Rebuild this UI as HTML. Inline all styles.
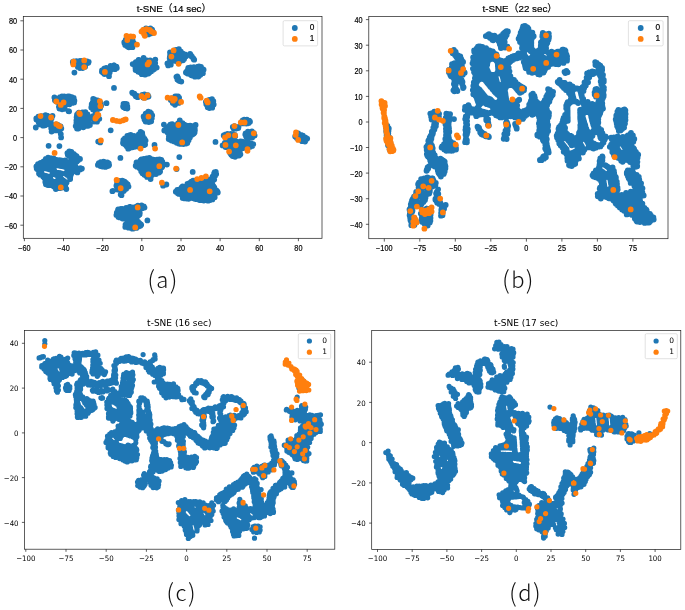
<!DOCTYPE html>
<html lang="en"><head><meta charset="utf-8"><title>t-SNE</title>
<style>
html,body{margin:0;padding:0;background:#fff}
body{width:685px;height:610px;overflow:hidden}
svg{display:block}
text{fill:#000}
.cap{font-family:"Noto Sans CJK SC","Liberation Sans",sans-serif;font-weight:300;fill:#111}
</style></head><body>
<svg width="685" height="610" viewBox="0 0 685 610">
<rect width="685" height="610" fill="#fff"/>

<g id="panel-a" font-family='"Liberation Sans", "Noto Sans CJK SC", sans-serif' stroke="#000" stroke-width="0.18">
<clipPath id="clip-a"><rect x="23.3" y="16.6" width="298.7" height="221.7"/></clipPath>
<g clip-path="url(#clip-a)" fill="none" stroke-linecap="round" stroke-width="5.8">
<path stroke="#1f77b4" d="M73 62.7h0M73.7 61.9h0M77 62.5h0M78.2 63.2h0M80.2 62.1h0M82.6 63.2h0M83.3 63.7h0M84.8 63.2h0M84.7 63.8h0M86.6 61.8h0M88.7 61.8h0M88.3 62.7h0M87 63.2h0M86.4 63.6h0M83.1 63.8h0M79.7 63.9h0M77.8 64h0M75.5 63.6h0M74.3 63.2h0M73.1 62.5h0M72.8 61.9h0M73.8 61.4h0M76.4 61.1h0M80 61h0M81.7 60.8h0M85.2 61.3h0M87.2 61.4h0M88.4 62.2h0M79 65.7h0M79.6 67.4h0M81.9 64h0M81 65.2h0M83.6 64.2h0M83.4 66.7h0M85.1 66.8h0M82.6 68h0M79.9 68h0M77.9 66.9h0M78.4 65h0M81.7 63.8h0M84.6 64.9h0M74.4 72.6h0M101.9 71.7h0M104 68.8h0M104.6 71.9h0M103.9 72.6h0M105.5 69h0M105.4 71.7h0M105.7 72.7h0M107.7 69h0M107.7 70.4h0M108.2 73.6h0M109.7 71.9h0M109.7 72.6h0M107.7 74h0M104.5 74.1h0M103.2 72.8h0M102 70.5h0M104.5 68.3h0M106.2 67.9h0M109.6 68.6h0M111.8 67.5h0M111.2 69h0M113.9 65.3h0M113 67.9h0M114.9 67.4h0M116.8 68h0M114.9 69.2h0M111.4 69.2h0M109.7 68.1h0M110.6 66h0M114.1 65.4h0M116.4 66.6h0M109 76.2h0M114 87.9h0M55.8 101h0M56.6 99.8h0M59.2 98.2h0M59.2 100.5h0M60.6 98.8h0M61.9 100.6h0M62 102.6h0M64.2 96.5h0M63.9 98.7h0M63.3 100.9h0M64.1 102.7h0M65.4 98.4h0M65.8 99.9h0M66.3 102.7h0M67.9 96.4h0M68.1 99h0M66.9 100.5h0M68.1 102h0M67.5 103.8h0M69.8 98.9h0M69.9 101.1h0M70 102.9h0M71.9 98.4h0M71.2 101h0M71.8 102.4h0M73.2 97.8h0M73.3 99.7h0M74.4 100.7h0M74.1 102.4h0M72.4 102.9h0M69.5 104.3h0M66.7 104.1h0M64.3 104.6h0M61.3 103.6h0M59 102.7h0M57.5 102.1h0M54.9 100.2h0M57.2 99h0M58.3 98.5h0M60.1 97.1h0M62 96.5h0M65 96.7h0M69.2 96.3h0M71.8 97.1h0M73.7 98h0M73.9 99.3h0M60.4 106.3h0M61.8 107.3h0M61.8 108.4h0M64.6 106.6h0M63.8 108.9h0M64.7 108.4h0M62.1 109.3h0M59.4 108.6h0M58.9 106.8h0M61.8 104.4h0M63.9 104.8h0M54.4 97.4h0M68.6 111.2h0M91.7 105.3h0M92.4 106.5h0M94.3 100.6h0M93.9 103.5h0M93.8 104.7h0M94.5 107.9h0M93.6 109.4h0M96 100.6h0M96.8 103.3h0M95.6 104.3h0M95.9 107h0M96.4 109.7h0M98.1 102.5h0M98.5 104.3h0M98.6 107.8h0M98.6 108.7h0M100 103.7h0M99.5 105.6h0M99.7 107.3h0M101.1 105.8h0M100.1 108.3h0M97.2 109.5h0M93 109.6h0M91.3 107.5h0M91.7 104.2h0M92.7 102.3h0M94.4 99.4h0M97.6 100.5h0M100.6 102.8h0M106.5 103.2h0M93.2 99h0M125 104.1h0M124.2 104.8h0M126.4 105.9h0M126.6 108.3h0M127.4 108.3h0M127.1 108.6h0M144.6 31.5h0M145.8 29.2h0M145.5 31.3h0M145.7 33.4h0M148 29.3h0M148.4 31.6h0M148.5 33.3h0M150.3 29h0M150.9 30.9h0M149.5 33.7h0M152.2 30.5h0M153 32h0M151.5 33.3h0M148.3 34.4h0M145.5 34.3h0M143.8 31.2h0M144.4 29.7h0M146 28.4h0M150.4 28.5h0M152.1 29.7h0M124.3 42.2h0M125.1 44.1h0M127.6 38.5h0M126.5 40.6h0M126.2 43.2h0M126.8 44.6h0M126.9 45.9h0M128.6 38.3h0M128.5 41h0M129.8 41.7h0M128.9 45h0M128.8 47.3h0M131.1 38.8h0M131.4 40.4h0M131.8 41.9h0M131.5 44h0M131.3 46.2h0M133.3 43.1h0M132.7 44h0M132.4 46.7h0M133.7 42.8h0M132.5 47.2h0M130.7 47.1h0M128 46.8h0M125.2 45h0M124.4 43.1h0M125.8 39.7h0M126.7 38.2h0M128.4 36.8h0M131.7 39h0M132.6 40.5h0M136.3 62.5h0M136.1 64.2h0M136.7 66.7h0M136.2 69h0M138.7 59.8h0M138.2 61.6h0M139.1 64.6h0M139.4 67.4h0M138.6 69h0M139.6 70.3h0M141 62h0M140.5 64.3h0M141 66.1h0M141.3 68.3h0M140.4 70.5h0M140.9 72.3h0M143.1 62.5h0M143.1 64.2h0M142.7 65.8h0M142.9 69.3h0M143.2 70.4h0M143.4 72.4h0M145.1 62h0M145.7 65.1h0M145 67.2h0M144.5 68.1h0M145.2 70.5h0M145 73.7h0M144.7 74.5h0M146.9 60.3h0M147.6 62.5h0M147.5 64.6h0M147.8 67.3h0M147.1 68.4h0M147.9 70.5h0M147.7 73.2h0M149.1 60.7h0M149.5 62h0M149 64.2h0M148.9 66.6h0M148.8 68h0M148.7 70.2h0M149.7 72.3h0M151.3 62.7h0M151.1 64.8h0M151.2 66.3h0M151.9 69.2h0M154.3 63.1h0M153 64.8h0M153.5 66.8h0M153.5 69.4h0M155.5 66.8h0M156.7 67.6h0M154.2 68.9h0M152.7 70h0M151.3 71.2h0M148.4 73.6h0M145.4 74.5h0M141.8 74.2h0M139.9 72.2h0M138.3 71.7h0M135.6 70.1h0M135.5 68.2h0M135.3 66.6h0M135.4 64.4h0M135.8 62.1h0M138.6 59.9h0M142.3 60.8h0M144.4 60.7h0M147.1 60.6h0M150.2 60.5h0M153 61.1h0M155.2 63.2h0M154.6 65h0M143.6 57.9h0M155.3 59.6h0M132.7 64.1h0M170.9 52.8h0M170.4 54.7h0M169.9 57h0M170.5 57.9h0M171.1 60.6h0M172.2 52.5h0M172.6 54.1h0M173.2 55.7h0M172.3 58.5h0M172 60.5h0M174.8 50.5h0M175.2 51.4h0M174.5 53.5h0M174 55.9h0M175.3 58.8h0M174.1 59.9h0M176.4 50.1h0M177.4 52.4h0M176.4 54.4h0M176.7 55.4h0M176.6 58h0M177 60h0M179.6 52.2h0M178.7 53.6h0M179.7 56.5h0M179.3 58.1h0M178.6 60.2h0M180.8 52.3h0M180.6 54.2h0M180.7 56.8h0M180.7 58.9h0M181.3 60.3h0M182.8 54.4h0M183.4 55.8h0M183 57.7h0M185 54.4h0M185.5 55.9h0M186 56.2h0M184.1 58.9h0M183 60.3h0M179.8 61.2h0M177.3 61.6h0M174.8 60.8h0M170.3 61h0M169.7 58.2h0M169.9 56.6h0M170.1 55.1h0M170 52.4h0M173.6 51.6h0M176.1 50h0M179.3 50.8h0M180.9 51.6h0M183 53.6h0M184.7 54.6h0M167.4 63.5h0M169.6 64h0M170.8 64.7h0M168.2 65.4h0M167.6 63.3h0M169.9 63h0M178.9 49.1h0M190.6 54.6h0M190.1 54h0M191.8 56.3h0M192 56.6h0M191.4 56.2h0M193.3 58.5h0M194.2 59.7h0M193.8 59.6h0M186.6 71.6h0M187.4 73.4h0M188.6 68.7h0M188.6 71.5h0M188.9 73.3h0M190.7 67.5h0M190.5 68.9h0M191.3 71.5h0M190.6 72.7h0M191.5 75.3h0M193.8 67.8h0M193 69.2h0M192.6 71.7h0M192.4 73.1h0M193.6 74.8h0M194.6 67.9h0M195.6 69.7h0M194.5 71.8h0M194.7 73h0M195.2 75.7h0M197.9 67.4h0M197 70h0M197.6 71h0M197.8 73.8h0M196.9 75.1h0M199 66.5h0M199.3 68.9h0M199 71h0M199.4 74h0M198.8 76.1h0M202.1 69.7h0M201.1 70.6h0M202.1 73.2h0M202.6 71.8h0M202.9 73.2h0M200.4 74.7h0M198.3 76.6h0M195 76.7h0M192.2 75.5h0M190.8 74.7h0M188.2 73.7h0M185.9 72.5h0M186.8 71.3h0M188 68.9h0M188.3 68h0M192.7 67.3h0M193.9 67.1h0M197.9 66.7h0M201 67h0M202.3 69h0M203.6 69.7h0M177.3 76.5h0M176.4 76.8h0M178.1 78h0M177.4 79.4h0M178.7 80.5h0M181.3 81.6h0M179.6 81h0M132.2 92.6h0M132.5 93.1h0M134.3 93.6h0M134.9 94.8h0M135.5 95.2h0M135.8 95.5h0M135.8 96.2h0M137.4 95.9h0M137.7 97.2h0M137.2 96.9h0M142 95.7h0M144.7 96.2h0M146.9 96.9h0M148.4 96.4h0M148.5 96.6h0M145.3 97.6h0M143.2 97.5h0M141.3 96.2h0M142.3 94.8h0M144.5 94.4h0M147.8 95.2h0M172.1 99.5h0M174.3 98.8h0M173.2 99.8h0M173.8 102.8h0M176.2 98.3h0M176.3 100.5h0M175.6 102.2h0M175.4 103.7h0M178.1 96.4h0M177.7 97.9h0M177.3 99.8h0M177.9 102.7h0M179.4 100.3h0M179.8 101.6h0M179.9 101.1h0M178.7 102.9h0M175 104.8h0M172.8 103h0M170.8 100.1h0M171.4 98.4h0M175.2 96.5h0M176.6 96.6h0M179.1 97.7h0M205.9 102h0M207.8 101h0M208.6 104.3h0M207.8 105.9h0M209.8 102.2h0M209.6 104.2h0M210.3 105.7h0M209.7 107.8h0M211.7 99.9h0M212 101.6h0M212.7 103.6h0M211.9 106.4h0M213.7 104.4h0M212.2 107.7h0M209.4 108.1h0M207.7 107.3h0M206.3 104.2h0M207.2 100.7h0M209.3 99.9h0M212 99.2h0M213.3 101.2h0M36.4 119.6h0M38.8 117.6h0M38.6 120.5h0M41.1 117.8h0M40.3 120h0M40.9 122.9h0M40.6 123.8h0M42.8 117.3h0M43 120.2h0M42.6 121.6h0M41.7 124.1h0M44.2 116.2h0M44.9 117.8h0M44.5 119.8h0M44.6 122h0M44.3 123.9h0M46.6 116h0M46.3 118.7h0M47.1 120.3h0M46.9 122.5h0M46.6 124.2h0M48 118.5h0M48.9 119.8h0M48.3 122.8h0M49.3 124.6h0M50.4 118.8h0M50.9 120.2h0M50.7 121h0M49.4 121.9h0M49.6 124.4h0M45.1 125.3h0M43.2 125.7h0M40.5 124.5h0M38.7 122.2h0M38.2 121h0M36.3 118.3h0M38.4 116.6h0M41.5 116.1h0M45.5 115.2h0M47.2 115.6h0M50.5 116.8h0M51.6 118.2h0M51.5 127.8h0M54.3 125.8h0M54.5 127.8h0M56.8 125.2h0M55.5 126.7h0M56.8 129.7h0M57.8 127.7h0M57.8 129h0M60.4 126.7h0M60.6 129.1h0M61.3 128.4h0M60.2 129.3h0M56.4 130.4h0M53.9 130.3h0M51.2 128.3h0M51.4 126.8h0M53.3 124.8h0M55.9 124.5h0M57.8 125h0M60.6 126.3h0M35.8 127.5h0M51.6 131.6h0M60.8 134.1h0M61.1 137.4h0M52.5 115.8h0M69.1 111.3h0M76.9 115.6h0M77.9 113.7h0M78.2 115.7h0M80.4 113.6h0M81.1 114.7h0M79.7 116.8h0M81.7 112.9h0M81.7 114.9h0M81.7 117.5h0M83.3 117h0M80.2 118.6h0M78.2 117.5h0M77 114.6h0M78.9 112.7h0M82.4 112.3h0M76.8 125h0M76.8 125.9h0M77.7 128.7h0M79.2 127.3h0M78.7 128.2h0M77 128.6h0M75.7 126.1h0M78.8 125h0M88.2 125.8h0M89.9 125h0M94.4 115.7h0M94.1 117.6h0M93.6 119.4h0M96.2 114.4h0M95.3 115.5h0M96.4 117.5h0M96.6 119.8h0M97.6 117.4h0M97.4 120.5h0M99.3 118.8h0M97 121.7h0M94 121.6h0M93.1 118h0M93 116.1h0M95.5 114.1h0M98.3 115.8h0M110.7 130.3h0M98.2 141.6h0M100.2 142.4h0M48.6 145.8h0M59.4 146.1h0M37.4 165.8h0M36.7 168.4h0M38.7 164.1h0M39.1 165.9h0M38.5 168.5h0M38.8 170.6h0M39 173.5h0M41.7 164.8h0M40.9 166.9h0M41.3 168.6h0M40.5 170.8h0M41.2 172.5h0M41.1 174.4h0M42.9 162.6h0M43.3 164.7h0M42.8 166.8h0M42.2 169.2h0M41.4 170.4h0M41.3 172.8h0M42.9 175.2h0M43.1 176.4h0M44.4 162.6h0M45.8 164.7h0M45.3 167h0M46.1 168.3h0M46.5 168.5h0M43.4 175.2h0M45.3 175.8h0M45.3 176.8h0M45.3 182h0M48 158h0M46.9 160.5h0M46.6 162h0M47 163.8h0M47.4 166.4h0M47.7 168.4h0M48.3 169h0M48.2 168.9h0M46.1 176h0M47.8 176.7h0M47.2 179.2h0M46.8 181.3h0M46.5 183.1h0M48.7 158.5h0M49.9 161h0M49.8 161.8h0M49.4 164.6h0M49.5 165.9h0M50.1 168.6h0M49.5 169.3h0M49.9 169.4h0M50.1 176.6h0M48.9 176.7h0M49.5 178.8h0M49.6 181.9h0M50.1 184h0M50 185h0M50.8 158.5h0M51.5 159.4h0M51.9 161.6h0M52 164.9h0M51.4 166.4h0M50.7 168.9h0M51.2 169.9h0M52.9 173.1h0M50.4 176.1h0M50.3 176.4h0M51 180.1h0M51.3 181.3h0M51.1 183h0M52.8 159.7h0M52.8 162.5h0M53.7 165.2h0M53.2 166.1h0M53.1 168.1h0M52.8 170.7h0M53.4 172.6h0M54.3 174.2h0M55.1 174.5h0M51.1 180.2h0M53.7 181.8h0M52.8 183.7h0M54.9 160h0M56.3 161.6h0M55.3 163.7h0M55.9 165.5h0M53.8 168.2h0M54.5 171.2h0M55.8 173.1h0M55.2 174.5h0M55.8 174.7h0M58.2 179.7h0M56.4 181.5h0M58 162.2h0M57 163.8h0M58.8 165.5h0M59 165.5h0M57.9 172.8h0M58.1 173.5h0M57.2 174.1h0M57.7 175.9h0M58.4 179.4h0M57.7 180.6h0M57.9 182.7h0M60.4 160.5h0M60.3 162.3h0M60.5 165h0M60.6 165.9h0M60 165.7h0M58.7 173h0M59.8 173.6h0M59.5 174.8h0M60.4 177.8h0M60.2 179.7h0M60.5 180.9h0M60 182.6h0M62.3 160.8h0M61.8 162.2h0M61.2 164.9h0M62.1 166.2h0M61.9 166.2h0M60.5 173.4h0M61.1 173.5h0M60.5 175.1h0M60.8 178.4h0M61.5 179.2h0M61.6 181.8h0M63.9 160.9h0M63.5 161.9h0M63.2 163.7h0M64.6 166.8h0M63.8 166.6h0M67.4 169.9h0M65.4 173.4h0M65.6 173.5h0M66.3 174h0M63.1 180.4h0M64.5 181.6h0M66.5 162h0M65.9 165.1h0M66.6 167.1h0M67.1 168.7h0M67.4 171h0M66.5 172.8h0M66.6 174.2h0M67.5 175h0M66.6 182.4h0M64.8 181.8h0M68.9 162h0M68.3 164.5h0M68.1 166h0M68.7 168h0M67.8 170.4h0M67.7 172.3h0M67.5 175h0M68.7 175.9h0M71 165.2h0M70.3 167.3h0M70.5 168.4h0M69.7 170h0M70.5 173.2h0M70.5 175.4h0M70.2 177.4h0M71.9 162.4h0M73.2 163.8h0M73 165.7h0M73.2 169.3h0M74.1 164.6h0M74.5 167h0M71.4 171.2h0M71.6 173.2h0M70.6 175.2h0M69.8 177.1h0M70.2 179h0M65.4 182.1h0M64.4 181.5h0M61.8 182.1h0M58.8 182.2h0M54.7 184.4h0M52.7 183.4h0M47.8 185.1h0M45.9 184.3h0M45.4 180.4h0M44.1 177.4h0M43.5 176.3h0M40.2 174.7h0M40 173h0M39.5 171.6h0M37.1 168.9h0M36.4 166.5h0M38 164.1h0M40.6 162.8h0M43.6 161.5h0M45.8 158.9h0M48.1 157.6h0M51.3 158.3h0M53.6 158.5h0M56.6 160h0M59.7 160.1h0M62.1 160.6h0M65.1 160.4h0M68.4 162.1h0M71 162.4h0M75 163.8h0M75.7 166.9h0M73 169.6h0M69.3 151.5h0M69.1 151.6h0M67.4 153.1h0M67.8 154.7h0M71.4 152h0M70.2 153.5h0M69.2 156.1h0M73.6 153.8h0M71.7 155.6h0M70.8 156.9h0M75 155.2h0M73.1 156.3h0M72.3 158.1h0M72.1 157.7h0M76.5 156.2h0M75.9 157.7h0M77.5 157.6h0M77.1 158.3h0M76.5 160.3h0M80 158.9h0M78.1 160.3h0M76.8 161.4h0M76.7 161.2h0M76.5 171.5h0M77.4 172.1h0M77.4 172.4h0M78.6 170.1h0M79.8 169.4h0M80.9 168.9h0M80.1 169.6h0M80.5 168.2h0M81.7 168.7h0M81.9 168.6h0M54.8 182.9h0M54.7 185h0M54.4 186.8h0M57 181.3h0M57.2 183h0M57.4 185.5h0M56.8 186.6h0M57.4 188.2h0M59.4 181.9h0M59.4 185.4h0M59.3 186.8h0M61.7 182.9h0M60.7 185.4h0M60.7 186.8h0M62.9 183.3h0M63.2 184.6h0M64.9 185.2h0M65.3 185.7h0M64.6 186.5h0M61.2 187.7h0M59.7 188.2h0M55.3 187.6h0M53.8 186.6h0M53.4 184.8h0M53.9 183.1h0M54.6 181.8h0M57.8 181.4h0M61.1 181.1h0M63.4 182.2h0M64.7 183.3h0M66.3 189h0M55.8 189h0M120.4 157.9h0M100.4 163.8h0M102 164.3h0M101.6 165.9h0M104.3 161.8h0M104.2 163.9h0M104.4 165.9h0M106.8 162.9h0M106.6 164h0M105.8 166.5h0M108.1 162.8h0M108.7 164.3h0M108 166.1h0M109.1 165.1h0M108.5 165.8h0M105.4 166.9h0M102.3 166.6h0M100.4 166.1h0M99.1 164.9h0M98.8 163.2h0M100.7 162.2h0M103.5 161.7h0M107.3 162.4h0M108.8 163.3h0M97.9 164.9h0M117.9 181.1h0M117 183.9h0M118.3 186.2h0M118.3 187.3h0M119.2 182.1h0M120.6 183h0M120.6 185.9h0M119 187.6h0M119.6 189.6h0M121.9 182h0M121.7 184h0M122.4 185.5h0M122.3 187.6h0M121.4 189.8h0M124.3 181.9h0M124.3 184.3h0M124.2 186h0M124.1 187.9h0M124.7 189.6h0M126.1 183h0M126.4 186.5h0M125.5 188h0M127.6 186.7h0M125.6 187.9h0M123.7 191h0M121.7 191.4h0M117.4 189.5h0M117.3 187.3h0M116.4 185.7h0M117.1 181.4h0M119.8 181.3h0M123.4 181.1h0M124.6 181.6h0M127.7 184.5h0M112.4 191.2h0M121.5 195.2h0M123.7 105.9h0M123.7 107.2h0M125.3 104.2h0M125.8 105.1h0M125 107.1h0M126.4 104.2h0M126.6 105.3h0M127.3 106.3h0M125.4 108.2h0M123.1 106.5h0M123.5 103.9h0M126.8 104.2h0M143.7 116.9h0M146.8 113.2h0M146.4 114.7h0M146.8 117.8h0M146.2 118.7h0M147.7 113.6h0M148.6 115.3h0M148.4 116.3h0M148.8 118.8h0M148.6 121.3h0M149.9 112.1h0M150.1 114.2h0M151 117.6h0M150.2 118.5h0M149.9 121.7h0M151.9 115.4h0M151.7 117.7h0M151.8 118.3h0M151.2 121.3h0M148.8 122.1h0M145.6 121.5h0M144.5 119.5h0M143.6 116.5h0M145.7 113.7h0M148.3 111.6h0M151 113.2h0M152.2 115.4h0M165.7 130.6h0M167.7 128.6h0M167.5 130.5h0M167.4 132.1h0M169.6 125.7h0M169 127.6h0M170.4 131.1h0M170.3 131.9h0M169.9 139.5h0M172.5 126.3h0M171 128.2h0M172.4 130.7h0M171.7 133.1h0M172.2 134.1h0M172.1 137.2h0M171 139.5h0M173.7 126.6h0M174.2 129h0M174.5 130.4h0M174.3 133h0M173.9 134.8h0M174.4 137.2h0M173.3 138h0M174.2 141.4h0M176.5 126.9h0M175.4 128.6h0M176 131h0M175.9 132.3h0M175.5 135.1h0M175.7 137.3h0M175.2 139.4h0M175.2 141.2h0M176.7 142.7h0M177.6 126.7h0M177.3 127.5h0M177.9 130.2h0M178.6 133h0M177.7 134.9h0M177.8 137.1h0M178.3 138.1h0M178 140.7h0M179.6 123.7h0M180.9 126h0M180.8 129h0M180.5 130.1h0M180.6 132.5h0M180.9 134.6h0M180.4 136.9h0M180.4 138.2h0M180.3 140.7h0M183 124.5h0M182.8 126.2h0M181.7 128h0M181.6 130.2h0M182.2 132.4h0M183 134.6h0M181.7 136.1h0M182.6 138.8h0M182.1 140.8h0M184.8 126.3h0M184.4 127.6h0M184.7 129.9h0M184.2 132.6h0M184 135.1h0M184.4 137.4h0M183.6 138.7h0M184.1 141h0M185.8 126.2h0M187.1 128.8h0M187 130.5h0M186.5 132.1h0M185.9 134.5h0M187 136.7h0M187.2 139.2h0M186.5 141h0M188.6 126.4h0M189.2 128.9h0M188.5 130.2h0M188.9 132.7h0M187.9 134.6h0M188.2 136.9h0M188 138.4h0M188.2 140.5h0M191.3 126.8h0M190 128.9h0M190.2 129.8h0M190.9 132.2h0M190.2 134.7h0M192.4 126.1h0M192.7 129h0M192.2 130h0M193 132.2h0M192.5 134h0M194.5 128h0M194.9 130.2h0M194.6 132.4h0M193.8 133.6h0M192.6 134.6h0M190.5 135.7h0M189.9 137.5h0M188.6 140.3h0M184.7 140.6h0M183.4 140.4h0M180.5 142.3h0M176.4 142.1h0M173.6 140.7h0M171.5 140.6h0M168.7 138.9h0M168.9 136.6h0M169.6 134.2h0M167.8 132.7h0M164.3 130.5h0M166.1 129.2h0M168.4 127.2h0M170.3 124.7h0M172.2 124.2h0M177 124.6h0M178 123.4h0M182.5 123.1h0M184.2 124.7h0M186.6 125.6h0M190.1 125.7h0M193.8 126.3h0M194.8 129h0M194.8 130.7h0M163.9 124.6h0M179.8 120.3h0M195.6 125h0M178.1 142.4h0M179.5 142.4h0M182 142.2h0M185 141.9h0M186.7 142.4h0M187.3 143.1h0M186.2 143.6h0M183.4 144h0M180.4 143.9h0M178.6 143.5h0M176.7 142.7h0M177.4 141.8h0M180.1 141.4h0M182.1 141.1h0M184.7 141.3h0M187 142.2h0M123 143.1h0M124.9 138.8h0M125.1 140.8h0M125.5 143.5h0M126.2 145.1h0M127.1 137.7h0M128 140.3h0M127.3 142h0M127.4 143.7h0M127.3 145.7h0M128.3 147.5h0M129.8 135.1h0M130.1 137.7h0M129.6 140.3h0M129.1 142.2h0M130.1 144h0M129.7 146.2h0M129.1 148.2h0M131.9 135.7h0M131.9 136.8h0M131.9 139.9h0M131.3 141.5h0M132.4 142.9h0M132.5 145.6h0M134.6 136.1h0M134.3 137.7h0M134.3 140.2h0M133.4 141h0M134.5 142.9h0M134 145.7h0M135.4 137.2h0M136.6 139.2h0M135.6 141.1h0M136.8 144.3h0M135.9 145.5h0M137.7 137.8h0M138 138.8h0M138.4 141.2h0M138.8 143.2h0M138.5 145.7h0M140.1 137.1h0M139.8 139.9h0M139.5 141.7h0M139.7 143.4h0M140 145.7h0M142.7 139.2h0M143.1 142h0M142.9 143.8h0M144.8 139.5h0M144.3 141h0M145.1 144.5h0M143.8 141.7h0M144.6 143.3h0M144 145.2h0M141 146h0M137.9 146.5h0M134.7 146.8h0M132.4 147.3h0M128.2 148.7h0M126.7 146.3h0M125.5 144.7h0M123.3 143.6h0M123.2 141.7h0M123.4 139.8h0M124.8 138.5h0M127.2 137.6h0M127.3 135.9h0M130.7 135h0M134.5 136.2h0M136.5 136.2h0M139 136.6h0M141.4 137.5h0M144.4 138.6h0M145.6 140.6h0M140 133.8h0M140.7 134.6h0M140.4 137.7h0M142.2 133.7h0M142 135.7h0M142.8 136.1h0M141 138.4h0M138.9 137.1h0M138.8 134.5h0M140.6 131.9h0M142.2 133h0M154.5 144.9h0M179.3 157.1h0M137.5 164.5h0M136.9 166.7h0M140.5 160.4h0M140.1 163.7h0M139.4 167.1h0M139.7 168.2h0M141.5 160.1h0M142.3 162.4h0M142 163.8h0M142 166h0M142.3 169.1h0M142 171h0M143.7 160h0M143.5 163h0M144.7 165.2h0M143.4 166.9h0M143.4 168.6h0M143.9 170.5h0M144.4 172.4h0M145.5 159.6h0M146.3 162.1h0M146.3 163.9h0M146.2 166.2h0M145.9 168.8h0M146.7 170.3h0M146.5 172.1h0M145.5 175.3h0M147.9 158.8h0M147.7 160.9h0M147.9 162.2h0M148.6 164.9h0M147.6 166.8h0M148.9 168.5h0M148.2 171h0M148.5 172.7h0M147.9 174.5h0M148.3 176.8h0M149.7 159.8h0M151 162.9h0M149.4 163.7h0M150.3 166.5h0M150.3 169.2h0M150.8 170.2h0M151 172.8h0M150.2 174.4h0M149.8 176.6h0M152.2 159.7h0M153.1 161.6h0M152.8 163.7h0M152 166.5h0M152.2 169h0M152.4 171.1h0M151.6 172.5h0M152 174.9h0M154.9 162h0M154.1 163.7h0M154 167.2h0M154.4 169h0M154.4 170.4h0M154.2 172.9h0M157.1 159.7h0M156.3 161.7h0M157 164.9h0M157.2 166.1h0M157.1 169h0M156.6 170.7h0M157 172.8h0M158.8 160.3h0M158.9 161.6h0M158.6 164.8h0M159 167.1h0M158.2 169.4h0M159.4 171h0M159.1 172.4h0M161.3 160h0M159.9 163h0M161.4 164.3h0M161 165.8h0M162.4 162h0M162.2 166.7h0M161.9 167.3h0M160.3 169.2h0M160.1 171.5h0M158.3 172.7h0M156 174h0M152.8 173.7h0M151.2 175h0M147 176.9h0M144.4 174.7h0M142.5 173.2h0M141.2 171.3h0M141.4 169.6h0M139.2 167.7h0M135.7 165.7h0M137.1 164.2h0M139.7 161.6h0M141.4 159.4h0M143.9 158.8h0M146.7 158.5h0M149.3 158h0M152.3 159.4h0M154.6 160h0M159.5 159.3h0M161.7 160.8h0M161.8 162.3h0M162.1 164.6h0M166.9 164.6h0M150.6 179.1h0M136.5 162.4h0M176.6 169.1h0M192.7 171.9h0M166.4 184.5h0M163.1 185.7h0M215.5 141.9h0M242.2 121.8h0M242.7 120.3h0M243.8 121.2h0M243.5 123.4h0M245.9 121h0M248.2 122.1h0M247.2 123.4h0M249.9 121.5h0M250 121.7h0M248.7 123.1h0M246.3 123.5h0M242.7 123.4h0M241.6 122.2h0M242.7 120.4h0M244.2 119.6h0M246.9 119.7h0M249.2 120.7h0M233.7 127.5h0M236.1 127.9h0M237.4 127.8h0M238.3 128h0M235.6 128.7h0M233.6 128.6h0M232.8 126.9h0M234.4 126.2h0M238.5 126.9h0M246.1 136.2h0M248.5 133.2h0M248.1 134h0M248.4 136.5h0M249.7 132.6h0M249.3 134.1h0M250.3 136.2h0M252.2 132.5h0M252.6 133.8h0M252.2 135.9h0M254.1 134.7h0M254.6 135.5h0M252.2 137.6h0M249.8 137.6h0M246.1 136.6h0M245.3 134.4h0M245.6 133.3h0M247.9 131.7h0M251.9 131.5h0M253.9 133.1h0M225.8 134.3h0M225.9 135.3h0M226.1 137.2h0M228.3 134.4h0M227.2 136.6h0M227.8 137.1h0M228.8 135.5h0M229.2 137.3h0M231 136.3h0M231.2 137.2h0M234.4 136.2h0M235.2 136.2h0M234.2 137h0M231.2 137.7h0M228.3 137.7h0M225.6 137.3h0M224.9 136.4h0M223.7 135.5h0M224.7 134.8h0M227.5 133.8h0M230.8 133.8h0M233.4 134.3h0M234.8 134.8h0M224.8 142.8h0M225 144.3h0M227.7 143.6h0M226.5 145.1h0M226.6 146.8h0M228.7 142.4h0M228.3 144.7h0M229.8 146.8h0M231.6 143.3h0M231.3 144.3h0M231.4 147.2h0M234.1 141.4h0M232.9 142.7h0M233.3 144.9h0M232.6 146.8h0M235.5 143.6h0M235.1 144.7h0M234.8 147.6h0M238.2 143.1h0M237.5 144.3h0M237.7 146.3h0M237.4 148.7h0M239.9 142.2h0M240.1 144.8h0M239.1 147.5h0M241 142.3h0M242.2 145.1h0M241.4 147.6h0M243.8 142.9h0M243.8 144.9h0M244.2 146.6h0M246.6 142.4h0M246.4 145.6h0M245.8 146.8h0M248.4 142.9h0M247.6 145.1h0M249.4 144.2h0M250.1 146.8h0M252 145.2h0M251.7 145.1h0M252.2 145.9h0M250.3 146.7h0M248.3 147h0M244.3 147.3h0M242.8 148.2h0M241.2 148.2h0M237.5 148.5h0M234.7 148.6h0M232.1 148.5h0M229.7 148.4h0M227.8 147.2h0M225.5 147h0M224.9 146.3h0M222.6 145.4h0M225.6 144.6h0M226.2 144.3h0M225.4 143.5h0M225.8 142.1h0M227.6 142h0M231.1 141.6h0M233.1 141.4h0M236.6 141.6h0M240.5 141.5h0M242.3 141.7h0M246 141.7h0M248 142.2h0M248.9 143.3h0M251.7 143.6h0M253.3 144.2h0M230.7 153.8h0M233 153.9h0M233 155.7h0M236.2 152h0M235.2 153.7h0M235 155.4h0M236.7 152.5h0M237.3 154.3h0M238.1 155.7h0M238.8 152h0M239.5 153.5h0M240.4 154.3h0M239.1 155.6h0M235.1 156.8h0M232.6 156h0M231.3 154.8h0M230.2 153.1h0M232.2 151.7h0M234.3 151.3h0M238.2 151.7h0M239.9 152.3h0M298.2 133.3h0M297.4 134.1h0M296.5 135.3h0M295.2 136.4h0M298.4 134.5h0M298.5 136.7h0M296.8 138.1h0M300.7 135h0M301.1 135.1h0M300.1 136.5h0M298.8 138.6h0M298.7 138.9h0M302.9 135.6h0M302.3 136.4h0M302.4 138.7h0M301 139.9h0M301 140.1h0M305.1 137.4h0M304.5 138.7h0M303 140.3h0M302.1 141.2h0M306.3 138.2h0M307.2 138.6h0M305.6 140.5h0M305 141.5h0M176.7 191.7h0M179.3 189.7h0M179 192.2h0M179.9 193.4h0M181.9 187.1h0M181.1 190.6h0M181.4 191.8h0M180.8 193.9h0M183.2 187.3h0M183.9 190.2h0M183.5 192.1h0M183.7 194h0M182.8 196.9h0M183.8 198.3h0M186 188.2h0M184.8 189.3h0M184.7 192.3h0M185.7 193.6h0M185.1 196.8h0M187.4 188.1h0M187.5 189.5h0M187.1 192.4h0M187.7 194.5h0M187.1 196.1h0M186.9 197.8h0M189.9 187.9h0M189.3 190.2h0M190 191.3h0M190.3 194.7h0M190.1 196.9h0M189.4 197.7h0M192.2 186.3h0M191.2 187.3h0M191.9 189.7h0M191.4 191.2h0M191.7 194.9h0M191.6 195.8h0M193.3 185.6h0M194.2 187.8h0M193.9 189.2h0M194.6 191.6h0M193.7 194.6h0M194.6 196h0M195.7 184.3h0M195.2 185.6h0M195.7 188.2h0M196.3 190.7h0M196.7 192.2h0M196.6 194.3h0M195.5 196.2h0M195.6 199h0M197.8 183.5h0M198.1 185.1h0M198.1 187.1h0M198.4 189.2h0M198 191.2h0M198.5 194.8h0M198.5 196.1h0M198 198.7h0M200.2 183.2h0M200.3 185.4h0M200.5 188h0M199.4 189.7h0M200.6 191.8h0M200.6 194.7h0M200.8 196.6h0M200 198.3h0M199.5 200.1h0M201.5 183.7h0M202.9 185.7h0M202.9 187.6h0M201.9 189.4h0M202.1 191.7h0M201.6 193.8h0M203 196.7h0M202.1 197.9h0M202.3 200.1h0M205 184.1h0M204.3 185.7h0M204.8 187.9h0M203.8 189.7h0M203.7 192.3h0M204.8 194.3h0M203.6 196.1h0M203.6 198.6h0M204.8 199.9h0M206.3 185.2h0M206.9 187.8h0M206.9 189.9h0M206 191.6h0M205.8 194.5h0M206.5 196h0M207.2 198.1h0M206.2 200h0M208.6 184.3h0M208.7 186.4h0M208.3 187.3h0M208.1 190.4h0M207.9 191.7h0M209.1 193.4h0M208.9 196h0M208.1 199h0M209.1 200h0M211 185.7h0M211.2 188.5h0M211.3 189.8h0M210.4 192.2h0M210.5 194h0M210.3 195.7h0M210 198.5h0M213.4 187.7h0M212.7 189.9h0M212.3 192.7h0M212.8 194.2h0M213.4 196.5h0M213.3 197.7h0M215.6 190.6h0M214.4 192.1h0M216.4 190.3h0M216.8 192.5h0M217.8 192.5h0M215.6 193.3h0M213.2 194.5h0M212.7 195.2h0M214.7 197.2h0M212.4 199.4h0M210.2 200h0M208.1 200.7h0M203.8 200.5h0M201.1 200.1h0M196.6 199.1h0M194.7 198.8h0M192.3 198.1h0M188.6 198.8h0M186.6 198.5h0M182.7 197.9h0M183.3 196.1h0M182 195.3h0M179 193.9h0M177.8 193.2h0M175.8 191.7h0M177.3 190h0M180.3 189.2h0M181.5 187.7h0M182.6 186.4h0M186.8 186.4h0M190.5 187h0M192.2 186.7h0M193.2 185.5h0M195.2 184h0M198.4 183.4h0M203.2 182.8h0M205.6 183.8h0M207.5 184.4h0M210.5 185.9h0M211.8 186.6h0M212.2 187.8h0M214 189.1h0M216.3 190.3h0M217.3 191.3h0M186.4 187.5h0M187.4 184h0M188.3 185.6h0M188.5 188.1h0M188.5 189.2h0M190.1 183.3h0M189.9 186.5h0M190.7 187.3h0M192.3 182.3h0M192.9 184.3h0M192.7 186.5h0M192 188.2h0M194.2 180.8h0M193.9 184.3h0M195 185.8h0M194.3 187.3h0M195.9 180.9h0M195.9 184.2h0M196.8 185.6h0M195.7 187.9h0M196 190.2h0M197.8 182.4h0M198.8 183h0M197.9 186.2h0M199.2 187.2h0M198.6 190.5h0M201.3 181.4h0M201 183.2h0M200.6 185.2h0M200.8 187.3h0M200.4 189.2h0M201.3 192.3h0M202.4 181.5h0M203.2 183.2h0M201.9 185.8h0M202.2 187.1h0M202 189.9h0M202.5 191.7h0M204.3 180.2h0M204.5 181.5h0M205.5 183.7h0M204.3 185.7h0M205.5 188.4h0M204.5 189.3h0M205.4 191.8h0M207.3 180.2h0M207.1 182.2h0M207 183h0M207.1 185.4h0M207.3 188.5h0M206.8 190.3h0M208.9 182.3h0M208.3 184.3h0M208.3 185.4h0M209.2 187.2h0M209.4 189.7h0M210.4 181.5h0M210.7 183.7h0M211.6 186.2h0M211.5 187.2h0M212.9 188.1h0M213.4 186.1h0M214.3 187.4h0M212.8 188.6h0M210.8 189.8h0M208.8 190.8h0M206.8 192h0M202.2 192.4h0M199.6 192.3h0M197.1 191.4h0M195.5 190.4h0M193.1 189.6h0M189.6 189.6h0M185.7 188.8h0M186.8 187.1h0M187 185.7h0M188.3 184.1h0M189.8 182.9h0M191.4 181.7h0M193.1 180.7h0M196.1 180.3h0M198.3 180.7h0M202 179.8h0M204 179.1h0M208.1 179.7h0M210.5 181.2h0M212.3 182.4h0M211 183.7h0M211.8 184.9h0M215.8 172h0M214.7 172.2h0M216.2 174.1h0M214.9 174.3h0M214.1 173.4h0M215.1 175.7h0M214.2 175.7h0M213.2 176.1h0M213.3 178.6h0M212.5 176.7h0M214.2 179.6h0M213.5 177.8h0M211.8 178.5h0M116.5 215h0M118 209.8h0M118.9 211.8h0M117.6 213.7h0M118.2 216.4h0M120.9 209h0M120.8 211.3h0M119.5 214.1h0M120.3 216.4h0M120.1 217.1h0M121.7 210.2h0M122.8 211.7h0M122.4 213.6h0M122.6 216.3h0M121.8 217.6h0M123.9 209.8h0M124.2 211.8h0M123.9 213.9h0M124.5 215.1h0M123.9 217.4h0M125.9 209.4h0M125.9 210.9h0M127.1 214.3h0M127.3 216.1h0M126.7 217.9h0M128.9 208.9h0M129.2 211.5h0M129 213.3h0M129.3 215.3h0M129.4 217.2h0M129 219.6h0M130 207h0M130.3 208.9h0M130.4 210.8h0M130.8 213.5h0M131.1 216.5h0M130.9 218.1h0M131.4 220.7h0M133.4 208.7h0M132.3 212.2h0M133.3 212.9h0M132.4 215.6h0M132.1 217.4h0M132.6 220.7h0M135.7 207.9h0M134.6 209.4h0M134.2 211h0M134.2 213.4h0M134.6 215.1h0M134.3 217.3h0M134.2 219.4h0M137.1 210h0M137.7 212h0M137.1 214h0M136.6 216.3h0M137.1 217.1h0M138.7 212.2h0M139.8 213.1h0M139.6 214.5h0M138.7 215.3h0M136.9 217.4h0M136.2 219.3h0M133.8 220.8h0M131.6 221.3h0M127.3 220h0M125.3 218.8h0M122.5 218.5h0M119.7 217.4h0M118.4 216.9h0M116.4 215.1h0M116.8 212.7h0M118 211.3h0M118.2 209.5h0M122.4 209h0M124.6 208.9h0M126.2 208h0M129.7 206.9h0M133 207.3h0M136.8 207.7h0M136.9 209.4h0M137 211.1h0M139.2 212.3h0M125.8 224.3h0M127 226.2h0M128.3 222.6h0M129.3 224.2h0M128.9 226.4h0M130 219.8h0M130.2 221.6h0M130 224.6h0M130.6 226.2h0M132.9 220.6h0M132.6 221.4h0M132.4 223.5h0M133.2 226.2h0M132.4 228.7h0M135.4 220.2h0M135.6 222.7h0M134.1 223.5h0M134.9 226.2h0M134.7 227.8h0M137.5 222.4h0M136.7 223.6h0M137 226.5h0M138.3 222.1h0M139.2 223.5h0M139.5 226h0M140.9 224.5h0M140.4 225.7h0M141.2 224.8h0M138.7 226.4h0M136.4 227.9h0M133.5 228.5h0M131 228.1h0M128.6 227.7h0M125.3 226.9h0M125.5 224.7h0M127.1 222.4h0M127.8 221.1h0M129.9 220.1h0M133.1 219h0M135.8 219.5h0M138.2 221.8h0M139.4 223.2h0M136.7 207.1h0M137.5 206.7h0M140.1 207.8h0M141.9 207.5h0M143.9 207.5h0M144.5 207.6h0M142.3 208.3h0M139.5 208.5h0M136.8 207.8h0M136.3 206.7h0M137.9 205.7h0M141.6 205.4h0M143.8 206.4h0M147.4 220.4h0M118.1 181h0M118.5 184.2h0M118.1 185.9h0M118 188h0M119 189.6h0M119.8 181.6h0M120.8 184.4h0M120.2 185.4h0M120 187.3h0M120.9 190.5h0M122.5 181.8h0M122.8 183.2h0M121.9 186.1h0M122.3 188.6h0M123.1 190.7h0M123.8 183.4h0M124.3 185.5h0M124 187.8h0M125.1 189.2h0M125.8 182.9h0M126.4 185.6h0M126 188.5h0M128.5 186.6h0M126.2 188.7h0M123.9 190.7h0M121.4 191h0M118 189.2h0M117.5 185.7h0M118.2 183.8h0M119.2 180.9h0M122.3 180.6h0M124.5 181.7h0M126.4 183.3h0M112.9 190.8h0M120.7 194.6h0M66.3 189.1h0M76.6 117.3h0M76.4 120.6h0M79.1 113.8h0M78.3 117.7h0M78.4 119.2h0M78.4 121.4h0M79.2 124h0M79.8 113.4h0M81.3 115.5h0M81.1 117.7h0M80.2 119.5h0M80.2 121.5h0M80.8 124.8h0M80.1 126.7h0M83.3 115.2h0M82.7 117.2h0M83.2 119.2h0M82.7 121.7h0M82.1 123.3h0M83.3 125.6h0M85.3 113.8h0M85.2 115h0M85.2 117h0M85.2 120.5h0M85.3 122.1h0M85.5 123.9h0M85.1 125.9h0M86.1 115.7h0M87.3 118.2h0M86.7 120h0M87.3 121.9h0M86.7 123.3h0M88.2 121.1h0M87.5 124.2h0M86.2 125.8h0M83.3 127.3h0M80.5 126.9h0M79.7 123.8h0M76.4 123.1h0M76.4 120.5h0M77 116.6h0M79 114.9h0M80 112.9h0M83 113.7h0M85.4 112.1h0M87.5 114.4h0M88.1 117.4h0"/>
<path stroke="#ff7f0e" d="M73.6 61.6h0M73.3 64.4h0M84.2 60.4h0M84.2 67.1h0M104.9 71.9h0M56.3 101.5h0M63.6 102.4h0M60.8 104.9h0M99.9 101.2h0M100.4 106.2h0M143.1 30h0M144 34.1h0M146.5 29.1h0M149.8 30h0M151.5 31.6h0M154 33h0M141.5 31.6h0M144.8 35.8h0M126.5 35.8h0M130.7 36.3h0M133.2 36.6h0M127.3 40h0M137 44.6h0M149 62.4h0M147.6 64.4h0M173.6 50.4h0M171.4 56.6h0M178.6 63.8h0M141.5 96.2h0M144.3 97.9h0M147.6 95.4h0M167.6 97.7h0M171.4 98.2h0M174.8 99h0M181.1 101.9h0M173.1 100.7h0M199.7 96.5h0M200.6 97.7h0M206.7 100.7h0M207.7 102.4h0M40.5 116.1h0M51.1 117.5h0M56.3 124.1h0M58.6 125.8h0M59.9 126.3h0M79.9 114.1h0M95.5 118.1h0M95.4 118.6h0M96 117.4h0M96.5 116.8h0M97.5 114.4h0M97.6 115.8h0M98.3 115h0M112.9 120h0M116.5 120.8h0M119.9 121.3h0M123.2 120.3h0M125.7 119.3h0M100.9 140.4h0M54.6 152.9h0M60.8 187.4h0M116.9 180.2h0M120.7 188.2h0M148.5 116.6h0M124.8 119.6h0M178.4 125h0M182.2 142.4h0M140.6 148.6h0M155.1 148.6h0M159.3 166.2h0M148.5 174.4h0M176.1 168.6h0M161.9 182.7h0M240.8 122.5h0M244.6 122.5h0M234.5 126.1h0M253.8 133.3h0M225 137.4h0M228.3 135.3h0M235 135.4h0M225.5 144.9h0M235.8 145.3h0M247.5 149.1h0M247.5 150.8h0M229.1 151.6h0M296 132.5h0M295.7 134.9h0M298.2 139.9h0M197.2 179.1h0M201.4 178h0M205.9 176.3h0M190.1 189.9h0M209.7 191.3h0M137.7 207.4h0M135.2 227.4h0M116.6 179.9h0M120.7 188.3h0M79.3 113.1h0"/>
</g>
<rect x="23.3" y="16.6" width="298.7" height="221.7" fill="none" stroke="#1a1a1a" stroke-width="0.7"/>
<path d="M24.4 238.3v2.9M63.5 238.3v2.9M102.7 238.3v2.9M141.8 238.3v2.9M181 238.3v2.9M220.1 238.3v2.9M259.3 238.3v2.9M298.4 238.3v2.9M23.3 20.8h-2.9M23.3 50h-2.9M23.3 79.2h-2.9M23.3 108.4h-2.9M23.3 137.6h-2.9M23.3 166.8h-2.9M23.3 196h-2.9M23.3 225.2h-2.9" stroke="#1a1a1a" stroke-width="0.7" fill="none"/>
<g font-size="8.3">
<text transform="translate(24.4 250.7) scale(0.88 1)" text-anchor="middle">−60</text>
<text transform="translate(63.5 250.7) scale(0.88 1)" text-anchor="middle">−40</text>
<text transform="translate(102.7 250.7) scale(0.88 1)" text-anchor="middle">−20</text>
<text transform="translate(141.8 250.7) scale(0.88 1)" text-anchor="middle">0</text>
<text transform="translate(181 250.7) scale(0.88 1)" text-anchor="middle">20</text>
<text transform="translate(220.1 250.7) scale(0.88 1)" text-anchor="middle">40</text>
<text transform="translate(259.3 250.7) scale(0.88 1)" text-anchor="middle">60</text>
<text transform="translate(298.4 250.7) scale(0.88 1)" text-anchor="middle">80</text>
<text transform="translate(17.1 24.2) scale(0.88 1)" text-anchor="end">80</text>
<text transform="translate(17.1 53.4) scale(0.88 1)" text-anchor="end">60</text>
<text transform="translate(17.1 82.6) scale(0.88 1)" text-anchor="end">40</text>
<text transform="translate(17.1 111.8) scale(0.88 1)" text-anchor="end">20</text>
<text transform="translate(17.1 141) scale(0.88 1)" text-anchor="end">0</text>
<text transform="translate(17.1 170.2) scale(0.88 1)" text-anchor="end">−20</text>
<text transform="translate(17.1 199.4) scale(0.88 1)" text-anchor="end">−40</text>
<text transform="translate(17.1 228.6) scale(0.88 1)" text-anchor="end">−60</text>
</g>
<g font-size="9.9"><text transform="translate(174 11.7) scale(0.99 1)" text-anchor="middle">t-SNE（14 sec）</text></g>
<rect x="283.1" y="20.7" width="34.5" height="25.2" rx="1.3" fill="#fff" fill-opacity="0.8" stroke="#cccccc" stroke-width="0.6"/>
<circle cx="294.8" cy="28" r="2.9" fill="#1f77b4" stroke="none"/><circle cx="294.8" cy="38.9" r="2.9" fill="#ff7f0e" stroke="none"/>
<g font-size="8.3" text-anchor="middle"><text x="312" y="30.1">0</text><text x="312" y="41">1</text></g>
</g>
<g id="panel-b" font-family='"Liberation Sans", "Noto Sans CJK SC", sans-serif' stroke="#000" stroke-width="0.18">
<clipPath id="clip-b"><rect x="368.8" y="16.6" width="299.2" height="222.1"/></clipPath>
<g clip-path="url(#clip-b)" fill="none" stroke-linecap="round" stroke-width="5.8">
<path stroke="#1f77b4" d="M453.9 49.9h0M453.6 50.9h0M451.6 50.9h0M455.7 52h0M454.9 52.9h0M452.7 53.3h0M456.2 54.2h0M455.1 55.2h0M457.5 55.2h0M456.3 56.8h0M459.8 56.7h0M458.5 55.9h0M457 57.7h0M459.3 56.5h0M458.8 57.1h0M459.1 58.4h0M460.3 56.5h0M459.4 57.1h0M461.2 58.8h0M459.3 59.2h0M462.2 60.9h0M460.2 61.4h0M463.1 62h0M461.5 62.2h0M449.9 70.9h0M450.5 73.3h0M450.2 74.7h0M452.4 64.6h0M452.3 66.8h0M452.2 68.5h0M452.9 70.6h0M452.4 73.6h0M451.8 74.4h0M451.4 76.4h0M454.1 65.2h0M454.9 67h0M453.9 69.3h0M453.5 70.1h0M454.3 72.1h0M453.7 75.7h0M454 76.5h0M454.8 78.6h0M455.9 63.1h0M455.7 63.7h0M455.8 67.3h0M456 68.2h0M456.2 70h0M456.5 72.7h0M456.9 75.5h0M456.4 77.2h0M457.7 63.9h0M458.9 67.1h0M457.9 68.5h0M458.6 70.9h0M458.3 73h0M459.2 75.6h0M460.5 64.9h0M461 66.7h0M459.8 68.6h0M460.3 70.7h0M461.2 72.3h0M461.3 74.8h0M462 66.4h0M462 70.2h0M461.9 73h0M462.3 75h0M464.3 72.1h0M464.7 72.7h0M462.8 74.7h0M460.8 76.4h0M458 77.2h0M456.3 79.1h0M453.6 77.9h0M450.8 76h0M448.9 72.2h0M449 69.9h0M451.8 67.2h0M452 64.2h0M454.5 63.1h0M457.7 62.6h0M460.1 64.1h0M461.8 66h0M461.6 68.5h0M455.5 81.6h0M454.4 81.1h0M456 83.2h0M453.9 84h0M455.6 85h0M455.2 85.4h0M454.6 88.1h0M456.7 89.6h0M455.4 89.1h0M453.7 90.3h0M453.4 90.3h0M457.4 91h0M456.3 90.4h0M454.4 91.3h0M461.8 80.6h0M461.7 80.2h0M460.9 81.5h0M462.5 82h0M462.4 82.6h0M461.6 82.8h0M462.3 84.4h0M463.4 86.9h0M463 87.2h0M463.6 87.3h0M463.1 88h0M487.8 35h0M487.3 36h0M485.8 36.1h0M488.3 36.5h0M489.8 37.8h0M492.7 38.7h0M492 39.2h0M494.1 38.9h0M494.2 38.8h0M492.5 40h0M492.4 38.7h0M493.7 39.8h0M493.2 40.3h0M495.2 37.5h0M495.1 38.3h0M496.8 38.2h0M497.2 39.3h0M500.2 37.8h0M501.5 37.4h0M500.7 38.4h0M499.5 37.3h0M500.5 37.1h0M500.6 38.1h0M501.4 36.3h0M503 36.8h0M503.1 34h0M504.6 34.6h0M504.6 32.7h0M505.2 33.9h0M506.5 31.2h0M505.9 31.7h0M506.6 32.8h0M498.5 39.5h0M498.2 40h0M498.8 41.2h0M498.9 41.5h0M500 43.4h0M499.8 44.3h0M500.6 46h0M500.9 48.1h0M501.4 47.6h0M501 48h0M475.9 53.5h0M475.4 57.6h0M474.9 60.2h0M474.6 61.5h0M477.9 46.7h0M477 49.7h0M476.9 51.5h0M477.5 52.8h0M477 54.8h0M477.6 57.5h0M476.8 59.6h0M476.8 62.4h0M478 63.3h0M477.7 65.7h0M480 47.6h0M479 49h0M480.1 51.4h0M479.4 53.9h0M480 54.6h0M479.7 57.5h0M479.7 59.6h0M480 62.1h0M478.9 64.4h0M479.5 66.3h0M479.1 67.7h0M481.5 48.3h0M481.4 50.8h0M481.5 52.9h0M481.4 55.9h0M480.9 57.2h0M481.7 59.2h0M481.9 62h0M481.4 64.1h0M481.3 65.7h0M482.1 67.3h0M483.4 49.6h0M483.6 50.8h0M483.5 53.9h0M483.2 55.9h0M484 57.9h0M484 60.1h0M483 61.7h0M484.1 63.4h0M484.4 65.2h0M485.7 49.7h0M485.4 51.5h0M486.1 53.9h0M486.4 55.5h0M485.1 58.2h0M486.4 59.8h0M485.6 60.9h0M487.2 53.8h0M487.2 55.5h0M487.4 57.3h0M488.2 60.1h0M488 61.3h0M488.9 57.5h0M487.7 61.8h0M487.1 64h0M484.8 64.2h0M483.9 66.1h0M482.1 67.8h0M478.8 67.8h0M477.4 64.8h0M475.6 63.2h0M474 61.8h0M475.4 57.4h0M476.4 55.9h0M476.1 51.9h0M477 49.6h0M478.5 46.6h0M481.1 47.4h0M483 48.7h0M484.8 48.7h0M485.7 50.1h0M487 52.9h0M488.3 55.3h0M472.5 63.3h0M489.5 50.3h0M490 51.3h0M492.7 51.4h0M491.8 51.9h0M491.8 52.7h0M493.8 52.9h0M495.4 54.5h0M495.4 55h0M496.4 54.4h0M496.7 55.2h0M507.4 46.6h0M528.4 28.6h0M527.4 27.3h0M526.4 26.8h0M523.1 26.3h0M526.9 30.4h0M527.1 29.7h0M524.8 28.5h0M522.6 28.2h0M525.8 31.8h0M524.2 30.2h0M521.7 30.7h0M526.5 33.2h0M524.9 33.5h0M523.1 32.7h0M520.7 32.6h0M525.2 33.7h0M525.4 34h0M523 33.3h0M521.1 33.3h0M521.3 32.7h0M525.9 34.3h0M524.8 33.4h0M523.7 33.9h0M521.1 32.3h0M521.1 33.4h0M525.4 35.7h0M524.3 35.2h0M522.8 35.8h0M520.6 34.3h0M525.5 37.7h0M523.9 37.6h0M521.9 37.3h0M520.1 36.5h0M519.7 36.3h0M524.8 39.6h0M523.7 40.5h0M521.8 38.7h0M519.6 39.2h0M524.2 41h0M521.7 40.7h0M520.1 39.6h0M518.6 38.7h0M524 38.5h0M523 38.2h0M522.3 40h0M520 42h0M520 42.1h0M525.1 39.9h0M523.1 40.6h0M521.9 42.9h0M525.9 40.7h0M525.4 41.8h0M525.1 43h0M522.7 43.9h0M522.2 45h0M527.8 42.2h0M527.8 42.4h0M526.2 45.2h0M524.8 45.6h0M524.1 46.2h0M528.5 44.3h0M527.2 46.5h0M525.6 47.2h0M525.3 49h0M530.4 45.2h0M529 46.9h0M526.7 48.7h0M526.2 49.5h0M530.3 45.5h0M527.6 46.5h0M527.4 48.1h0M525.5 48.8h0M530.7 46.4h0M530.1 48.5h0M527.6 49.1h0M527.5 49.4h0M531.8 48.8h0M530.9 50.2h0M530.2 50.6h0M530.5 50.9h0M532.6 49.9h0M531.1 51.2h0M530.9 51.3h0M530.5 50.8h0M542.8 32.8h0M545.4 34.8h0M543.8 33.7h0M542.4 35.2h0M544.3 36.5h0M542.3 36.4h0M542.4 36.5h0M546.1 37.7h0M544.8 38.4h0M543.2 39.3h0M546.7 39.6h0M546.8 39.5h0M544.6 40.5h0M543 40.5h0M542.3 41.1h0M546.6 40.6h0M544.9 40.4h0M546.6 42.7h0M546.5 41.9h0M544.1 41.8h0M542 41.7h0M545.6 45.3h0M545 45.1h0M543.5 43.9h0M541.3 44h0M540.9 42.4h0M545.8 46.1h0M544.6 46.4h0M543.3 45.9h0M541.3 46.1h0M544.1 49.2h0M542.5 47.7h0M540.7 47.8h0M540.7 47.5h0M544 49.6h0M542.9 48.3h0M540.9 47h0M543.9 49.6h0M542.4 49h0M540.9 47.3h0M541.4 51.1h0M540.3 49.2h0M541.6 53h0M539.6 51.9h0M538.8 50.8h0M538.8 50.5h0M540.6 53.9h0M539 53.3h0M540.1 56.5h0M539.5 56.5h0M538 54.8h0M537.1 53.9h0M563.5 49.6h0M562.5 49.7h0M564.2 52h0M563 52.6h0M562.6 52.5h0M565.9 54.4h0M564.6 54.9h0M566.4 56.2h0M564.8 56.2h0M566.8 57.5h0M564.9 57.1h0M564.6 57.2h0M563.5 56.1h0M563.3 58h0M563 60.9h0M561.1 60.2h0M560.6 61.9h0M560 60.3h0M558.6 63.1h0M557.4 61.5h0M558.4 64.3h0M558.6 63h0M557.6 62.4h0M557.8 62.7h0M558.5 62.3h0M556.5 63.9h0M553.6 62.6h0M554.8 62.4h0M551.1 63.1h0M552.7 61.6h0M550 64.3h0M549.5 63.8h0M547.8 65.2h0M548.4 65.3h0M548.9 62.6h0M547.5 62.1h0M548.2 62.3h0M547.2 64.6h0M548 63.2h0M545.9 63.4h0M546.5 62.2h0M547.8 61.1h0M545.4 60.7h0M545.3 59.1h0M542.8 60.9h0M543.8 59.7h0M543.7 57.6h0M540.9 58.9h0M541.9 58h0M542.7 57.6h0M540.2 57.4h0M540.5 55.6h0M539.6 58.1h0M539.9 56.5h0M508.3 58.5h0M508.2 58.8h0M509.1 60h0M508.5 62.5h0M509.4 62.4h0M509.9 57.7h0M510.5 59.4h0M510.5 60.9h0M510.7 61.3h0M512 56.7h0M511.7 59h0M512.6 60h0M514.4 56.3h0M514.1 58.4h0M514 59.1h0M516 55.8h0M515.7 57h0M517.1 58.3h0M517.7 54.5h0M518 56.9h0M518.9 57.7h0M519 57.7h0M517.7 54.9h0M517.6 56.5h0M519.3 57.7h0M516.8 55.3h0M517.9 55.2h0M518.5 56.1h0M519.3 57.5h0M519.5 56.2h0M520.8 56.8h0M521.2 56.4h0M521.1 53.3h0M521.5 55.1h0M522.7 56h0M522.7 52.9h0M524 52.3h0M524.2 54.2h0M524.8 55.8h0M524 52.2h0M523.8 52.2h0M524.2 52.8h0M524.6 55.4h0M525.3 60.9h0M525.1 61.5h0M523.8 61.9h0M526.7 62.8h0M524.7 64.1h0M525.1 65.9h0M525 65h0M527.8 63.3h0M525.6 65.2h0M529.2 65.8h0M528.5 65.3h0M528.5 66.7h0M525.9 68.2h0M526.3 68.2h0M531.2 66.9h0M529.6 68.4h0M527.8 69.1h0M532.2 67.1h0M533 68.3h0M530.7 69.8h0M529.3 71.6h0M529.1 71.9h0M533.6 68.6h0M533.1 69h0M530.8 69.7h0M530.8 71.3h0M531.6 67.9h0M531.4 70.1h0M531.9 71.5h0M532.1 72.8h0M533 67.7h0M533.2 68h0M533.4 70h0M533.4 71.9h0M532.9 72.6h0M535.8 66.8h0M535.9 67.6h0M536.3 70.6h0M536.3 71.9h0M536.4 72.2h0M537.8 67.8h0M537.2 68h0M537.4 70h0M538.6 71.6h0M539.3 67.9h0M540.3 67.7h0M539.5 70.3h0M539.2 71.5h0M540.4 72.3h0M541.8 68.1h0M541.9 69.3h0M540.8 71.3h0M541.9 71.7h0M539.8 68.6h0M539.6 69h0M541.9 70.1h0M542.6 71.7h0M543.1 71.8h0M541 67.5h0M541.4 66.9h0M542.9 68.2h0M544.9 69.4h0M544.4 69.7h0M543 66.2h0M544.5 66.4h0M546 67.9h0M544.3 62.7h0M544 64.2h0M545.6 65.7h0M547.6 66.7h0M547.9 66.9h0M545 63.2h0M546.5 64.3h0M548.3 66.7h0M547.8 66.8h0M566.6 72h0M567.6 72.3h0M565.3 73.1h0M564.5 71.8h0M566.4 70.9h0M503.2 63.9h0M503.2 63.9h0M501.2 65.6h0M498.7 65h0M503.4 66h0M501.4 67.4h0M499.6 67.1h0M499.1 67.4h0M504.4 67.7h0M502 68.6h0M500.9 69.6h0M499.3 69.7h0M506.5 70.2h0M504.7 69.4h0M503.3 70.4h0M500.9 71.4h0M500.6 71.6h0M506.2 71h0M503.6 72.3h0M502.7 73.8h0M506.5 74.6h0M505.3 75.2h0M502.7 75.2h0M502.5 75.9h0M507.5 74.3h0M504.3 74.4h0M503.7 76.1h0M508.3 73.5h0M505.9 73.6h0M505.1 75.7h0M503.1 75.1h0M507.7 76.8h0M506.5 77.1h0M504.4 77.7h0M503.2 77.3h0M509.7 77.4h0M508.7 77.3h0M506.9 79.3h0M505.4 80.2h0M504.4 80.2h0M509.1 79.3h0M508.4 80.3h0M506.3 81.6h0M510.7 81.6h0M508.7 83.2h0M506.8 83.8h0M506.8 83.8h0M511.2 83.6h0M509.6 83.4h0M508 85.6h0M506.9 84.9h0M511.6 84.2h0M509.5 85h0M508.1 85.5h0M506.8 85.7h0M512.1 83.4h0M511.3 83.2h0M509.3 85.1h0M508.6 85.3h0M507.8 85.7h0M512.1 85.1h0M510.7 84.9h0M510 84.9h0M509.4 85h0M514.7 86.4h0M515 86.7h0M514 85.9h0M515 86.7h0M515.6 87.1h0M516.7 88.2h0M515.9 87.1h0M516.1 88h0M516.6 88.6h0M516.8 88.8h0M516.6 88.5h0M516.8 88.8h0M516.8 88.9h0M516.7 88.7h0M517.1 89.2h0M515.4 87.2h0M516.2 88.1h0M517.6 89.8h0M517.5 87.6h0M517.6 89.9h0M518 90.3h0M518.8 91.3h0M519.1 87.6h0M518.6 89h0M519.7 92h0M520.4 86.7h0M521 88.9h0M521.9 91.3h0M520.9 86.4h0M522.2 87.2h0M522.1 88.7h0M522.6 90.5h0M521.9 91.7h0M479.9 70.5h0M479.9 70.5h0M478.2 70.7h0M476.7 69.6h0M479.6 72.1h0M478.1 71.9h0M476.1 71.4h0M475.4 71.9h0M481.1 74.2h0M480.1 73.6h0M477.6 73.8h0M476.3 74.2h0M475.6 73.5h0M479.7 76h0M477.9 76.3h0M476 75.3h0M481.2 78.3h0M480 77.8h0M478.1 77.8h0M474.9 78.2h0M480 79.1h0M478.3 80h0M477.4 79.6h0M475.2 80h0M477.1 81.4h0M476.5 82.7h0M474.9 82.7h0M473.8 82.5h0M475.9 84.8h0M475.9 85.1h0M474.2 84h0M476.8 87.5h0M476.1 86.2h0M475.9 84.3h0M473.9 84.9h0M476.1 83.5h0M475.9 85.4h0M474.7 85.1h0M478.3 88.8h0M476.5 87.2h0M476.9 87.6h0M474.3 86.9h0M479.2 89.5h0M479.5 89.7h0M477.9 89.4h0M475 88.9h0M474.9 89.7h0M480 90.5h0M477.9 91h0M476 91.5h0M475.3 90.9h0M481.1 91.8h0M481 92.7h0M478.5 92.3h0M476.6 94.2h0M476.1 93.7h0M481.7 95.1h0M479 94.8h0M476.4 95h0M476.2 95.2h0M482 96.2h0M482.2 97.2h0M479.8 96.7h0M477.8 98h0M477.3 97.2h0M482.4 97.4h0M481.4 97.1h0M480.6 98h0M477.5 99.3h0M477.1 98.2h0M481.4 99.7h0M480.6 97.8h0M477.8 96.6h0M481.7 100.7h0M479.1 99.3h0M477.4 98.8h0M477.2 99.4h0M480.5 103.2h0M478.7 101.9h0M477.7 100.9h0M478.9 105.3h0M478.4 102.7h0M478.1 101.9h0M478.5 106.2h0M478.4 106.6h0M478.5 106.1h0M468.8 106.2h0M478 109.6h0M477.1 109.2h0M476.1 109.1h0M474.3 109.7h0M471.9 109.4h0M477.8 109.3h0M476.9 108.7h0M475.6 109.3h0M471.8 109.4h0M470.9 108.9h0M478.1 107.1h0M477.3 108.1h0M475.4 109.4h0M472.8 109.6h0M472.5 109.8h0M477.1 108.6h0M475.7 110.4h0M474.7 111.4h0M473.8 112h0M479.2 111h0M478.6 111h0M477.1 112.6h0M475.5 113h0M474.8 113.1h0M480.8 112.5h0M480.2 112.7h0M478.2 114.1h0M475.8 114.5h0M476 114.2h0M480.7 113.7h0M480.4 113h0M477.7 114.9h0M476.3 116.2h0M476.1 115.5h0M498.1 68.3h0M498.1 67.8h0M498.1 68.4h0M488 71.8h0M487.8 71.2h0M497.4 72.7h0M493.4 75.2h0M489.6 74.1h0M495.4 74.6h0M495.1 74.8h0M492.5 75.2h0M490.5 74.6h0M491.1 75.1h0M495.2 74.7h0M494.4 75.7h0M491.3 75.9h0M495.8 77.4h0M494.9 78.3h0M493 78.8h0M492.8 78.4h0M496.3 79.8h0M496 78.5h0M494.9 79.6h0M493.1 79.8h0M493.2 79.7h0M496.5 80.4h0M496.1 81.3h0M494.4 82.9h0M493.9 82h0M496.6 81h0M496.3 81.2h0M494.2 82.8h0M494.1 83.5h0M498 84.1h0M497.6 83.7h0M496.4 83.2h0M495.7 85.1h0M495.3 84.6h0M499.3 84.9h0M499.7 85h0M498 85.8h0M495.9 85.6h0M495.5 86h0M500.5 85.2h0M500.9 86.2h0M498.5 86.6h0M496.6 87.8h0M496.8 88.3h0M502.1 88h0M500.5 87.7h0M499.4 90h0M498.6 90.3h0M503 90h0M501.9 91h0M500.1 92.2h0M500 92.1h0M503.1 92.2h0M500.8 93.2h0M504.9 91.4h0M505.2 92.6h0M503.1 92.6h0M501.8 94.2h0M501.8 94.6h0M505.1 92.4h0M503.6 93.3h0M501.3 93.4h0M505.5 94.5h0M505.5 94.2h0M504.5 95.5h0M501.6 96.7h0M505.7 96.2h0M504.9 97.1h0M503.2 98.1h0M502.4 97.5h0M506.2 99.2h0M505.6 99.4h0M503 99.3h0M503.2 99.8h0M506.7 101.4h0M506.4 100.7h0M505.5 100.7h0M503.4 102.3h0M509 103.4h0M508.1 103h0M506.1 104h0M503.8 104.1h0M509.2 104.6h0M508.7 104.8h0M506 104.3h0M504.1 104.9h0M504.7 106.1h0M506.9 105h0M504.6 105.3h0M504.3 103.7h0M507.7 107.6h0M505.7 106.4h0M504.7 107.1h0M508.4 109.3h0M505.9 108.7h0M503.9 109.3h0M508.1 112.3h0M507.9 111.3h0M505.1 111.7h0M503.9 110.6h0M506.9 113.3h0M505.9 112.7h0M506.8 115.9h0M505 114.9h0M503.2 114.6h0M523.5 87.9h0M520.1 85.9h0M518.8 85.2h0M523.4 87.9h0M521.8 87h0M523 87.6h0M521.8 86.9h0M520.7 86.6h0M524.2 88.3h0M522.9 87.6h0M521 87.2h0M521.9 89.7h0M520.7 89h0M524 90.3h0M522.8 88.4h0M521 88.5h0M521.5 91.2h0M519.9 89.9h0M520.9 92.1h0M520.1 92.4h0M518.8 91.3h0M519.9 92.6h0M520 92.8h0M518.6 100.3h0M516.3 101.4h0M517.4 101h0M514.4 101.6h0M513.2 101.3h0M517.5 101h0M516.3 101.4h0M513.2 101.4h0M517.1 101.2h0M513.6 101.4h0M513.3 101.4h0M515.6 103.4h0M513.8 102.7h0M515.4 104.5h0M513.3 105.1h0M512.2 104.6h0M514.2 107.3h0M513.8 106.7h0M512.2 106.6h0M514.8 108.4h0M513.8 107.7h0M512 107.5h0M514.8 107.4h0M513.7 106.7h0M513.9 108.5h0M512.4 110h0M512.3 109.9h0M515.4 108.4h0M514.4 109.3h0M516.7 111.5h0M519.4 111.6h0M518.1 113.3h0M516.5 113.4h0M520.6 112.8h0M519.6 113.9h0M517.7 114.9h0M519.4 114.3h0M519.4 116h0M532.9 93.7h0M531.9 95.5h0M531.5 95.9h0M534.4 95.9h0M532.5 97.1h0M531.8 97.5h0M531.7 97h0M534.9 97.9h0M533.6 97.8h0M532.1 99.1h0M535.3 100.7h0M533.9 100.3h0M532.5 100.9h0M536.2 101.5h0M534.8 101.8h0M534.1 103h0M538 103.5h0M538.4 103.8h0M536.7 104h0M535.6 104.8h0M535.6 105.1h0M536.8 105.5h0M535.3 105.8h0M538.2 105.5h0M536.4 105.6h0M535.3 104.5h0M537.9 107.6h0M537.4 106.9h0M536.1 106.4h0M534.3 105.5h0M535.6 109.9h0M535.1 109.1h0M535.1 111.1h0M533.9 111.3h0M532.9 109.8h0M533.4 112.2h0M531.5 111.5h0M533.3 114.3h0M533.2 114.3h0M532.3 114.8h0M530.7 113.3h0M532.3 114.8h0M549.9 89.8h0M548.1 89.2h0M550.3 92h0M549.8 91.5h0M550.3 94h0M548.7 93.8h0M548.2 93.6h0M549.8 97h0M548.2 95.3h0M547.8 97.6h0M546.9 97.6h0M548 97.6h0M547.5 98.2h0M548.9 99.2h0M548 99h0M546.7 98h0M548.6 100.2h0M547.8 99.7h0M546.6 99.2h0M546.6 101.6h0M546 101.2h0M544.7 100.2h0M544.1 103.1h0M543.8 102.2h0M543.6 104.6h0M542.4 104.3h0M544.2 105.2h0M542.6 105h0M542.7 103.4h0M542.1 107.4h0M541.9 106.5h0M540.2 105.8h0M541 107.9h0M539.7 109.8h0M538.4 109.8h0M539.1 110.3h0M538.6 110.2h0M559.6 79.9h0M558.4 81.6h0M557.7 81.8h0M559.4 81.9h0M559.5 83.4h0M562.1 83.5h0M561.2 84.8h0M564.6 82.8h0M564.8 82.8h0M562.9 83.8h0M562.7 86h0M566.1 84.3h0M564.8 85.9h0M563.9 87.9h0M567.8 85.9h0M567 85.4h0M566.6 87.2h0M565.2 87.4h0M565.4 88.2h0M566.1 86.5h0M564.4 87.6h0M568.9 86.4h0M568.4 87.7h0M570.2 88.6h0M569.8 89.5h0M568.5 90.6h0M572.8 89.8h0M571.2 91.2h0M572.7 90.4h0M572.5 90.8h0M572.2 92.1h0M571.2 93.5h0M572.9 90.2h0M572.1 93.1h0M571.8 94.1h0M572 94.2h0M572.1 92.4h0M572.4 94.3h0M572.2 93.4h0M571.5 93.8h0M572.9 96.3h0M572.6 95.9h0M571.6 94.6h0M571.3 95.4h0M573.4 98h0M572.9 98.1h0M571.5 97.6h0M573.8 99.7h0M572.6 99.2h0M571.4 99.8h0M574.2 101.2h0M574.2 101.2h0M573.7 101.2h0M573.5 101.2h0M574.2 101.2h0M574.2 101.2h0M572.4 101.3h0M571.3 101.6h0M574.2 101.2h0M569 103.3h0M568.6 103.9h0M569.7 102.6h0M567.5 107.7h0M567.5 109.4h0M567.5 109.9h0M567.5 109.6h0M567.5 108.8h0M567.5 109.7h0M567.6 111.6h0M567.6 111.2h0M567.6 111.6h0M567.6 114h0M567.6 112.1h0M567.6 116h0M567.6 115.4h0M567.6 113.7h0M567.6 113.7h0M465.1 106.9h0M465.4 107.8h0M464.8 109.8h0M466.5 108.7h0M467 109.4h0M468.8 106.2h0M469.1 107h0M469 108.3h0M469.9 109.4h0M470.1 108.3h0M471.7 109.3h0M470.8 109.5h0M475.1 109.5h0M473.4 109.7h0M474.6 109.6h0M475.6 109.3h0M475.4 109.4h0M475.8 109.5h0M478.1 107.1h0M477.5 107.9h0M477.8 108.9h0M478.9 105.2h0M478.3 106.8h0M478.6 108.7h0M480.3 103.7h0M480.3 103.7h0M478.7 105.7h0M481.1 111.3h0M481.6 111.4h0M482.1 102.6h0M484.7 102.7h0M484.2 102.5h0M484 102.5h0M483.6 102.5h0M484.1 102.5h0M486 103.4h0M484.6 102.6h0M484.8 102.7h0M486.1 103.5h0M486.5 103.9h0M486.2 103.6h0M485.2 102.9h0M485.7 103.2h0M487 103.9h0M486.9 104.2h0M489.2 104.8h0M489.1 104.8h0M491.8 105.9h0M493.2 109.2h0M493.1 107h0M492.8 107.2h0M493.2 109.7h0M595.2 62.1h0M596.8 63h0M596.4 64.4h0M595.4 65h0M598.8 64.7h0M597.8 64.5h0M600.3 65.6h0M599.6 66.8h0M598.2 67.2h0M600.5 68.6h0M599.9 69.3h0M602.1 68h0M600.3 68.9h0M599.9 67.8h0M602.2 70h0M601.6 70.2h0M599.5 69.9h0M601.6 73h0M599.8 72h0M603 74.8h0M602.2 74.3h0M599.9 75.2h0M602.8 75.7h0M602 75.8h0M600.7 76.5h0M601.9 78.9h0M601.1 78.3h0M603.8 80h0M602 80.9h0M603.2 81.1h0M602.9 81.2h0M603.8 81.8h0M602.8 81.4h0M600.7 81.4h0M602.6 83.3h0M601.3 84.3h0M602.4 86.5h0M603.9 87.6h0M603.1 87.4h0M603.9 89.8h0M601.8 89.8h0M601 89.9h0M603.4 91.6h0M601.9 92h0M600.6 92.8h0M603 93.5h0M601.3 93.6h0M603.7 95h0M602.3 95.5h0M601.4 94.2h0M602.3 95.6h0M603.6 96.5h0M601.8 96.3h0M601 96.6h0M602.7 98.5h0M601.9 98.4h0M601.4 101h0M600.1 101.1h0M601.3 103h0M600.9 102.4h0M601.6 105.2h0M600.6 104.9h0M602.3 107.6h0M601.4 107.8h0M599.9 106.9h0M602 107.8h0M600.2 108.8h0M599.7 107.6h0M601.5 109.3h0M599.9 108.7h0M600.2 107.6h0M601.1 110.6h0M600.1 109.8h0M600.2 112h0M599.8 112.5h0M598.9 114.5h0M597.1 113.4h0M599.4 114.7h0M597.5 115.3h0M594.9 73.1h0M594.4 72.8h0M594.4 71.8h0M593.1 74.1h0M593 72.7h0M592.3 71.3h0M590.6 73.6h0M591.5 73.5h0M588.7 72.6h0M589 74.2h0M588.8 72.7h0M589.3 72.7h0M588.6 74h0M587.1 73.5h0M589.2 75.3h0M587.9 76h0M589.3 77.3h0M588 77h0M586.6 77.6h0M587.1 79.2h0M587.8 81.1h0M587.2 81.5h0M588.1 82.3h0M586.7 81.4h0M586.9 82.1h0M586.3 80.8h0M585 83.6h0M584.5 82.5h0M585.8 85.6h0M585.2 85.7h0M584.2 87.9h0M583.6 86.5h0M582.5 87.2h0M583.7 88.6h0M583.9 88.4h0M582.6 87.8h0M583.5 91h0M582.4 90.9h0M581.4 88.9h0M581.4 92.1h0M581.2 94.1h0M581.1 94h0M595.7 89.1h0M596.2 91.5h0M596 92.4h0M596.3 95.5h0M597.7 94.3h0M597 96.1h0M596 96.7h0M594.7 94.6h0M594.6 92.5h0M595.4 89.5h0M596.7 88.9h0M597.4 90h0M565.5 50.9h0M564.9 50.2h0M565.1 51.2h0M565.1 52.6h0M564.6 52.9h0M566.6 54.8h0M566.1 54.2h0M566.4 56.2h0M566.5 57.5h0M567.1 59h0M566.9 58.9h0M565.9 59.7h0M567 60.7h0M566.7 72.4h0M569.7 84.5h0M568.5 86.6h0M566.9 88.5h0M566 88.8h0M572.6 86.3h0M571 87h0M569 87.9h0M568 89.6h0M568.1 90.4h0M573.3 88h0M571.3 88.7h0M570.1 91.1h0M574.3 88.9h0M573.9 89.2h0M572.5 90.9h0M571.1 91.8h0M570.5 93.2h0M573.5 89.5h0M572.2 91.5h0M572.3 94h0M578.7 89.1h0M578.4 88.9h0M572.3 94h0M572.7 95.5h0M577.2 88.5h0M572.4 94.3h0M572.5 94.7h0M572.6 95h0M580.5 91.6h0M580.9 93.1h0M572.8 95.9h0M572.9 96.3h0M581.1 94h0M581.2 94.4h0M573.2 97.2h0M573.6 98.9h0M573.5 98.4h0M581.8 95.6h0M581.6 95.9h0M581.9 97h0M582.2 98.2h0M574.1 100.9h0M581.6 95.9h0M581.8 96.5h0M582.1 97.7h0M582.4 98.6h0M583.2 99h0M582.5 99.1h0M582.1 97.8h0M573.5 98.4h0M583.1 101.4h0M582.7 99.8h0M582.5 99.1h0M574.1 100.7h0M573.9 100.1h0M583.4 102.5h0M574.2 101.2h0M574.2 101.2h0M574.2 101.2h0M583.8 104.2h0M583.6 103.2h0M574.2 101.2h0M574.2 101.2h0M580.1 110.1h0M580.1 110.1h0M578.2 103h0M574.3 101.2h0M574.3 101.2h0M580.1 110h0M580.1 110.1h0M580.2 110h0M580.4 110h0M574.4 101.2h0M580.1 110.1h0M580.1 110.1h0M580.2 110h0M580.3 110h0M580.3 110h0M580.1 110.1h0M580.1 110.1h0M580.3 110h0M580.7 110h0M574.3 101.2h0M580.1 110.1h0M580.2 110h0M567.5 109h0M567.5 107.9h0M580.1 112.7h0M580.1 112.4h0M567.6 111.8h0M567.5 110.3h0M567.5 110.2h0M567.6 114.6h0M567.6 114.7h0M567.6 112.9h0M567.6 111.8h0M567.6 116.6h0M567.6 116.7h0M567.6 115.1h0M567.6 114h0M567.6 113.4h0M584.9 105.6h0M584.4 106.9h0M584.2 107.2h0M587 107.3h0M587.3 108.1h0M589 106.9h0M588.6 108.1h0M588.6 108.6h0M591.9 107.7h0M591 108.8h0M591.5 107.7h0M591.7 107.8h0M592.7 107.7h0M590.9 107.7h0M593.7 110.3h0M591.7 109.8h0M594.7 111.2h0M593.3 111.2h0M592.8 112.2h0M595.4 114.2h0M593.9 113.6h0M593.9 113.6h0M595.7 115.1h0M595.3 114.7h0M594.6 115.9h0M625.4 110.5h0M624.6 110.5h0M624.5 109.3h0M623 111.7h0M623.4 110.6h0M622 110.4h0M621.4 111.5h0M621.3 110.7h0M619.7 112.7h0M619.6 112.1h0M618.7 113.3h0M618.4 113.4h0M387.4 125.9h0M386.8 127.1h0M385.9 127.3h0M388.8 128.5h0M386.4 129.2h0M388.5 130.8h0M387.7 130.4h0M386.2 131.2h0M388.3 133.3h0M387.5 133.6h0M386.6 133.5h0M387.2 135.1h0M386.6 135.3h0M389.1 137.2h0M388.6 136.6h0M386.7 137.9h0M389.8 138.5h0M388.7 138.3h0M386.9 139.6h0M389.7 140.7h0M389.1 141.5h0M390.5 143.2h0M389.5 143.5h0M388 143.6h0M390.6 145.3h0M389.7 144.9h0M388 145.3h0M391.3 148h0M390 147.1h0M389.8 149.8h0M390.9 150.2h0M389.6 149.3h0M431.3 113.3h0M433.1 113.2h0M432.8 116h0M433 117.4h0M435 112.3h0M435.1 114.1h0M434.3 116h0M435.6 118.3h0M434.3 120.1h0M436.9 112.1h0M437.5 113.3h0M437.4 116h0M436.2 117.8h0M439.1 113.8h0M438.9 116.6h0M437 119.7h0M434.4 120.2h0M431.6 119.5h0M431.1 116.8h0M430.3 113.6h0M434.3 111.6h0M437.2 112h0M438.8 113.6h0M436.1 123.6h0M435.9 125.9h0M435.5 125.3h0M434.1 124.6h0M434.8 127.8h0M434 127.2h0M433.3 127.7h0M434.4 129.4h0M434 128.9h0M432.5 131.3h0M431.8 131.6h0M432.7 133.9h0M432.8 133.8h0M432 132.6h0M433 132.7h0M432 132.7h0M431.8 133.5h0M431.8 136h0M430.7 135.6h0M431.3 136.8h0M429.7 137.4h0M431.4 138.8h0M430 138.7h0M429.8 138.3h0M429.8 141.2h0M428.5 140.3h0M430.6 141.5h0M429.1 141.5h0M428.3 141h0M450.1 114.1h0M447.7 114h0M446.3 113.7h0M449.7 117.2h0M447.5 116.2h0M446.7 116.6h0M448.3 118.5h0M445.7 118.6h0M445.7 117.9h0M449.1 121h0M447.5 120.6h0M446 120h0M445.8 120.4h0M448.6 123.4h0M447.1 123h0M445.3 123.1h0M447.5 124h0M446.1 124.6h0M448.2 124.7h0M448.1 124.2h0M445.5 124.6h0M448.6 124.8h0M446.8 125.7h0M445.6 124.2h0M448.8 126.9h0M446.9 126.8h0M446.2 127.2h0M449 128.4h0M447.1 129.6h0M445.9 128.8h0M449.3 131.9h0M449.3 131.4h0M447.1 132h0M446 131.4h0M447.7 134h0M446.2 132.8h0M446.4 132.7h0M448.5 135.9h0M447.5 136.2h0M446 135.2h0M448.3 137.4h0M447.9 138.1h0M447.3 138.1h0M448.9 138h0M448.9 138.4h0M446.9 137.8h0M445.3 138.9h0M445.6 139.2h0M449.1 139.3h0M447.2 140.7h0M445.7 140h0M446.1 141.4h0M448 142.4h0M447 143.4h0M450 143.7h0M448.5 145h0M451 145.6h0M449.8 146.9h0M448.1 146.6h0M448.1 147.2h0M449.7 147.8h0M451.5 150.4h0M449.5 150h0M448.9 150.5h0M454 119.1h0M428 146.4h0M427.7 148.3h0M427.4 150.2h0M429.4 145.3h0M430.3 147.2h0M430 150.7h0M431.1 144.3h0M431.3 145.8h0M432.1 148h0M432.7 148.2h0M431 151.4h0M429.3 151.5h0M426.7 150h0M426.4 147h0M427.7 145.1h0M430.5 144h0M432 145.6h0M443.4 147.3h0M445.2 145h0M444.5 146.3h0M444.6 149.4h0M446.8 143.1h0M446.2 144h0M446.4 146.8h0M446.3 148h0M449.6 142.8h0M448.7 144.2h0M448.4 146.7h0M449.5 148.4h0M448.7 150.5h0M450.5 142.4h0M450.8 143.9h0M450.7 146.4h0M451.4 148.8h0M451.3 150.8h0M452.9 145.3h0M453 147.1h0M452.9 148.1h0M456 148.2h0M455.3 147.5h0M456 149.5h0M452.4 150.7h0M448.8 150.4h0M446.3 150.8h0M444.3 149.6h0M441.6 147.5h0M442.1 146.5h0M444 144.2h0M445.8 142.9h0M449.2 141.7h0M451.1 142h0M453.5 143.2h0M455.7 145.8h0M431 152.7h0M429.1 152.5h0M426.8 154.1h0M427.3 155.4h0M433.1 152.3h0M431.9 154.7h0M430.3 154.4h0M427.8 156h0M428 156.4h0M434.7 155.1h0M433.4 155.5h0M431.4 156.7h0M429.3 157.8h0M429.2 157.5h0M434.6 156.5h0M435 157.2h0M433.1 158.3h0M431 159.1h0M430.2 160.5h0M435.8 158.2h0M435.5 158.6h0M433.7 160.4h0M432.3 160.5h0M430.8 161.9h0M436.9 159.4h0M436.3 159.7h0M435 160.7h0M433.2 163h0M432 164.5h0M436.3 159.5h0M435.9 160.3h0M434.4 162h0M433.8 162.9h0M432.4 164.6h0M438.4 159.7h0M438.6 159.7h0M438.3 161.7h0M437.1 162.8h0M435 164.3h0M434.7 166.4h0M434 165.8h0M439.1 162.7h0M438.4 165h0M436.8 164.8h0M436.6 167.3h0M442.4 162h0M441.8 163.8h0M439.8 164.5h0M439.3 166.9h0M438.3 167.5h0M438.9 167.9h0M443.7 165h0M441.8 167.4h0M440.6 168.1h0M445.5 166.4h0M443.7 167.2h0M440.8 166.7h0M439.9 167h0M443.7 169.5h0M443 168.2h0M441.3 167.9h0M439.6 168.5h0M438.7 168h0M443.9 171.7h0M442.4 171.6h0M441.5 170h0M438.5 169.7h0M438.1 170.3h0M444 173.2h0M442.6 172.8h0M441.2 173.5h0M438.7 172.9h0M438.3 172.2h0M443.7 173.9h0M443.1 173.6h0M441 173.7h0M439 172.7h0M437.7 165.4h0M439.4 160.5h0M439.1 162.5h0M439.6 165.1h0M439.8 167.4h0M439.3 169.8h0M439.6 171.8h0M439.7 174h0M441.1 159.4h0M440.4 160.2h0M440.4 163.2h0M441.2 165.6h0M441 167.2h0M441.3 168.6h0M440.4 171.9h0M441.1 173.1h0M441 174.8h0M443.3 162h0M443.2 165.6h0M443.6 167.1h0M442.8 169.8h0M443.6 171.1h0M443.4 173h0M444.9 166.3h0M445 169.1h0M445.4 168.5h0M444.7 171.4h0M444.1 172.5h0M442.5 173.7h0M440.9 176.5h0M439.5 174.3h0M438.6 172.9h0M437.8 170.5h0M437.4 167.8h0M437.6 164.9h0M437.9 163h0M438.9 159.7h0M440.5 158.7h0M441.9 159.6h0M443.4 160.6h0M444.7 161.7h0M445.1 164.8h0M428.9 166.4h0M428.2 168.6h0M427.4 168.4h0M427.6 167.5h0M426.9 170.4h0M426.5 170.8h0M426.7 169.9h0M426.5 170.8h0M470.7 108.8h0M471.5 110.3h0M470.8 110h0M469.2 110.1h0M469.8 111.8h0M467.8 113.6h0M467.1 116.4h0M467.3 115.9h0M467.2 117h0M466.6 116.5h0M465.8 116.5h0M467 117.3h0M466.6 116.5h0M465.7 117.1h0M466.4 118.9h0M465.2 119.1h0M467.1 121.1h0M466.5 121.2h0M466.1 121h0M466 123h0M467.2 124.7h0M466.8 124.4h0M466.8 126.9h0M465.7 127.2h0M467.8 129.1h0M467 128.5h0M465.4 129.8h0M467.6 129.5h0M467 130.2h0M465.9 129.6h0M467 129.2h0M465.8 129.4h0M467.6 131.7h0M465.8 131.7h0M467 134.1h0M465.9 133.8h0M465.5 134.7h0M466.1 136.3h0M465.9 138.5h0M466.9 140.2h0M465.7 140.4h0M465.5 140.7h0M466.9 142.3h0M465.1 142.2h0M478.3 127.1h0M477.5 126.7h0M479.1 127.9h0M478.4 128.7h0M480.4 130.8h0M481.6 132.2h0M480.2 132.5h0M482 132.3h0M481.8 133.4h0M481.3 133.9h0M482.4 133.4h0M481.4 133.9h0M481.8 134.2h0M484.6 133.8h0M483.5 134h0M482.7 134.8h0M484.9 135.5h0M485.7 136.3h0M486.9 135.6h0M487.2 136h0M487.7 136.6h0M488.3 136.1h0M488.3 136.1h0M488.9 137h0M486.2 116.6h0M488.1 119.2h0M486.5 119.3h0M486.2 119.4h0M488 121.2h0M486.8 120.5h0M486.3 120.3h0M488.3 122.7h0M488 122.7h0M488.8 125.4h0M488 124.8h0M488.9 125.4h0M488.4 124.6h0M488.3 125.2h0M506.6 121.7h0M507.5 123.5h0M506 123h0M508.2 126h0M506.5 125.8h0M507.7 127.8h0M506.9 128.1h0M507.7 130.5h0M505.5 130.7h0M506.1 132.5h0M507.5 133.8h0M506.4 133.6h0M504.3 134.1h0M505.5 136.3h0M504.6 136.2h0M506.7 139h0M505.3 137.7h0M504.1 137.9h0M503.7 138.8h0M515.1 123.9h0M515.5 124.9h0M516.1 126.8h0M516.7 127.9h0M516.7 128.7h0M471.2 109.1h0M470.9 109.9h0M471.8 112.2h0M471 111.8h0M473.5 109.7h0M473.3 110h0M473.4 112.6h0M473.5 112.6h0M477.3 108.2h0M476.9 108.8h0M475.2 109.9h0M475 112.5h0M478.3 109.7h0M477.5 111.5h0M476.8 113.6h0M477.6 113.6h0M478.9 109.4h0M479.4 110.1h0M479.1 111.6h0M479.9 113.2h0M479 114.8h0M480.3 110.9h0M481.8 111.4h0M481.1 111.3h0M480.6 114h0M481.9 114.3h0M479.2 109.9h0M479.5 110.2h0M481.8 112.2h0M481.4 113.3h0M482.5 113.8h0M482.9 111.7h0M483.6 111.9h0M484.1 112.8h0M484.8 114h0M484.6 112.1h0M484.6 112.1h0M486.1 112.5h0M486.3 113.5h0M486.6 113.3h0M486.1 112.5h0M486.5 112.6h0M486.8 112.7h0M487.8 112.9h0M488.3 113.1h0M492.6 106.8h0M489.6 113.1h0M491.2 112.6h0M492.3 106.4h0M493.1 110.1h0M491.5 112.4h0M492 112.1h0M492.7 107h0M493.1 108h0M493.2 109.9h0M491.4 112.5h0M494.8 108.6h0M493.9 108.4h0M493.6 110.5h0M492.8 112.1h0M496.9 109.8h0M496.1 110.1h0M496.2 111.9h0M494 113.3h0M497.9 110.7h0M497.6 111.3h0M497.5 112.2h0M496.1 115h0M496 115.3h0M500.3 112.3h0M499.2 114.1h0M498.1 115.6h0M498.1 116.1h0M501.5 112.8h0M501.5 112.5h0M501.6 114.7h0M500.3 116.2h0M502.6 112.4h0M502 112.9h0M500.8 115.3h0M499.9 116.9h0M500.2 117.4h0M501.2 112.6h0M501.5 113.5h0M501 115h0M501.7 117.4h0M502.6 112.3h0M503.9 112h0M503.5 114.8h0M503.5 116.1h0M503.5 116.8h0M505.7 111.9h0M506.4 114.7h0M506 116h0M505.7 116h0M507.1 111.3h0M507.7 112.1h0M507.6 114h0M508.6 115.8h0M507.9 116.3h0M509.5 111.8h0M509.6 114.2h0M509.7 115.8h0M510.7 116.3h0M511.6 111.5h0M511.6 113.7h0M511.3 115.5h0M511.2 115.4h0M511.9 110.7h0M512.5 111h0M511.2 113.2h0M510.8 115.7h0M514.3 112.2h0M514 112.1h0M514.2 113.6h0M512.2 115.7h0M516.3 111.7h0M516.7 112.4h0M515.2 114.6h0M515 117.4h0M518 112.1h0M518.8 113.4h0M517.7 114.9h0M516.8 116.6h0M516.3 117.4h0M520.8 113h0M521.1 113.7h0M519 115.4h0M518.4 117.8h0M518.2 118.9h0M522.9 113.5h0M522.6 114.4h0M521.1 115.8h0M520.3 118.2h0M520.2 119.3h0M522.2 113.6h0M522.7 114.5h0M521.9 117.2h0M520.8 119h0M519.2 115.1h0M521.6 117.2h0M522.8 118.9h0M523.4 118h0M521.3 112.8h0M521.4 113.5h0M524 115.1h0M525.1 116.1h0M523.2 112.4h0M522.8 112.7h0M524.5 113.2h0M526.6 114.8h0M526.4 115h0M523.9 111h0M524.5 111.4h0M525.8 112.2h0M527.1 114.3h0M525.6 110.5h0M526.4 110.2h0M528 110.7h0M528.8 112.3h0M528.2 108.6h0M527.9 109.6h0M530 110.9h0M549 113h0M548 113.7h0M546 114.1h0M544.1 113h0M541.7 112.7h0M539.3 112.2h0M539 112.9h0M548.9 115.6h0M548.3 116h0M545.5 115.7h0M544 115.9h0M541.3 115.6h0M539.9 115.3h0M538.7 115.4h0M548.5 117.2h0M547.7 117.8h0M545.6 117.2h0M543.5 117.4h0M542.3 117.3h0M539.4 117.5h0M539.1 117.2h0M547.1 120.2h0M547.2 119.9h0M546.1 119.8h0M543.3 119.9h0M541.9 119.2h0M539.9 119.1h0M547 122.7h0M547.3 121.4h0M545 122.4h0M543.7 121.9h0M541.9 121.4h0M539.6 120.7h0M547.3 124.3h0M547.1 124.2h0M545.5 124h0M543.4 123.8h0M540.7 123h0M538.9 123.4h0M539.3 124.2h0M547.5 124.7h0M547.5 125h0M544.8 124.9h0M542.6 124.4h0M540.9 124.9h0M539.4 124.6h0M548.1 124.9h0M547 125.2h0M545.4 124.9h0M542.7 124.3h0M540.8 125.4h0M539.7 124.5h0M547.9 126.7h0M547.1 127.7h0M545.3 126.7h0M543.5 126.3h0M541.1 126.4h0M539.4 126.4h0M546.6 129h0M545.4 129.8h0M542.7 128.5h0M541.1 128.8h0M539.4 129.6h0M548.2 130.9h0M546.4 132h0M544.5 130.7h0M542.5 131.9h0M541.1 131.4h0M539.2 130.3h0M546.3 133.4h0M546.7 133.7h0M545.2 133.6h0M542.3 133.2h0M540 133.9h0M538.8 133.1h0M546.3 135h0M544.3 135h0M542.1 134.8h0M540.8 135.5h0M538.8 134.8h0M537.3 134.7h0M545.8 136.3h0M544.2 136h0M541.8 137.3h0M539.8 136.7h0M538.9 135.8h0M537.4 135.5h0M546.8 139.2h0M544.6 140.2h0M543.5 140.9h0M542.9 139.9h0M546.5 142.4h0M545.6 142.7h0M546.8 144.1h0M545.3 144.7h0M547.2 146.5h0M546.1 145.7h0M547.6 147.9h0M545.9 147.7h0M545.2 148.5h0M548.3 150.2h0M546.1 149.6h0M545.9 149.7h0M548.5 151.3h0M546.9 153.1h0M548.7 152.4h0M547.3 152.5h0M545.9 157.3h0M545.4 156.3h0M544 156.2h0M544.1 158.7h0M543.7 158.4h0M543.2 156.6h0M541.5 160.2h0M541.6 158.9h0M540 160.2h0M539.9 160h0M572.9 101.2h0M570.1 102.3h0M569.4 102.9h0M569 103.4h0M574.2 101.2h0M573.4 101.2h0M568.5 104.1h0M568.3 104.3h0M568.1 104.8h0M567.7 105.7h0M567.6 106.4h0M567.5 107.3h0M567.5 109.8h0M567.6 110.4h0M567.6 110.4h0M567.5 109.1h0M567.5 108.8h0M567.6 111.6h0M567.6 111.1h0M567.6 111.1h0M567.6 111.9h0M567.6 113h0M567.6 112.9h0M567.6 112.8h0M567.6 114.2h0M567.6 113h0M567.6 112.7h0M567.1 112.8h0M567.6 116.7h0M567.6 116.1h0M567.6 115.3h0M567.1 114.6h0M567.7 118.2h0M567.7 118.3h0M567.5 117.6h0M566.2 115.9h0M565.1 114.8h0M567.7 119.6h0M567.7 120.3h0M567.7 118.6h0M565.6 117.5h0M563.6 118h0M567.7 120.8h0M566.4 120.3h0M563.7 119.9h0M563 120h0M567.7 120.8h0M567.5 120.8h0M564 123h0M563.3 121.5h0M562.9 122.5h0M564.5 127.3h0M563.7 125.8h0M563.7 123.9h0M562.3 122.7h0M564.9 127.8h0M563.2 126.4h0M561.5 125.4h0M561.2 125.7h0M565.1 128h0M564.7 127.6h0M563.2 126.8h0M561.1 125.1h0M560.8 125.3h0M564.3 126.9h0M562.7 127.2h0M560.9 126.5h0M561.5 125.3h0M564.4 129.3h0M564.6 129.2h0M563 128.8h0M560.4 128.5h0M560.5 127.7h0M564.1 132.1h0M562.3 130.4h0M559.7 130.1h0M559.3 129.8h0M563.3 133.9h0M560.9 132.2h0M558.4 132.4h0M558.7 132h0M562.9 135.1h0M563 136h0M560.7 135.2h0M558.8 134.5h0M558.1 134.1h0M562.1 137.8h0M561.8 137.6h0M559.8 136.1h0M557.6 136.4h0M562 137.4h0M559.5 136.7h0M557.3 135.7h0M556.7 135.7h0M562.6 136h0M561.8 135.1h0M559.9 135.9h0M558.1 137.8h0M557 137.6h0M562.9 137.8h0M560.7 139.3h0M559.1 139.4h0M558.2 139.9h0M563.5 138.3h0M561.6 140.1h0M560.3 142h0M567.9 139.8h0M565.6 138.2h0M561.3 142h0M560.5 143.9h0M560.6 143.7h0M563.3 145.3h0M563.2 145.2h0M561.6 144.4h0M562 145h0M564.5 146.8h0M564.5 146.8h0M564.1 146.4h0M562.8 147.7h0M570.1 142.6h0M564.9 147.4h0M564.6 146.9h0M563.1 147.1h0M564.4 146.7h0M564.4 146.8h0M564.1 146.3h0M562.9 147.6h0M566.6 149.6h0M566.6 149.3h0M565.7 148.4h0M564.1 148.9h0M564.2 149.3h0M571.9 145.2h0M566.5 149.1h0M566.6 150.6h0M565 151.1h0M566 152h0M572.2 153h0M571.4 153.3h0M567.2 152h0M567.3 152.1h0M566.7 153.4h0M571.9 153.1h0M572.2 153h0M569.8 153.5h0M568.7 154.8h0M567.7 154.8h0M573.3 153.3h0M571 154.5h0M569.3 155.7h0M572.9 153.1h0M573.2 153.8h0M571.6 154.6h0M569.1 156.2h0M569.9 156.7h0M573.2 155.1h0M573.2 154.4h0M572.1 154.1h0M569.7 154.8h0M573.7 157.4h0M573.7 156.6h0M571.9 157.5h0M569.1 156.3h0M574.2 159.7h0M571.4 159.5h0M569.7 159.5h0M569.2 159.9h0M574 161.7h0M573.9 161.5h0M572.1 161.4h0M569.3 161.2h0M575.2 163.7h0M573.3 162.8h0M570.9 163.1h0M570.1 162.6h0M569.7 163h0M573.7 164.4h0M573.1 164.4h0M571.5 165h0M569 164.9h0M624.6 112.3h0M622.4 112h0M621.6 111h0M621.3 110.9h0M622.2 113h0M623.5 116.4h0M622.3 116.4h0M621.4 114.9h0M622 118.1h0M619.9 116.7h0M617.9 116.2h0M620.6 120.2h0M618.8 119.4h0M617.9 117.7h0M617.4 117.5h0M619 121.3h0M618.7 119.3h0M615.7 119.3h0M620 118.7h0M619.7 118.9h0M618.6 119.1h0M617 121.2h0M620.9 121h0M620.7 120.5h0M618.9 122.3h0M618.2 123h0M617.3 123.4h0M619.8 123.2h0M618.5 125h0M617.7 124.4h0M622.9 123.8h0M623.1 124.1h0M620.8 126.4h0M619.4 126.8h0M623.8 127.2h0M622.2 128.2h0M620.4 128.2h0M624.1 127.4h0M621.8 128.4h0M620.8 128.7h0M620.5 129.5h0M602 99.8h0M600.8 100.4h0M601.6 103h0M600.4 102.8h0M601.3 105.2h0M599.5 104h0M598.1 104.1h0M601.2 106.3h0M601.3 106.6h0M598.8 105.6h0M597 105.5h0M600.3 108.5h0M598.9 108.7h0M599.2 110.9h0M598.7 110.3h0M596.3 110.3h0M599.4 112.2h0M597.4 112.6h0M596.8 112.4h0M599 114h0M597.8 114h0M595.9 113.2h0M597.7 114h0M595.9 112.6h0M599 115.6h0M598.9 115.7h0M597.9 114.8h0M595.7 114.5h0M595.5 115.9h0M597.6 116.8h0M598.3 119.2h0M596.5 120h0M595.4 119.5h0M598.3 122.3h0M598.3 122.7h0M595.8 121.4h0M594.7 121.9h0M594.6 121.5h0M596.5 124h0M594.5 123.3h0M597.1 125.6h0M595.3 124.3h0M594.3 124.4h0M569.5 102.9h0M568.4 104h0M567 103.6h0M567.8 105.6h0M566.2 105.7h0M567.5 107.7h0M567.5 108.2h0M566.7 107.8h0M566.2 108.3h0M567.5 108.8h0M567.5 108.7h0M567.5 110.1h0M567.5 110.2h0M567.6 110.9h0M567.6 112h0M567.6 112.2h0M567.6 111.4h0M567.6 112.9h0M567.6 113.1h0M567.6 113.9h0M567.5 114.8h0M567.6 115.5h0M567.6 115.9h0M567.6 115.4h0M567.6 116h0M567.6 116.8h0M567.6 116.4h0M567.6 116.2h0M585.2 109.6h0M583.8 109.2h0M581.8 109.8h0M585.4 112.2h0M584.8 112.1h0M582.8 112.8h0M581.9 112h0M581.8 111.8h0M584.5 112.6h0M583.3 113.8h0M583.2 113.9h0M582.1 114.3h0M582.7 115.4h0M582.2 116.4h0M583.1 118.4h0M583.1 118.3h0M581.7 117.9h0M583.1 120.8h0M584.4 123.3h0M582.7 123.3h0M581.8 122.3h0M584.9 124.6h0M583 124.7h0M581.8 124.3h0M585.2 127.3h0M582.7 126.1h0M581.4 126.3h0M586.1 129.6h0M584 128.9h0M581.4 129.5h0M585.4 130.3h0M582.8 129.4h0M581.5 130.4h0M568.9 135.7h0M569.1 135.8h0M568.4 138.2h0M568.4 140.1h0M568.7 140.7h0M570.3 136.2h0M570.1 136.9h0M570 139.3h0M570.2 141.4h0M569.4 141.2h0M571.9 137h0M572.6 138.9h0M572.6 141.1h0M571.9 142.6h0M574.6 138.4h0M574.9 139.9h0M573.3 142.4h0M573.5 142.9h0M577.9 137h0M576.3 138.4h0M576.9 141.1h0M576 142.5h0M575.6 143.9h0M579.8 137.2h0M579 137.1h0M579 138.3h0M577.7 140.8h0M577.7 142.9h0M577 144.6h0M581 138.1h0M581.6 139.3h0M580.6 140.5h0M580.2 143.8h0M579.4 145.9h0M580.1 145.8h0M582.8 137.9h0M582 139.2h0M580.1 141.8h0M580.7 144.6h0M583.6 138.5h0M581.8 139.3h0M580.7 140.4h0M579.9 143.6h0M580 144.6h0M585.1 139.1h0M585.9 139.6h0M586.8 140.7h0M580.9 144.9h0M587.6 142.1h0M581.8 146.4h0M582 146.9h0M588.4 141.9h0M587.9 142.7h0M588.5 143.8h0M584.4 149.6h0M584.4 149.5h0M590.5 143.6h0M589.4 144.8h0M589.3 147.3h0M589.3 147.2h0M584.5 149.4h0M593 144.7h0M592.2 145.6h0M590.2 147.3h0M589.3 147.2h0M589.3 147.2h0M593.9 145h0M593.8 145.1h0M593 146.7h0M592.5 147.9h0M590.3 147.3h0M591.1 147.4h0M595.8 130.7h0M595.6 131.8h0M594.1 132.6h0M592.5 135.3h0M592.5 135.3h0M597.4 132.1h0M596 131.9h0M593.8 132.8h0M596.6 132h0M599.4 133.2h0M599.5 133.8h0M600.3 136.6h0M600.2 136h0M600.7 134.5h0M600.2 135.7h0M600.4 137.2h0M600.4 137.4h0M603.9 135.8h0M602.5 135.2h0M602.2 136.6h0M600.9 138.3h0M602.3 139h0M605 136.4h0M604.9 138.3h0M603.1 138.8h0M605.9 137.1h0M605.1 138.4h0M604.4 139.6h0M617.6 136.3h0M616.5 137.7h0M614.2 138.1h0M612.9 138.4h0M611.8 139.3h0M619.2 138.2h0M618.2 138.8h0M616.4 140.7h0M614.5 141.7h0M614 141.9h0M619.6 141.3h0M618.3 140.8h0M616.7 141.2h0M615.6 143.5h0M620.2 142.1h0M619.6 143.1h0M618.2 143.5h0M616.1 144.5h0M615 146.1h0M620.8 143.5h0M619.9 143.5h0M617.2 145.4h0M616.8 146.6h0M616.1 147.6h0M623.1 145h0M617.8 149.4h0M617.1 148.4h0M615.8 149.2h0M624 146.3h0M618.1 149.9h0M618.1 149.9h0M615.7 150h0M624.6 147.1h0M624.7 147.4h0M624.2 146.5h0M617.7 149.3h0M618 149.7h0M625.5 149.9h0M625.5 149.6h0M623.9 152.5h0M619.3 151.6h0M618.6 151.2h0M617.4 151.4h0M624.7 151.9h0M623.7 152.6h0M621.7 153h0M619.7 153.4h0M617.3 153h0M625.1 153h0M623.5 153.5h0M621.6 154.2h0M619.2 155.6h0M618.8 155.2h0M625.5 155.9h0M624.8 155.1h0M621.6 156.2h0M620.5 156.4h0M625.9 157.9h0M625.6 157.9h0M622.9 158.6h0M620.7 159.3h0M619.8 158.5h0M625.2 159h0M623.9 159.8h0M621.2 160.8h0M632.9 135.3h0M631 134.7h0M633.1 138h0M631.8 137.3h0M632.3 138.9h0M631.5 138.6h0M630.2 141.6h0M629.5 141.4h0M629.6 140.7h0M630.4 142.7h0M629.3 143h0M630.2 146.2h0M628.6 144.8h0M631.4 146.7h0M629.8 146.7h0M628.4 146.3h0M627.8 146.9h0M630.1 145.6h0M630.1 145.6h0M629.8 146h0M628.3 147.5h0M632 147h0M632.2 147.2h0M631.1 147.4h0M629.4 149.6h0M630 150h0M634.1 148.8h0M633.5 148.2h0M632.4 150.6h0M631.3 151.8h0M631.3 151.6h0M634.6 151.6h0M632.1 152.6h0M635.9 151.8h0M634.9 154h0M634 153.5h0M637.3 154h0M636.2 154.2h0M635.3 156.2h0M636.9 153.8h0M636.4 154.1h0M635.4 156h0M638.2 154.7h0M637 155.1h0M634.9 154.7h0M637.6 157.7h0M635.9 157h0M636.1 158.9h0M637.4 161.8h0M636.2 161.6h0M633.8 160.4h0M637 163.3h0M636.9 163.2h0M636 163.4h0M633.5 163.5h0M637.2 166.2h0M637.2 165.8h0M634.7 166.1h0M633.5 165.2h0M633.3 165.7h0M636.5 166.5h0M634.9 166.9h0M633.5 165.9h0M602.6 157.2h0M602.3 156.3h0M602.3 158.1h0M601.6 158.2h0M600.3 158.3h0M600.6 161.2h0M599.6 161.2h0M600.9 162.1h0M600.2 162.1h0M601.3 164.3h0M599.5 164.6h0M600.6 165.1h0M599.6 166.6h0M599.7 165.7h0M599.4 167.3h0M599.7 166.2h0M599.3 166.4h0M599.9 169.9h0M599.2 169h0M599.3 170h0M598.8 169.7h0M597.4 172.6h0M596.9 170.7h0M596.9 170.5h0M596.2 173.9h0M595 173.7h0M595 175.9h0M594.1 175.2h0M593.3 174.1h0M593.2 176.2h0M592.5 175.3h0M612.6 167.3h0M611.9 168.3h0M609.8 168.8h0M609.6 168.8h0M609.1 168h0M612.6 169h0M610.3 170.9h0M609.7 171.3h0M609.9 170.4h0M613.9 170.8h0M613.5 171.9h0M610.7 172.8h0M608.8 172.9h0M609 173.4h0M614.1 173h0M614.2 173h0M611.6 174.4h0M610 174.9h0M614.6 175.3h0M614.2 175.2h0M613.2 175.9h0M610.9 177.2h0M615.8 177.2h0M614 178.8h0M611.4 179.1h0M615.8 177.4h0M615.9 177.9h0M613.2 177.4h0M612.1 179.4h0M610.3 179.4h0M614.8 178.6h0M612.6 178h0M611.2 179.2h0M610.4 177.9h0M615.8 180.6h0M612.9 180.3h0M611.3 180.5h0M610.6 180.9h0M616.2 181.9h0M615.6 181.7h0M613.3 182.8h0M611.7 182.2h0M610.8 182.1h0M617 183.9h0M616.8 184.3h0M614.4 184.2h0M611.7 184.9h0M616.8 185.7h0M616.4 185.6h0M614.3 186.8h0M612.9 187.2h0M611.4 186.4h0M617.5 187.4h0M617.2 188.3h0M615.1 188.1h0M617.7 189.4h0M617.1 189.1h0M614.7 190.4h0M612.5 190.6h0M617 189.9h0M614.6 190.5h0M612.8 188.7h0M616.7 192.3h0M616.5 192.2h0M614.1 192.6h0M612.7 192.3h0M616.6 194.7h0M616.2 194.1h0M613.7 193.4h0M612.4 193.7h0M616 196.3h0M614.5 196.2h0M612.1 195.4h0M610.9 194.9h0M616 198.3h0M613.1 198.1h0M612 197.2h0M616.3 200.1h0M615.1 200.3h0M613.5 200.6h0M611.6 198.8h0M603.5 180.3h0M603.8 178.6h0M603.7 181.9h0M603.7 181.5h0M602.5 182h0M604.1 184h0M603.3 184.1h0M601.8 183.8h0M604.2 185.8h0M602.6 186.5h0M603.1 187.8h0M601.6 188h0M600 187.7h0M602.1 189.5h0M601.4 190.2h0M601.2 189.3h0M599.7 188.7h0M601.4 189.6h0M600.7 189.5h0M601.2 191.9h0M600.2 191.6h0M600.1 194.7h0M599.2 193.1h0M597.7 193.8h0M598.4 195.1h0M599.7 197.1h0M597.8 196.3h0M629.8 170.5h0M627.8 171.1h0M626.8 172.4h0M630.4 172.9h0M628.7 173.9h0M627.1 174.3h0M626.8 173.7h0M629.8 175.2h0M628 176h0M630 178.2h0M628.7 178.2h0M632 178.7h0M631 179.7h0M629.7 179.4h0M632.7 180.7h0M631.8 181.6h0M630.6 181.4h0M631.3 181.5h0M632 180.7h0M630.8 181.4h0M630.7 182.9h0M634.7 181.7h0M632.8 182.8h0M635.5 183.2h0M634.4 184.8h0M637.2 183h0M637.4 184.5h0M636.8 186.3h0M639.3 184.2h0M638.8 185.9h0M640.6 185.7h0M639.7 186.6h0M638.6 187.7h0M640.2 185.8h0M638 186.7h0M641.7 187.7h0M642.1 187.8h0M640.8 188.2h0M638.4 189.6h0M638.3 189.6h0M641.6 190.4h0M641.2 191h0M642.1 192.6h0M640.9 193.3h0M639.4 193.8h0M642.8 195.2h0M641.1 194.7h0M639.7 194.4h0M643.7 195.4h0M643.1 195.6h0M641.4 195.7h0M640 197.4h0M639.9 196.2h0M620.9 195.9h0M621.6 196.6h0M622.3 196.4h0M623.2 195.4h0M623 196.1h0M625.1 196.2h0M627.9 194.3h0M627 195h0M627.2 194.9h0M628.9 194.5h0M630.8 193.3h0M632.1 192.4h0M568.5 156.3h0M568.9 156.3h0M568.2 157.5h0M571 156.5h0M570.1 156.5h0M570.2 157.3h0M572.6 157.5h0M575.2 156.9h0M574 157.6h0M576.9 158h0M576 158.2h0M578.9 158.4h0M570.7 162.3h0M570 161.3h0M571.2 164.2h0M571.5 165.3h0M571.7 166h0M418.8 182.9h0M419.6 185.5h0M421.8 181.5h0M421.5 182.8h0M421.3 185.7h0M423.2 179h0M422.7 181h0M422.8 182.6h0M423.8 184.2h0M422.5 186.6h0M425.9 178.3h0M425.2 181.5h0M425.5 182.2h0M425.7 184.9h0M425.8 186.5h0M426.6 178.8h0M427.4 180.4h0M427.5 182.2h0M428 185.2h0M427.9 187.8h0M429.6 179.3h0M430.1 180.9h0M429.7 182.2h0M429.8 184.8h0M429.7 186.4h0M431.9 178.5h0M431.3 180.5h0M430.8 183.4h0M431.6 184.9h0M434.3 183.3h0M434.1 184.2h0M435 183.2h0M435.8 183h0M435.4 185.3h0M432.5 186.4h0M431 186.4h0M427.2 187.7h0M424.9 187h0M422.3 186.9h0M420.4 185.7h0M418.1 184.2h0M418.9 182.6h0M421 181.1h0M421.1 179.2h0M424.2 178.5h0M427.3 177.5h0M429.8 178.4h0M432.6 178.3h0M433.5 180.5h0M433.9 181.6h0M419.3 188.5h0M418.6 187.7h0M421.2 190.7h0M419.4 190.2h0M419.8 193h0M419.6 192.8h0M418.5 192.7h0M416.2 191.8h0M418.9 195.2h0M418.8 195h0M417.2 194h0M416 193.7h0M416.1 193.8h0M418.2 196.4h0M416.3 196.4h0M415.5 197.1h0M414.8 196.6h0M414 196.6h0M416.3 200.8h0M415.1 200h0M412.9 199.4h0M416.6 201.1h0M414.7 200.3h0M413.1 198.8h0M415.4 199.7h0M413.3 199.3h0M412.8 198.9h0M415.9 203.2h0M413.7 202.2h0M412 201.5h0M412 200.4h0M416 205.6h0M415.5 204.4h0M413.4 204.2h0M411.8 202.5h0M411.4 202.6h0M414.7 205.8h0M414.2 206.5h0M412.4 206.1h0M411.1 205.5h0M410.8 204.4h0M412 208h0M410.7 207.2h0M412.5 210.7h0M411.6 209.8h0M409.6 209.9h0M409.5 209.4h0M412.3 211.5h0M410 211.8h0M412.1 211h0M410.5 212.3h0M411 213.7h0M409.8 214.2h0M411.1 216.5h0M409.6 215.3h0M414.5 218h0M412.7 217.9h0M410.1 217.6h0M410.3 218.6h0M413.7 219.2h0M412.7 219.2h0M410.4 219.9h0M410.5 220.3h0M414.3 222.2h0M413.1 221.1h0M411 221.6h0M412.7 223.2h0M414.4 225.1h0M413.5 224.6h0M411.3 225.2h0M429.9 190.2h0M429.5 189h0M429.8 191.8h0M429.4 191.4h0M428.1 191.1h0M429.2 193.6h0M427.7 193.9h0M426.5 192.1h0M425.9 195.3h0M425.9 194.2h0M425.5 197.7h0M424.5 195.6h0M425 200h0M423.9 198.6h0M422.8 198.7h0M423.6 199.8h0M422.2 200h0M423.9 200.9h0M423.6 199.8h0M423.4 201.9h0M421.9 200.9h0M421.5 204.1h0M421.2 203.1h0M420.2 202.6h0M420.7 205.7h0M420.1 205.1h0M419.5 204.4h0M438.1 189.3h0M436.8 192h0M438.3 193.9h0M437.5 193.4h0M436.1 193.5h0M438 196.5h0M436.6 196.3h0M438.5 197.9h0M437.2 197.6h0M435.4 198.9h0M436 199.4h0M435.4 199.8h0M436.5 200h0M436.4 201.1h0M438.4 200.3h0M438.9 201.7h0M437.2 202.8h0M440.2 202.3h0M438.9 202.5h0M439.2 203.9h0M441.2 204.6h0M442.8 205.9h0M441.6 206.2h0M441.8 207.1h0M441.7 206.8h0M443.5 206.2h0M442.6 207.2h0M444.1 208.7h0M442.5 209.2h0M441.5 209.1h0M442.1 210.9h0M441.3 210h0M442.6 212.5h0M441.1 212.9h0M442.5 214.6h0M441 215.7h0M442.5 215.2h0M445.7 204.9h0M422.2 213.3h0M422.2 214.4h0M421.9 216.8h0M422.1 219.4h0M421.9 221.7h0M423.9 211.2h0M424.1 212.3h0M423.6 214.4h0M423.4 217.7h0M424.5 218.6h0M424.2 221.8h0M423.7 222.7h0M426.6 208.6h0M425.4 211.4h0M425.8 213.3h0M425.7 214.7h0M425.5 217h0M425.7 218.5h0M425.5 221.9h0M426.5 222.9h0M428.3 209h0M428.8 211h0M428.4 213.1h0M428.5 215.7h0M428.5 217.6h0M428.7 218.8h0M429 220.4h0M428.7 222.6h0M427.8 224.8h0M429.9 214.5h0M429.6 216.8h0M430 219.9h0M430.5 218h0M430.4 220.7h0M429.8 222.6h0M427.7 225.5h0M425.6 224.7h0M424.5 223.7h0M422.9 221.9h0M421.3 220.6h0M421.8 217.4h0M420.8 213.6h0M422 212.4h0M424 210.1h0M425.1 210.5h0M426.7 208.6h0M428.8 209.4h0M430.1 212.4h0M430.6 214.7h0M615.1 193h0M614.8 194.7h0M612.9 194.9h0M611.4 196.4h0M610.9 195.9h0M616.3 196.1h0M614.6 197.4h0M612 197.5h0M612.1 197.7h0M617.2 196.6h0M616.9 197.1h0M615.7 198.6h0M613.9 199.3h0M618.4 199.5h0M617.2 200.3h0M614.8 201.3h0M618.6 200.8h0M618.3 202.3h0M615.4 202.8h0M615.7 203.3h0M620.1 202.6h0M618.3 204h0M616.2 203.7h0M618.3 200.6h0M618 201.8h0M618 203.7h0M619 204.7h0M619.1 205h0M619.9 200.9h0M619.5 200.8h0M620.1 202.6h0M620.7 204.3h0M621 205.4h0M622.5 200.7h0M621.4 200.9h0M623.1 202.9h0M622.5 205h0M624.7 199.9h0M623.6 200.5h0M624.6 202.4h0M624.6 204.3h0M625.3 204.5h0M625.8 200.2h0M625.9 202h0M626.5 203.7h0M627.3 200.1h0M628 202h0M629 202.9h0M626.9 199.6h0M627 199.3h0M628.4 202h0M629.6 203.4h0M628.8 203.6h0M628.1 198.8h0M629.1 198.9h0M630.1 199.5h0M631.6 201.4h0M630.4 197.6h0M630.4 197.7h0M630.8 199.1h0M632.9 200.2h0M632.7 196.2h0M631.8 197.2h0M633.4 198.2h0M634.1 200.2h0M633.5 195.3h0M635.5 196.8h0M635.9 198.6h0M636.6 197.8h0M633.2 194.3h0M633.3 194h0M630.8 195.1h0M629.5 196.2h0M629.1 196.3h0M634.4 194.9h0M634.7 195.1h0M633.2 197.3h0M631.6 198.1h0M631.7 198.7h0M635.1 196.4h0M633.9 197.9h0M633.8 199.4h0M633.2 200h0M635.9 198.5h0M635 200.5h0M639.5 200h0M638.4 199.2h0M637.9 200.4h0M636.6 202h0M639.8 200.8h0M637.8 201.6h0M636.9 202.3h0M640.1 200.6h0M638.3 202h0M637.2 202.8h0M637.5 202.7h0M639.4 202.5h0M638.1 204.1h0M642.4 203.7h0M642.2 204.9h0M640.3 204.8h0M639.4 206h0M638.9 205.6h0M641.6 206.3h0M640.3 207.8h0M640.1 207.9h0M644.5 207.8h0M643.4 208.5h0M646.3 209.6h0M643.6 210.8h0M642.8 211.3h0M642.2 211.9h0M646.7 210.3h0M645.9 210.1h0M644.4 211.4h0M643.4 213.5h0M643.2 213.2h0M647.1 212.8h0M646.9 212.2h0M645.5 211h0M643.1 211.8h0M643.2 211.5h0M646.6 213.8h0M646.8 213.3h0M644.5 213.4h0M642.7 213.8h0M642.9 212.8h0M645.6 216h0M644.2 214.9h0M645.3 217.9h0M643.9 217.6h0M645.3 220.7h0M642.9 220.1h0M641.7 220h0M644.6 220.5h0M643.1 219.9h0M641.8 219h0M626.7 214.4h0M627.6 214.3h0M629.2 212.7h0M629.9 213.7h0M630.2 212.1h0M630.7 211.9h0M630 210.7h0M629.9 211h0M631.6 210.8h0M636.3 220.6h0M637 221.6h0M638.9 220.3h0M638.7 220.6h0M637.8 221.6h0M640.6 221h0M639.9 222h0M643.3 221.3h0M642.5 221.5h0M645.6 221.4h0M644.8 222.4h0M644.7 222.9h0M647.2 222.1h0M647.1 222.6h0M647.9 221.3h0M648.8 222h0M647.5 222.6h0M647.9 221.4h0M649.1 222.5h0M650.4 221h0M649.9 221.6h0M650.3 219.3h0M651.3 219.1h0M652.3 217.9h0M653.4 218.4h0M653.7 219.5h0M653.3 217.3h0M653.4 217.3h0M489 34.1h0M488.6 36.2h0M489.9 36.2h0M490.2 36.8h0M492.1 35.6h0M493.1 38h0M494.5 35.6h0M495.4 37.2h0M494.4 39.1h0M496.2 37.2h0M499.5 38.2h0M498.2 39.2h0M498.7 41.3h0M500.8 36.1h0M500.5 37.2h0M501.3 40.2h0M501 41.8h0M501 43.4h0M502.4 35.4h0M503.5 37.8h0M503.8 39.9h0M503.5 42.5h0M502.9 43.9h0M502.5 46.1h0M503.4 47.4h0M504.7 32.9h0M505.8 35.2h0M505.3 37.3h0M504.7 41.9h0M504.9 46h0M505.1 47.6h0M507.9 31.4h0M506.9 33.5h0M506.7 35h0M467.1 107.3h0M466.6 109.4h0M467.7 110.5h0M469.4 107.4h0M469.1 109.7h0M469.5 111.3h0M468.8 106.4h0M470.3 108.5h0M471.2 109.1h0M470.9 111.7h0M471.6 112.7h0M474.1 50.3h0M474.2 51.8h0M473.1 57.3h0M473.2 61h0M474.1 62.5h0M473.8 67.7h0M472.9 68.6h0M474 72h0M473.3 85.9h0M474.2 88.6h0M472.8 90.1h0M473.3 94.3h0M473.8 94.5h0M468.4 105.2h0M474.2 109.7h0M472.3 109.5h0M473.8 109.7h0M472.7 111.2h0M474.8 50.7h0M474.9 52.7h0M476.1 55.4h0M475.7 56.3h0M474.9 59.5h0M475.2 61.3h0M475 62.6h0M476.1 65.1h0M475.7 66.8h0M476.3 68.9h0M475.3 71.5h0M474.7 72.9h0M475.4 75.7h0M475.8 79.6h0M475.5 81.3h0M475.8 84.5h0M475 86.7h0M475.9 87.7h0M474.9 89.8h0M475.1 92.3h0M475.8 93.9h0M475.4 95.7h0M476.6 97.8h0M477.4 100h0M478.2 102.1h0M478.7 105.4h0M476.9 108.6h0M476 109.1h0M474.8 111.9h0M476.9 48.2h0M478 50.4h0M477.1 52.4h0M476.9 54.2h0M478.1 57.1h0M477.6 59.5h0M477.6 61.6h0M477.5 62.7h0M477 64.9h0M477 67.8h0M477.2 68.8h0M477.7 71.7h0M478.4 73.3h0M477.2 75.1h0M477.9 77.5h0M477.3 80.4h0M476.6 82.4h0M475.9 84.6h0M477.1 87.8h0M477.3 88h0M477.6 90.4h0M477.2 92.4h0M477.8 95.1h0M477.5 96.9h0M477.5 99h0M477.7 100.9h0M478.7 103.6h0M478.8 104.5h0M478.2 107h0M477 109.4h0M477.5 111.2h0M476.9 112.8h0M480 46.5h0M480.2 48.3h0M480.1 50.4h0M479.6 52.4h0M479.8 54.2h0M479.7 56.1h0M479.4 59h0M479.6 60.2h0M479.1 62.8h0M480 65.7h0M479.6 66.7h0M480.1 69.7h0M479.5 70.6h0M479.3 73.9h0M480.3 75.9h0M479.4 77.5h0M479.1 79.2h0M479.6 79.2h0M482.7 78.9h0M477.5 88.2h0M478.8 89.2h0M479.7 90h0M479.8 92h0M479.1 94.1h0M479.4 96.3h0M478.9 98.2h0M480 101.4h0M480.5 102.6h0M479.1 105.1h0M478.4 107.5h0M479 109.6h0M480 111.5h0M480.1 112.8h0M482.4 47h0M481.5 48.4h0M481.6 51.2h0M482.2 53.1h0M481.8 54.3h0M481.2 56.2h0M482.5 58.7h0M481.3 61.4h0M482.3 62.4h0M482.5 65.4h0M481.7 67.7h0M482.2 68.9h0M481.8 70.9h0M481.5 73.7h0M482.6 75.6h0M481.6 77.7h0M481.1 78.8h0M483.8 79.3h0M485.3 80.3h0M479.1 89.5h0M480.2 90.7h0M481.1 91.8h0M481.7 92.6h0M482.1 94.7h0M481.5 96.1h0M481.3 98.4h0M482.1 100.8h0M481.9 102.7h0M481.5 102.9h0M479.7 104.4h0M480.6 111h0M481.6 112h0M483.2 48.4h0M483.2 50.8h0M484.4 52.2h0M484.1 55.2h0M484.5 56.2h0M483.4 59.6h0M484.5 60.7h0M484.1 63.6h0M484.1 65.2h0M484.1 67.1h0M483.9 69.6h0M483.2 71h0M484.2 73.8h0M484.3 76.2h0M483.1 77.4h0M484.3 79.5h0M485.2 80.2h0M486.4 81.5h0M487.1 82.5h0M481.3 92h0M482.1 93h0M482.7 93.7h0M483.7 95h0M483.7 96.3h0M483.2 98.3h0M483.7 100.2h0M484.5 102.1h0M483.8 102.5h0M482.2 111.5h0M483.5 111.9h0M483.2 111.8h0M486.1 48.2h0M485.4 50.2h0M485.6 53.1h0M486.6 54.4h0M486.2 56.1h0M486.3 59h0M485.2 60.6h0M485.5 63.8h0M485.8 64.5h0M485.6 67.8h0M486.8 70.1h0M485.5 71h0M486.6 73.4h0M485.7 76.4h0M485.4 78.2h0M485.7 79.7h0M486.1 81.2h0M487.5 83h0M488.9 84.6h0M488.5 84.1h0M490.1 86.2h0M483.6 94.8h0M484.5 95.9h0M484.9 96.4h0M486.2 98h0M486.7 100.1h0M486.7 103.3h0M486.5 103.9h0M486.8 104.1h0M484.9 112.2h0M485.3 112.3h0M487.9 52h0M487.7 55.2h0M488.6 56h0M487.7 58.1h0M487.9 61.5h0M487.4 62.7h0M487.2 64.6h0M486.7 65.9h0M487.2 69.9h0M487.3 71.9h0M488.2 73.2h0M487.7 75.3h0M488.7 77.2h0M487.6 80h0M488.2 81.7h0M488 83.5h0M489.1 84.9h0M490.1 86.1h0M491.1 87.3h0M488.3 98.5h0M486.2 97.6h0M486.1 97.6h0M488.4 99.1h0M487.8 100.6h0M488.5 103.1h0M488.9 104.7h0M489.1 104.8h0M489.5 104.9h0M487.1 112.8h0M490 50.7h0M490.2 52.6h0M490.3 55.1h0M490.2 57.1h0M491 58.8h0M489.7 59.6h0M487.5 62.3h0M487.2 63.7h0M487 69.5h0M487.2 70h0M488.1 72h0M489.4 73.8h0M489.4 76.2h0M490.4 77.3h0M490.2 80.5h0M489.6 81.9h0M490 84.2h0M490.8 86.6h0M490.7 86.9h0M492.6 89.2h0M495.5 92.6h0M496.1 93.1h0M490.1 99.2h0M489.6 98.8h0M489.4 100.1h0M490.5 103h0M490.3 105.1h0M490.7 105.2h0M493.2 109h0M491.3 112.5h0M490 113.1h0M492.8 53h0M492.5 55.3h0M493 56h0M491.5 58.9h0M491.8 58.9h0M491.7 58.9h0M487.2 64.7h0M497.9 66.2h0M498.1 68h0M491.2 74.9h0M493.3 75.2h0M492 75.3h0M492.3 77h0M491.9 79.9h0M492.2 81.5h0M492.6 83.4h0M492.7 86.2h0M492.3 88.8h0M493.1 89.8h0M494.5 91.6h0M496 93h0M490.5 99.5h0M491.1 100.2h0M492.1 101.1h0M492.1 103.6h0M492.6 105.7h0M492.4 106.6h0M493.2 109.8h0M493 112h0M493.9 54.1h0M493.7 56.7h0M494.7 59.3h0M495.8 60h0M496.2 60.4h0M497.8 64.3h0M498 67.1h0M498.1 68.8h0M497.2 73.1h0M495.2 74.7h0M493.6 75.2h0M494.3 77.4h0M495 80h0M494 82h0M495.1 84.5h0M495.1 86h0M493.8 87.6h0M493.9 90.6h0M495.2 92.3h0M495.9 92.9h0M496.7 93.6h0M491.9 100.9h0M493.9 102.4h0M494.6 103.3h0M494.7 105.2h0M493.7 107.9h0M493.8 108.7h0M494.1 111.1h0M494 112.7h0M496 55.2h0M496.5 56.2h0M496 58.4h0M497.2 61.5h0M497.5 62.5h0M497.9 65.7h0M498.1 67.8h0M498.2 69h0M498.1 71h0M497 73.3h0M495.8 75.6h0M495.7 77.3h0M496.1 79.9h0M495.7 82.3h0M496.8 84.8h0M496.6 86.8h0M495.9 87.7h0M496.9 90.1h0M496.2 91.7h0M497.1 94h0M497.8 94.7h0M498.1 102.2h0M497.5 102.5h0M497.2 102.7h0M496.1 104.9h0M496.8 107.8h0M496.9 109.2h0M496.2 111.9h0M498.2 59.4h0M498.6 60.5h0M497.9 63.6h0M498 64.5h0M498.7 67.4h0M499.2 68.8h0M498.9 70.8h0M497.9 73.4h0M499 73.1h0M495.9 78.2h0M496.3 79.7h0M496.8 81.7h0M497.9 84.1h0M498.6 85.7h0M499 87.7h0M499.1 90.5h0M498.8 92.7h0M498.5 93.9h0M499.6 96.6h0M500 99.4h0M499.2 101.1h0M498.2 103.2h0M498.5 105.8h0M498.1 106.3h0M497.8 109.6h0M499.2 111.6h0M501.3 60.7h0M501.2 62.5h0M500.4 64.6h0M500 67.7h0M500.2 69.7h0M500.2 71.4h0M501.3 73.9h0M502.1 74.9h0M502.9 77.6h0M503.4 79.9h0M503.6 80.7h0M500 85h0M501.4 86.6h0M500.4 88.8h0M500.5 89.8h0M500.4 92.8h0M501.3 94.3h0M500.5 97h0M500.9 99.2h0M500 100.1h0M500.6 103h0M501.4 105h0M500.6 107.7h0M500.9 109.1h0M500.6 110.9h0M502.5 61.6h0M502.1 63.4h0M502 65.1h0M502.9 67.1h0M502.2 69.5h0M502.7 71.1h0M502.1 74.3h0M503.4 75.9h0M503.1 78.3h0M503.5 80.2h0M503.6 82.6h0M503.1 83.5h0M502.4 86.5h0M502.7 88.2h0M503.6 89.8h0M503.5 91.6h0M502.4 95.2h0M502.8 96.6h0M503 99h0M502.2 101h0M503.5 102.1h0M503.2 104.9h0M502.1 107.7h0M502.7 108.9h0M502.6 111.6h0M505.4 61h0M504.6 63h0M504.1 65.9h0M505.4 66.8h0M505.3 70h0M505.3 71.9h0M504.8 73.6h0M504.8 75.3h0M505.6 77.6h0M504.9 79.9h0M505.2 81.6h0M505.5 84.6h0M505.3 86.9h0M504.2 87.7h0M504.7 90.8h0M505.3 92.8h0M504.7 94.6h0M504.6 96.1h0M505.5 99h0M504.4 101.2h0M505.2 103.2h0M504.8 104.9h0M505.6 107.6h0M505.2 109.5h0M504.4 110.7h0M505 112.7h0M507.7 67.5h0M506.5 69.8h0M507.2 71.7h0M506.4 73.7h0M506.3 75h0M506.5 78.4h0M507.4 79.7h0M507.6 82.6h0M507.4 83.2h0M506.3 85.6h0M505.9 87.4h0M505.1 89.2h0M505 91.9h0M505.6 95.4h0M505.8 96.6h0M506.2 99.6h0M506.7 101.6h0M507.5 102.8h0M507.1 104.6h0M507 107.8h0M506.3 109.7h0M506.4 111.4h0M507.2 113.1h0M508.7 67.6h0M509.5 71.3h0M508.3 72.8h0M508.6 75.4h0M509.1 77.3h0M508.8 80.4h0M508.7 81.4h0M509.1 83.8h0M509.5 85h0M507.5 85.9h0M515.8 87.6h0M516.8 88.9h0M505.9 97.5h0M506.1 98.9h0M506.2 99.3h0M507.6 102.6h0M508.7 103.4h0M509 104.5h0M509.1 107.2h0M509.4 108.9h0M509.9 111.1h0M508.7 112.8h0M510.4 76.1h0M510.6 77.7h0M510.6 80.5h0M511.2 82.5h0M511.7 83.6h0M511.9 85h0M510.8 84.9h0M515.9 87.8h0M516.7 88.8h0M505.9 97.5h0M513.2 101.4h0M513.2 101.4h0M511.4 103.2h0M511.4 103.3h0M510.4 105.7h0M511.1 107.1h0M511.2 108.5h0M510.6 111h0M514 80h0M513.1 81.9h0M513.1 84.1h0M514 85.9h0M515.4 87.2h0M516.1 88h0M517.2 89.3h0M506 97.6h0M513.2 101.4h0M513.2 101.4h0M513.4 101.4h0M513.3 102.9h0M512.7 105.5h0M512.6 107h0M513.9 109.7h0M512.9 110.7h0M515.5 82h0M516.1 83.2h0M516 85.9h0M516 87.9h0M516.8 88.8h0M518.1 90.5h0M518.7 91.1h0M519.2 99.7h0M514.4 101.6h0M516 101.5h0M515.6 102.5h0M515.4 105.5h0M515.4 107.6h0M514.9 109.9h0M515.5 111.2h0M518 84.5h0M517.9 86.7h0M517.7 88.3h0M518.2 89.8h0M519 91.5h0M516.9 101.6h0M517.2 105.3h0M517.6 109.6h0M517.2 111.2h0M518.1 112.7h0M519.4 85.6h0M519.8 86.8h0M520.3 88.4h0M518.8 90.9h0M519.6 92.3h0M521.6 86.8h0M522.4 88.7h0M521.8 89.9h0M521.4 91.9h0M522.8 87.5h0M523 90.5h0M509.3 58.4h0M509.2 59.8h0M511.7 57.8h0M514.3 55.8h0M513.9 57.7h0M518.4 53.3h0M521 33.2h0M520.3 35.1h0M519.8 37h0M522.6 28.4h0M523.3 31.1h0M522.6 32.5h0M522.5 34h0M522.3 36.3h0M522.8 38.4h0M522.2 40.4h0M522.7 45.9h0M522 48h0M525 25.9h0M523.9 28.6h0M525 30.4h0M524.2 33h0M523.9 35.4h0M525 37.1h0M525.4 38.2h0M525.1 41.3h0M524.5 43.3h0M524.7 45.1h0M525.3 46.6h0M526 29h0M526.7 31.2h0M526.6 32.8h0M527.3 34.9h0M526.3 36.1h0M526.9 39.4h0M526.4 41.6h0M526.7 43.7h0M526 45.4h0M527.2 47.1h0M528.8 30.6h0M529.6 33.1h0M529.6 35.4h0M528.8 37.1h0M529.4 38.6h0M528.8 40.9h0M528.2 42.8h0M528.6 45.5h0M530.5 33.2h0M530.7 34.6h0M531.4 37.3h0M531.7 38.8h0M531 40.8h0M531.3 42.5h0M531.2 45.6h0M530.3 47.6h0M532.4 32.7h0M532.4 34.2h0M533.7 36.2h0M532 38.3h0M531.3 40.9h0M531.3 42.7h0M531.3 45.2h0M531.3 46.6h0M532.7 50.1h0M532.4 51.1h0M531.3 43.2h0M531.3 45.3h0M531.3 46.5h0M534.2 51.1h0M540.8 45.4h0M538.1 50.9h0M538.5 53.2h0M540.6 48.9h0M540 50h0M541.1 53.4h0M543.3 34.4h0M542.8 36.7h0M543 38.2h0M543.2 39.6h0M542.3 41.9h0M543.1 44.5h0M542.2 46.9h0M542.1 48.9h0M542.3 50.3h0M545.2 34.2h0M545.4 36.3h0M543.9 37.5h0M544.4 39.8h0M544.1 42.6h0M544.7 44.8h0M545 46.9h0M545.3 48.9h0M544.7 51.4h0M546.4 34.3h0M546.9 35.3h0M546.2 37.6h0M547.4 40h0M547.4 42.8h0M546.4 44.4h0M546.1 48.2h0M548.8 33.6h0M549 36.5h0M548.9 38h0M548.5 39.7h0M542.1 59.8h0M542.6 62.1h0M544.3 60.3h0M544.1 62.5h0M544.6 64.2h0M546.5 62.3h0M546.8 63.9h0M548 61.4h0M550.9 62h0M550.4 63.8h0M553.2 60.6h0M552.8 61.9h0M555 60.1h0M554.7 61.7h0M555.2 63.6h0M557.5 57.5h0M556.8 59.8h0M556.8 62.9h0M556.8 64h0M558.9 54.3h0M560 55.9h0M559.4 58.2h0M559.2 59.6h0M559.4 62h0M561 52.2h0M561.2 53h0M561.6 55.8h0M561.9 58.1h0M560.7 60.6h0M561 61.7h0M562.7 51.6h0M562.9 53.2h0M562.8 55.4h0M564.1 57.4h0M563.1 59.8h0M563 61.7h0M564.8 52.4h0M565.9 53.4h0M565.5 56.5h0M565.4 58.6h0M567.1 56.4h0M524.9 64.6h0M525.6 67.7h0M525.1 62.5h0M525.2 64h0M525.6 65.9h0M525.6 68h0M527.8 64.5h0M527.6 66.4h0M527.4 67.8h0M529.9 65.9h0M529.8 68.6h0M529.2 70.7h0M531.7 66.4h0M530.9 68.1h0M531 70h0M532.8 66.1h0M533.5 67.5h0M533.2 70.1h0M534.1 72.2h0M535.1 66.3h0M536 67.6h0M536.2 70.3h0M536 72.3h0M537.3 68.1h0M538.2 70.9h0M537.2 72.6h0M538.2 74.2h0M540.4 67h0M540.4 67.7h0M539.7 70.1h0M540 72h0M539.7 74.6h0M541.6 68h0M541.2 70.7h0M541.2 72.4h0M544.4 70.7h0M543.5 72.5h0M525.4 111.7h0M528.6 108.7h0M528.4 111.9h0M528.5 113.1h0M531.3 94.8h0M531.5 100h0M530.9 101h0M530.5 102.4h0M529.2 104.7h0M530.2 107.3h0M530.1 110h0M529.7 111.8h0M532.4 95.9h0M532.2 98.8h0M531.5 101.4h0M532.7 102.2h0M531.7 104.6h0M532.3 107.7h0M532.8 108.5h0M532.2 111.3h0M531.4 113.5h0M534.4 100h0M534 103.5h0M534.5 105.2h0M534.6 106.8h0M533.7 109.4h0M534.9 110.5h0M536.6 103.4h0M536.3 104.6h0M536.2 107.4h0M536.4 109.7h0M537 110.7h0M537.8 102.9h0M538.8 105.3h0M537.8 107.8h0M538.5 109.6h0M537.9 112h0M540.4 105h0M541.1 106.5h0M540.9 108.5h0M540.4 111.6h0M542.8 103.2h0M542.6 105.6h0M542.5 106.7h0M541.8 109h0M542.1 111.1h0M545.3 101.6h0M543.9 102.6h0M544.3 104.8h0M544.9 107.1h0M544.4 109.9h0M544 110.9h0M547.3 95h0M546.3 96.6h0M547 99.2h0M547 100.9h0M547.2 102.5h0M547.1 105.2h0M547 109.9h0M546.5 111.6h0M549.1 93.1h0M549.7 94h0M548.5 97.3h0M548.6 99.5h0M549.4 101.5h0M548.5 102.3h0M549 112.9h0M551.6 93.2h0M551.4 95h0M551.7 96h0M550.4 98.3h0M553.1 91.8h0M552.7 94.8h0M558.2 82.5h0M559.3 81h0M559.3 82.4h0M562.4 82.7h0M561.3 84h0M562.1 85.9h0M564.7 84.7h0M564.3 86.1h0M566.9 84.7h0M565.4 87.4h0M566.5 89.3h0M566 90.1h0M569.1 86.8h0M568.8 88.1h0M568.5 90.7h0M569 92.9h0M567.5 107.3h0M567.5 109h0M567.6 112.2h0M570.7 88.9h0M570.7 90.7h0M570.2 93.2h0M570.7 95.2h0M571.1 96.9h0M570.8 99.4h0M570.2 101.8h0M569.8 102.6h0M567.9 105.3h0M567.5 108h0M567.5 110.1h0M567.6 111.7h0M572 87.1h0M572.6 88.2h0M572 91.1h0M572.1 93.2h0M572.5 94.9h0M573.3 97.6h0M572.5 99.3h0M571.9 101h0M571.5 101.6h0M570.8 101.9h0M567.5 107.7h0M567.5 109.8h0M567.6 111.8h0M575.2 88.6h0M574.2 89h0M572.2 93.8h0M572.7 95.6h0M573.2 97.4h0M573.6 98.8h0M574.2 101h0M574.2 101.2h0M574.4 101.2h0M575.5 101.4h0M580.2 110h0M567.6 110.5h0M575.9 88.4h0M578 88.7h0M572.2 91.9h0M573.5 98.7h0M573.8 99.6h0M574.2 101.2h0M574.2 101.2h0M574.3 101.2h0M580.3 110h0M580.1 110.8h0M547.9 58.6h0M546.8 59.4h0M549.6 52.3h0M548.9 53.8h0M549.4 55.1h0M550 57.8h0M549.2 60h0M549.2 62.8h0M551.6 51.7h0M552.1 53.7h0M552.4 55.4h0M551.1 57.7h0M552.3 59.6h0M551.1 62.3h0M550.9 63.9h0M553.1 52.3h0M553.5 53.5h0M553.3 56.6h0M553.4 58.2h0M553 60.3h0M554.1 62.3h0M553.7 63.6h0M555.6 53.1h0M556.2 55.8h0M555.7 58.2h0M556.6 59.6h0M556.4 62.9h0M555.5 64h0M557.5 51.6h0M558.2 53.5h0M558.2 55.8h0M557.5 57.2h0M557.3 60.7h0M557.3 61.6h0M559.8 51.4h0M559.4 54h0M560 55.5h0M559.5 57.9h0M559.3 60.4h0M560.5 61.9h0M562.8 51.8h0M562 53.6h0M562 56.6h0M561.9 57.8h0M562.3 60.8h0M564.8 53.3h0M564.8 56h0M564.8 58.4h0M563.5 60.4h0M563.5 62.9h0M565.8 55.3h0M566 58.4h0M524.7 55.6h0M525.3 56.4h0M527.3 58.3h0M527.2 58.6h0M532.8 54.1h0M531.7 57.7h0M529.1 58.7h0M530.1 61h0M532.3 57h0M532.3 59.1h0M532.2 61.5h0M534.4 57.4h0M533.9 59.3h0M533.9 60.3h0M533.8 62.6h0M535.5 57.3h0M535.4 58.5h0M535.7 61.3h0M538.2 62.8h0M557.6 133.6h0M559.1 127.1h0M558.5 129h0M558.6 131.9h0M559.5 134h0M558.6 135.3h0M558.9 137.7h0M559.7 139.9h0M559.3 143.5h0M561.4 126.8h0M561.3 129.8h0M561.2 131.7h0M561 133.1h0M561.2 135.5h0M561.4 138.3h0M561.2 140h0M561.3 141.8h0M561.5 143.7h0M560.7 145.5h0M562.8 125.1h0M563.2 127h0M563.8 129.8h0M563.8 131.1h0M563.8 133.5h0M563.2 134.9h0M562.9 137.9h0M563.2 138.5h0M562 143.7h0M562.6 144.5h0M563.9 146.4h0M562.5 147.6h0M563.7 151.7h0M565.3 120.6h0M563.9 123.4h0M563.7 125.7h0M565 128h0M564.5 130h0M565.4 132.4h0M565 134h0M566 135.4h0M564.6 137.1h0M566.7 138.6h0M568.2 140.2h0M563.4 145.5h0M564.9 147.4h0M564.8 148.8h0M565.9 150.8h0M565.4 152.6h0M567.3 103.5h0M567.5 108.6h0M567 112.6h0M567.3 116.6h0M567.2 119.7h0M567.7 120.8h0M565.8 121.2h0M563.7 125.6h0M565 128.2h0M564.7 128.8h0M566 133h0M567 134h0M568.1 135.5h0M567.9 137.6h0M567.5 139.2h0M568.6 140.6h0M570.5 143.1h0M565.5 148.1h0M566.6 149.6h0M566.6 150h0M566.7 152.3h0M567.3 154h0M569.9 102.3h0M569.1 103.2h0M567.6 106.3h0M567.5 108.7h0M567.6 110.8h0M567.6 112.9h0M567.6 114.9h0M567.7 116.9h0M567.7 118.5h0M567.7 120.5h0M567.7 120.8h0M567.7 120.8h0M567.7 120.8h0M565 127.9h0M567 134h0M567.5 134.5h0M569.7 136.1h0M569.3 137.5h0M569.2 139.6h0M569.6 141.2h0M571.2 144h0M571.1 143.9h0M566.6 149.4h0M566.6 149.6h0M569.8 153.5h0M570.2 154h0M570 156.3h0M569.1 159.2h0M572.1 101.4h0M570.9 101.8h0M568.6 103.9h0M567.5 109h0M567.6 110.6h0M567.6 111.8h0M567.6 115.6h0M567.6 116.6h0M567.7 118.2h0M567.7 120.8h0M567.7 120.8h0M567.7 120.8h0M565.1 128h0M580.4 126.8h0M580.4 128.3h0M571.5 136.5h0M570.9 136.2h0M571.9 137.7h0M572 139.8h0M572.4 142.1h0M572 143.8h0M571.9 145.2h0M571.9 145.3h0M573.5 152.4h0M571.8 153.2h0M571 155.2h0M571.3 156h0M572.3 158.6h0M571.5 160.3h0M572.4 162.9h0M571 164.8h0M573.3 101.2h0M572.4 101.3h0M567.5 108.3h0M567.5 109.7h0M567.6 113.1h0M567.6 115.1h0M567.7 117.9h0M567.7 119h0M567.7 120.8h0M567.7 120.8h0M580.4 126.8h0M580.4 126.9h0M580.4 128.5h0M580.3 130.1h0M571.3 136.2h0M572.3 137.5h0M574.1 138.3h0M573 140.5h0M573.6 141.3h0M573.7 144.7h0M573.6 144.7h0M575.5 151.6h0M575.1 151.7h0M574.4 152.4h0M573.7 154.5h0M573.2 157.3h0M573.9 159.1h0M574.2 161.5h0M574.3 162.9h0M573.6 164.6h0M574.2 101.2h0M574.3 101.2h0M574.7 101.2h0M580.3 110h0M580.2 110h0M580.2 110h0M567.6 115.1h0M567.7 117.2h0M580.2 118.7h0M567.7 120.8h0M567.7 120.8h0M580.4 127.6h0M580.2 130.5h0M579.5 132.3h0M579.2 132.7h0M577.7 137.2h0M575.9 139.3h0M575.1 142.1h0M575.5 143.9h0M577.5 147.3h0M576.7 150.6h0M576.5 152.5h0M576.4 154.6h0M575.9 156.6h0M575.4 158.4h0M576 160.3h0M580.2 116.3h0M580.7 122.5h0M577.5 146.5h0M567.7 102.1h0M567.7 104h0M567.5 106h0M567.2 108.3h0M566.5 114.3h0M566.5 121h0M567 120.8h0M564.5 127.3h0M565 128h0M565.7 132.7h0M567.6 137.8h0M568.9 141h0M563.7 145.8h0M564.9 147.4h0M566.5 149.1h0M566.9 153.1h0M566.4 153.9h0M567.5 156.5h0M567.3 158.2h0M567.5 160.8h0M569.9 102h0M568.4 104.1h0M567.6 106.2h0M567.5 108.3h0M567.5 110.2h0M567.6 112.4h0M567.6 114.2h0M567.7 117.3h0M567.7 119.3h0M567.7 120.8h0M567.7 120.8h0M567.7 120.8h0M567.7 120.8h0M567.7 120.8h0M566.7 133.7h0M569.1 135.8h0M568.7 135.7h0M568.8 138.4h0M569.7 139.6h0M570 142.3h0M570.8 143.4h0M571.9 145.2h0M571.7 145.3h0M567.7 152.6h0M568.7 153.2h0M569.8 154.8h0M569.8 157.4h0M569.9 158.9h0M569.7 161.5h0M569.9 163h0M569.7 165.5h0M570.9 101.9h0M570 102.4h0M568.5 104.1h0M567.5 109h0M567.5 110.2h0M567.6 112.5h0M567.6 114.7h0M567.7 117.6h0M567.7 118.9h0M567.7 120.4h0M567.8 120.8h0M567.7 120.8h0M564.9 127.8h0M580.4 127.3h0M580.4 127.9h0M571.3 136.2h0M570.6 136.2h0M571.4 138h0M571.4 139.3h0M570.8 141.3h0M571.2 144h0M571.9 145.2h0M571.9 145.3h0M572.5 152.9h0M571.8 153.2h0M570.9 154.5h0M572 157.2h0M571 159h0M570.6 160.5h0M570.5 162.3h0M572.4 101.3h0M573.6 101.2h0M568.6 103.9h0M580.3 110h0M567.5 109.2h0M567.6 112.4h0M567.6 114.9h0M567.6 116.5h0M567.7 118.6h0M567.7 120.8h0M567.7 120.8h0M567.7 120.8h0M565 128.1h0M580.4 127.6h0M579.9 131.4h0M571.2 136.2h0M571.6 136.6h0M572.5 137.6h0M573.9 140.2h0M573.4 142.5h0M574.2 144.7h0M573.2 144.7h0M572.5 145h0M574.2 152.1h0M573.9 152.6h0M573 155.1h0M572.9 156.9h0M572.8 158.2h0M573.2 161.5h0M574.3 101.2h0M574.3 101.2h0M576.4 101.7h0M580.2 110h0M580.2 110h0M580.1 112.8h0M580.2 114.7h0M580.2 116.7h0M580.2 117.7h0M567.7 120.8h0M567.7 120.8h0M580.4 126.7h0M580.4 127.3h0M579.7 131.9h0M579.5 132.3h0M579 133h0M575.7 138.3h0M575 138.4h0M575.7 140.6h0M575.4 141.3h0M575.8 144.5h0M575.7 145.1h0M577.5 149.3h0M575.7 151.4h0M575.1 152.1h0M575.9 154.4h0M574.9 155.9h0M575.9 158.8h0M575 160.7h0M574.2 101.2h0M574.2 101.2h0M575 101.3h0M580.2 110h0M580.1 110.1h0M580.1 112.5h0M580.2 114.6h0M580.2 116.7h0M580.2 118.7h0M580.5 121h0M580.4 125h0M580.4 126.6h0M580.4 126.6h0M580.4 129.5h0M579.1 132.9h0M579.1 132.8h0M578.8 135.3h0M578 138.4h0M576.9 139.3h0M576.8 142.2h0M578.1 143.8h0M577.7 145.6h0M578 149h0M577.2 151.1h0M577.9 152.4h0M578.4 154.6h0M577.9 156.4h0M578.2 158.5h0M583.5 102.8h0M580.4 110h0M580.1 110.1h0M580.1 110.8h0M580.2 113.3h0M580.2 114.6h0M580.2 117.2h0M580.3 119.5h0M580.5 121.2h0M580.7 122.4h0M580.3 125.2h0M580.4 127.4h0M580.3 130.2h0M579.7 131.9h0M579.6 134.4h0M580.3 135h0M579.6 137.5h0M579.8 140.2h0M580 142h0M579.7 143.4h0M580 145.8h0M579.3 148.1h0M579.9 150.8h0M579.5 152.2h0M583.5 103h0M584.1 105.3h0M582 109.5h0M582.5 110.9h0M581.6 112.8h0M581.4 114.2h0M581.7 116.6h0M582.5 119.1h0M581.3 121.8h0M581.6 123.6h0M581.6 124.7h0M582.2 126.9h0M582.2 129h0M581.6 131.3h0M581.5 134.4h0M581.4 135.5h0M581.5 137.7h0M580.9 140.1h0M580.7 140.3h0M580.9 144.9h0M581.2 145.5h0M581.8 148.1h0M582.1 150.3h0M581.5 151.9h0M584.6 103.7h0M584.4 107h0M584.7 107.9h0M584.3 111h0M584.1 111.9h0M582.9 114.6h0M582.7 116.9h0M583.1 118.3h0M583.6 121.7h0M584.2 122.7h0M584.3 125.4h0M583.6 127.3h0M584.4 129.8h0M584.5 131.5h0M583.6 132.9h0M583.8 135.2h0M584.6 137.1h0M582.9 138.9h0M586.5 140.3h0M581.2 145.4h0M582.1 147h0M583.4 148.9h0M584 150.1h0M582.9 152.5h0M585.6 102.6h0M585.6 103.9h0M586.6 106h0M585.5 108.6h0M586.1 109.9h0M585.2 112.3h0M585.6 112.2h0M582.7 116.8h0M583.5 119.7h0M584 121.4h0M585 124.4h0M585.2 125.1h0M585.2 127.4h0M585.2 130h0M586.6 131.4h0M585.8 133.8h0M586.3 135.4h0M586.2 137.9h0M586.6 140.4h0M586.9 140.9h0M587.9 142.7h0M589.3 147.3h0M588.3 147.3h0M584.4 149.6h0M583.4 151h0M587.7 101.8h0M588.3 103.7h0M587.6 106.5h0M587.7 107.6h0M588.8 111h0M588.5 112.3h0M588.4 112.3h0M591.1 115.6h0M583.7 120.3h0M584.2 122h0M585.4 126h0M585.3 125.6h0M586.3 128.7h0M587 130.6h0M587.5 131.4h0M588.3 133.3h0M588.1 136.2h0M588.3 138.2h0M588 139.3h0M588.3 141.5h0M588.6 143.9h0M589.4 145.7h0M589.3 147.3h0M589.2 147.2h0M584.4 149.5h0M590.3 104.3h0M589.5 106.1h0M590.7 108.5h0M589.5 110.9h0M590.9 112.3h0M590.5 113.8h0M591.2 116.6h0M591.5 117.8h0M592 120.2h0M593 123.4h0M593.3 124.7h0M586.3 128.9h0M588.7 132.2h0M589.4 132.4h0M589.6 133.9h0M590 135.5h0M589.5 137.7h0M590.2 140.4h0M589.5 142.4h0M590.7 144.4h0M590.4 145.8h0M589.6 147.2h0M589.5 147.2h0M589.9 147.2h0M592.2 103.8h0M591.8 107h0M592.4 108.6h0M592.2 109.9h0M592.5 112.9h0M592.7 115.2h0M591.7 116.5h0M592.8 118.5h0M592.4 121.5h0M592.7 122.5h0M593.2 124.3h0M594.1 127.4h0M593.1 131.4h0M592.6 131.8h0M591.9 132.9h0M591.8 136.2h0M592.2 136.1h0M590.6 140.1h0M591.6 142.5h0M592.7 144.2h0M591.6 145.7h0M593.3 148.4h0M593.6 148.6h0M593.7 104.6h0M595 106h0M595.2 108.3h0M593.7 110.3h0M593.8 112.3h0M594.4 115.4h0M594.6 116.5h0M594.1 118.9h0M594.6 121.4h0M595 123.3h0M593.8 124.9h0M594.3 128h0M595.2 129.4h0M594.1 131h0M594.3 132.5h0M592.5 135.4h0M592.5 135.8h0M590.6 139.7h0M593.7 143.3h0M594.4 143.9h0M594.1 146.4h0M596 104.9h0M597.3 106.5h0M597 108.3h0M596.7 110.9h0M596.3 111.8h0M597 114.6h0M596.7 117.1h0M596.4 118.8h0M596.2 121.2h0M597 123.3h0M596.7 125.8h0M596.5 127.3h0M597.2 129.2h0M596.2 131.8h0M595.6 132h0M600 135.4h0M600 135.1h0M600.3 136.7h0M602.8 140.6h0M596.8 144.9h0M596.2 146.3h0M595.8 147.7h0M598.3 101.8h0M599.2 104.7h0M598.6 106.8h0M598.5 109.1h0M599.3 110.9h0M599.1 113h0M598.7 114.8h0M597.9 117.2h0M598.8 127.8h0M598.3 129h0M597.8 131.4h0M598.8 132.9h0M600.1 135.5h0M600.3 136.7h0M600.4 137.1h0M601.7 144.5h0M598.6 145.5h0M598.5 146.7h0M600.5 104.4h0M600.6 105.8h0M600.2 107.9h0M600.1 111h0M600.2 113.3h0M601.2 129.8h0M600.7 131.2h0M600.4 133.4h0M600.4 135.1h0M600.4 137.4h0M602.6 140.1h0M602.8 142.8h0M602 144.3h0M600.4 146.4h0M602.1 102.6h0M602.3 103.4h0M602.5 106.6h0M603 108.6h0M602.4 133.1h0M603.2 135.8h0M602.8 137.9h0M603 139.1h0M603.5 142.5h0M605.6 136.5h0M605.2 138.3h0M604.7 139.6h0M616.7 115.2h0M616.8 118.1h0M616.1 120.7h0M618.7 112h0M618 113.2h0M618.4 115.9h0M618.8 117.3h0M619.4 119.3h0M617.9 121.5h0M618.6 124.3h0M617.9 125.9h0M618.7 129h0M620.1 111.4h0M620.9 113.3h0M621.2 115.4h0M620.7 117.7h0M621.3 120.2h0M620.4 121.4h0M621.2 124h0M620 126.8h0M620.3 128h0M623.4 112.4h0M622.9 113h0M623 116.4h0M622.3 118.5h0M622.7 120.2h0M623.3 122.2h0M623.5 124.3h0M623.6 126.9h0M624.4 112.3h0M624.7 113.6h0M625.2 117.8h0M625 120.7h0M624.9 121.7h0M625.5 120h0M625 123.6h0M623.9 126h0M623.4 127.8h0M622.1 128.9h0M620.5 130.4h0M618.8 130.8h0M618 127.8h0M617.1 126h0M616.7 123.5h0M616.4 121.1h0M616.3 116.9h0M616.3 115.4h0M617.4 111.7h0M618.4 109.8h0M619.9 110.6h0M621.4 111.8h0M622.5 112.2h0M623.8 112.6h0M625.6 113.9h0M625.4 117.2h0M609.8 146.8h0M611.1 137.7h0M611.1 144.7h0M611.5 147.3h0M612.2 149.2h0M612.3 152.1h0M613.9 137.5h0M614.5 139.9h0M613.2 142h0M613.1 143.4h0M614.4 145.4h0M614 147.3h0M614.5 149.6h0M614.5 152.2h0M613.8 154h0M614 155.2h0M616.2 137.5h0M615.5 139.2h0M615.6 141h0M616.1 144h0M615.7 146.2h0M616 147.5h0M615.5 149.8h0M615.3 151.7h0M615.4 154.1h0M615.2 156.7h0M617.7 137h0M617.8 139.2h0M617.7 140.7h0M618.5 143.2h0M617 145.7h0M616.8 146.8h0M617.7 149.3h0M618.3 152.5h0M618.6 153.2h0M618.7 156.2h0M618 157.8h0M619.5 139.8h0M620.2 140.6h0M619.5 143.6h0M618.6 143.9h0M616.8 146.5h0M618.2 150.1h0M619.9 152.2h0M620.8 154.7h0M619.4 155.8h0M620.6 158h0M622.8 136.9h0M621.5 139.7h0M622.8 141.9h0M621.6 143.8h0M623.5 145.6h0M624.2 146.6h0M624.1 152.4h0M623.1 152.9h0M621.4 154.4h0M622.8 156h0M621.7 158.2h0M622.8 160.2h0M622.6 161.8h0M624.8 137.4h0M624.7 138.5h0M624.2 141.7h0M624.5 144.1h0M624.1 145.5h0M624.9 147.6h0M625.4 150.4h0M624.9 152.2h0M623.6 153.1h0M623.9 155.2h0M623.7 158h0M624.8 160h0M627 137.5h0M627.1 138.8h0M625.8 142h0M626.1 143.3h0M626.5 145.3h0M626 147.1h0M625.7 150.2h0M626.3 152.5h0M625.6 154.3h0M627 155.8h0M625.9 158.6h0M627.8 135.5h0M628.3 137.2h0M628.3 139.2h0M628.8 141h0M628.6 143.7h0M628.4 144.9h0M628.6 147.4h0M628.6 149.2h0M628.3 151.6h0M628.5 153.4h0M628.5 155.3h0M628.9 158.8h0M628.2 160.2h0M631 133h0M631.1 135.6h0M630.2 137.4h0M630.1 139.6h0M629.9 140.8h0M631.3 143.4h0M629.8 145.4h0M630.2 149.5h0M631.3 152.5h0M630.4 153.6h0M630.1 156.6h0M630.5 158h0M631.3 160.9h0M630.1 162.1h0M632 135.2h0M632.5 137.2h0M633 139.5h0M633.3 141.7h0M632.6 151.9h0M633.3 154h0M632.1 155.6h0M632.2 157.8h0M633.3 159.5h0M632.1 162.3h0M634.3 138.9h0M634.1 149.5h0M634 151.9h0M634 154.2h0M635.2 156.2h0M634.7 158.2h0M634.3 160.5h0M634.6 162.7h0M634 163.8h0M636.3 153.1h0M636.6 156.6h0M636.7 158.7h0M636.5 160.1h0M593.6 173.3h0M594.2 176.7h0M595.9 170.3h0M596.6 171.3h0M596.9 174.4h0M596.4 176.1h0M595.6 177.3h0M599 167.2h0M598.8 169.8h0M597.6 171.5h0M599 173.9h0M598.6 176.1h0M598.8 178.7h0M601.2 158.7h0M600.4 161.5h0M600.2 163.4h0M599.8 164.8h0M599.6 166.6h0M599.9 169.8h0M601.1 171.8h0M601.1 173.8h0M599.7 176.2h0M600.1 178.2h0M601 180.9h0M600.5 190.7h0M601 194.4h0M600.9 196.4h0M600.8 198.6h0M602.3 159.1h0M602.4 160.4h0M601.9 163.9h0M601.4 164.6h0M601.8 164.5h0M601.3 171.2h0M602.5 172h0M602 174.3h0M601.9 176.1h0M603.3 178h0M602.6 180.9h0M602.4 182.7h0M602.1 186.4h0M603 188h0M603 191.1h0M603.1 193.3h0M603.1 194.6h0M602.7 196.3h0M605.7 165.4h0M605.6 165.3h0M607.2 166.4h0M603.4 172.6h0M604.1 174.2h0M603.9 176.5h0M604.5 177.8h0M603.5 179.7h0M603.7 181.7h0M604.2 184.7h0M604.4 186.1h0M604.3 188.7h0M604.2 190.7h0M605 192.4h0M604.2 195.2h0M604 196.1h0M607.4 166.6h0M608.1 167.1h0M608.4 173.2h0M606.7 173.8h0M606.5 176.7h0M605.9 176.9h0M603.6 181.3h0M603.7 181.9h0M604.3 185.4h0M604.4 186.1h0M606.8 189.4h0M607.1 190.3h0M606.9 191.9h0M606.6 194.7h0M606.2 197h0M608.5 167.4h0M609.5 168.7h0M609.7 171.4h0M609.6 173.3h0M608.4 175.4h0M609.6 177.9h0M610.1 178.8h0M610.7 182h0M611 183.8h0M611.2 187.2h0M609.4 189.3h0M609 190h0M608.6 192.9h0M608.2 195h0M608.8 198.3h0M611.7 172.4h0M610.2 174.5h0M610.5 176.6h0M610.3 178.2h0M611.1 180.9h0M611.2 183h0M611 183.5h0M611.7 186.2h0M610.7 188.7h0M611.6 189.9h0M611.7 192.6h0M611 195h0M611.1 197.5h0M613.7 176.6h0M613.1 177.6h0M612.5 180.2h0M612.8 182.8h0M613.2 184.4h0M613.7 187.2h0M613 188h0M613.8 190h0M613.1 192.6h0M612.8 195.1h0M612.3 198.3h0M615.9 177.4h0M615.4 180.4h0M615.7 181.6h0M616 183.6h0M614.5 185.9h0M614.9 189h0M615.2 194.3h0M614.4 196.3h0M616.8 181.7h0M616.7 184.6h0M624.8 198.6h0M626.1 196.3h0M627.8 170.3h0M628.9 173h0M628 175.4h0M627.9 176.3h0M627.7 194.5h0M627.9 195.2h0M630.3 171.4h0M630.6 173.1h0M631.2 175.7h0M629.9 177.3h0M630.7 179.1h0M630.8 191.6h0M630.8 193.7h0M630.9 195.4h0M632.2 170.4h0M633.1 172.4h0M632.1 174.3h0M632.8 176.9h0M632.6 179.9h0M633 181.8h0M632.5 193.8h0M633.3 196.7h0M633.1 197.7h0M635.2 175.2h0M634.5 176.4h0M634.7 179.1h0M635 180.5h0M634.6 184h0M634.4 186h0M635.3 189.5h0M635.2 192h0M634.3 193.9h0M634.7 196.6h0M634.9 198.1h0M636.7 174.8h0M636.8 176.5h0M637.4 179h0M636.7 181.9h0M637.3 183.7h0M637.3 185.3h0M636.4 188.2h0M636.6 190.3h0M636.4 192.5h0M636.5 194h0M636.7 196.3h0M637.1 197.3h0M638.8 177h0M639.3 179.7h0M638.5 181.7h0M639.6 183.3h0M638.1 186.2h0M638.7 186.8h0M638.4 190.4h0M639 191h0M638.6 193.2h0M638.2 196.1h0M639.3 198h0M641.1 183.3h0M640.7 185.7h0M640.6 187.1h0M641 188.9h0M641.2 191.6h0M640.1 194.2h0M641.3 195.7h0M642.5 188.3h0M642.4 192.4h0M642.4 193.2h0M616.1 196.5h0M615.2 198.5h0M615.8 201.7h0M615.9 203.8h0M617.4 195.2h0M617.8 196.5h0M618.4 198.9h0M617.9 200.9h0M617.6 202.9h0M617.8 205.4h0M619.4 195.2h0M619.1 196.3h0M619.8 199.1h0M620.6 200.4h0M620.5 203.2h0M619 205.7h0M619.8 207.4h0M621.8 194.9h0M621.1 196h0M622.5 198.9h0M621.2 201.7h0M622.6 202.6h0M622.7 205.9h0M622.5 206.8h0M622.1 209.5h0M623.8 195.4h0M624.5 196.3h0M623.3 198.7h0M623.8 201.4h0M624.6 202.9h0M623.7 204.6h0M623.8 206.9h0M623.7 209.7h0M624.1 210.8h0M626.1 193h0M626.1 194.3h0M626.6 196.7h0M626.2 199.6h0M625.4 200.2h0M625.4 203h0M626.3 205.7h0M626.3 208h0M626.7 209.8h0M626.1 211.9h0M628.4 196.7h0M628.9 199.4h0M628.6 200.4h0M627.6 203.8h0M628.9 204.5h0M628.8 207.1h0M628.1 208.6h0M628.3 211.1h0M627.9 213.2h0M630.6 197.5h0M630.7 199.3h0M631 201.7h0M629.5 203.1h0M629.6 205.3h0M630.3 208h0M629.7 209.7h0M629.6 211.6h0M630.5 212.8h0M632.9 201.4h0M632.7 203.1h0M632 205.4h0M632.4 206.5h0M633.2 209.4h0M632.4 212h0M631.9 214.3h0M632.1 214.9h0M635 199h0M634.1 200.2h0M633.7 203.6h0M635.2 204.4h0M634.5 207.8h0M634 209.1h0M634.7 210.7h0M633.9 213.3h0M634 215.2h0M634.8 218.4h0M636.7 200.7h0M636.2 202.3h0M636.3 205.5h0M636.2 206.8h0M636.3 208.7h0M636.5 212.1h0M636 213h0M637.3 215.7h0M636.7 218.6h0M636.5 220.2h0M638.3 202.3h0M638.9 204.7h0M638.4 207.4h0M638.4 209.6h0M638 211.4h0M638.5 213h0M638.1 216.4h0M639 218.4h0M638.9 219.5h0M640.4 203.8h0M640.5 205.4h0M640.5 206.9h0M640.9 209.2h0M641.5 212h0M640.2 214.2h0M641.5 214.9h0M641 217.4h0M640.1 220.4h0M640.7 221.7h0M643.2 209h0M642.9 211.5h0M642.1 213h0M643.4 215.8h0M642.3 218.5h0M642.7 220.4h0M643.2 221.4h0M644.2 209.1h0M645.2 211.1h0M644.5 212.9h0M644.9 216h0M644.6 217.5h0M645.3 220.2h0M644.8 222h0M646.7 211.6h0M646.5 213.3h0M646.9 215.3h0M647.9 218.2h0M646.8 220.6h0M649.9 214h0M648.9 215.4h0M649.5 217.9h0M649.1 219.6h0M649.1 221.2h0M651 215.6h0M650.6 217.8h0M650.6 219.5h0"/>
<path stroke="#ff7f0e" d="M450.7 50.8h0M448.7 70.4h0M463.2 69.1h0M461 72.9h0M509.1 48.8h0M496.6 55.8h0M500.8 67.1h0M546 35.3h0M556.5 54.6h0M546.2 62.9h0M533.2 68.8h0M522.1 88.7h0M512.4 99.5h0M596.6 95.4h0M382.6 102.4h0M381.4 101.1h0M384.6 103h0M383.4 103.2h0M381.6 104.4h0M385 105.9h0M383.3 105.3h0M384.2 107.1h0M382.8 108.7h0M382.5 108h0M383.3 107.8h0M383 107.9h0M384.1 110h0M383.5 110h0M383.9 113h0M383.6 112.8h0M384.5 117.1h0M384.3 116.1h0M384.9 118.2h0M385 118.6h0M384.2 118h0M385.5 120.7h0M384.9 120.4h0M385.1 121.6h0M385.9 123.5h0M385.9 123.4h0M384.7 123.1h0M385.4 122.6h0M385.3 123.6h0M385.3 123h0M385.7 122.7h0M385.8 123.3h0M385.3 123.4h0M385.8 125.8h0M385.6 126h0M386.1 127.5h0M386.1 127.9h0M385.8 126.7h0M386.2 129.2h0M386.3 130h0M386.5 132.2h0M387.2 134.2h0M387.6 136.1h0M387.1 135.7h0M388.3 137.3h0M387.4 137.1h0M387.7 137.9h0M390.4 138.2h0M388.8 138.3h0M386.1 138.7h0M386.1 139.1h0M389 139.5h0M386.3 140.1h0M386.6 141.1h0M390.7 142.5h0M389.7 141.5h0M387.9 143.3h0M390.5 144.5h0M388.4 144.3h0M391.8 145.6h0M390.6 145.8h0M392.8 148.5h0M390.6 148.6h0M389.5 148.9h0M389.7 149.5h0M393 149.4h0M393.3 150.6h0M391 150.5h0M393.5 149.8h0M393.4 150.1h0M392 151.2h0M390.2 151.3h0M437.7 110.8h0M434.9 117.5h0M439.1 119.6h0M442.9 120.8h0M430.2 147.4h0M456.9 135.3h0M458.2 137.4h0M455.7 144.6h0M488.3 125.8h0M486.3 135.4h0M506.3 124.5h0M518.6 122h0M614.6 157.1h0M613.3 189.9h0M431.6 180.8h0M423.2 186.3h0M428.7 187.8h0M418.3 191.3h0M415.4 196.1h0M440.2 198.6h0M416.9 206.6h0M410.3 211.1h0M442.9 212.4h0M424.4 228.7h0M422.4 212.4h0M425.7 210.7h0M429.1 209.1h0M431.6 207.4h0M424.9 214.1h0M429.1 213.2h0M421.6 209.9h0M431.6 211.6h0M414.1 217.4h0M415.8 219.9h0M413.3 221.6h0M416.6 222.4h0M413.3 225.7h0M630.7 209.4h0"/>
</g>
<rect x="368.8" y="16.6" width="299.2" height="222.1" fill="none" stroke="#1a1a1a" stroke-width="0.7"/>
<path d="M384.3 238.7v2.9M419.8 238.7v2.9M455.3 238.7v2.9M490.8 238.7v2.9M526.4 238.7v2.9M561.9 238.7v2.9M597.4 238.7v2.9M632.9 238.7v2.9M368.8 19.6h-2.9M368.8 45.2h-2.9M368.8 70.8h-2.9M368.8 96.4h-2.9M368.8 122h-2.9M368.8 147.5h-2.9M368.8 173.1h-2.9M368.8 198.7h-2.9M368.8 224.3h-2.9" stroke="#1a1a1a" stroke-width="0.7" fill="none"/>
<g font-size="8.3">
<text transform="translate(384.3 251.1) scale(0.88 1)" text-anchor="middle">−100</text>
<text transform="translate(419.8 251.1) scale(0.88 1)" text-anchor="middle">−75</text>
<text transform="translate(455.3 251.1) scale(0.88 1)" text-anchor="middle">−50</text>
<text transform="translate(490.8 251.1) scale(0.88 1)" text-anchor="middle">−25</text>
<text transform="translate(526.4 251.1) scale(0.88 1)" text-anchor="middle">0</text>
<text transform="translate(561.9 251.1) scale(0.88 1)" text-anchor="middle">25</text>
<text transform="translate(597.4 251.1) scale(0.88 1)" text-anchor="middle">50</text>
<text transform="translate(632.9 251.1) scale(0.88 1)" text-anchor="middle">75</text>
<text transform="translate(362.6 23) scale(0.88 1)" text-anchor="end">40</text>
<text transform="translate(362.6 48.6) scale(0.88 1)" text-anchor="end">30</text>
<text transform="translate(362.6 74.2) scale(0.88 1)" text-anchor="end">20</text>
<text transform="translate(362.6 99.8) scale(0.88 1)" text-anchor="end">10</text>
<text transform="translate(362.6 125.3) scale(0.88 1)" text-anchor="end">0</text>
<text transform="translate(362.6 150.9) scale(0.88 1)" text-anchor="end">−10</text>
<text transform="translate(362.6 176.5) scale(0.88 1)" text-anchor="end">−20</text>
<text transform="translate(362.6 202.1) scale(0.88 1)" text-anchor="end">−30</text>
<text transform="translate(362.6 227.7) scale(0.88 1)" text-anchor="end">−40</text>
</g>
<g font-size="9.9"><text transform="translate(519.8 11.7) scale(0.99 1)" text-anchor="middle">t-SNE（22 sec）</text></g>
<rect x="628.4" y="20.7" width="34.7" height="25.2" rx="1.3" fill="#fff" fill-opacity="0.8" stroke="#cccccc" stroke-width="0.6"/>
<circle cx="640.7" cy="28" r="2.9" fill="#1f77b4" stroke="none"/><circle cx="640.7" cy="38.9" r="2.9" fill="#ff7f0e" stroke="none"/>
<g font-size="8.3" text-anchor="middle"><text x="657.9" y="30.1">0</text><text x="657.9" y="41">1</text></g>
</g>
<g id="panel-c" font-family='"DejaVu Sans", sans-serif'>
<clipPath id="clip-c"><rect x="24.5" y="330.5" width="310.3" height="218.7"/></clipPath>
<g clip-path="url(#clip-c)" fill="none" stroke-linecap="round" stroke-width="5.2">
<path stroke="#1f77b4" d="M44.8 340.5h0M44.8 343.8h0M39.1 357.9h0M40.4 357.8h0M41.3 357.2h0M41.6 357h0M43.4 356.6h0M42.8 357h0M41.8 365.6h0M41.7 367.1h0M44.8 363.7h0M43.7 365.3h0M43.4 367.2h0M44 369h0M46.4 363.1h0M46.5 365.3h0M46.3 367h0M45.7 368.6h0M45.8 371.6h0M47.7 360.2h0M47.8 362.3h0M49 365.5h0M48.1 367.8h0M48.4 369.1h0M48 371.8h0M47.8 373.1h0M50.5 361.4h0M50.5 363.2h0M50.3 365.8h0M50.8 367h0M50.9 369.3h0M49.8 371.9h0M49.8 373h0M50 375.7h0M50 378.4h0M50.4 379.5h0M53.3 359.1h0M53 360.3h0M52.1 363.3h0M52.4 365h0M53.3 366.9h0M53 370h0M53 372h0M52.2 374h0M52.6 375.5h0M52.9 378.4h0M52.9 380.2h0M55 358.6h0M55.4 361h0M55.4 362.4h0M53.9 364.7h0M54.5 366.7h0M54.9 370.1h0M55 372.2h0M54.3 374h0M54.2 376.1h0M54.8 377h0M55.3 379.3h0M53.8 382h0M54.1 383.8h0M56.1 358.4h0M57.1 360.5h0M57 362.5h0M57.2 364.6h0M56.2 366.3h0M55.1 369.8h0M55.9 371.4h0M56.9 373.2h0M56.3 376.2h0M56.4 377.4h0M56.5 380.6h0M56.7 382.3h0M57.1 384.3h0M56.2 385.4h0M55.9 387.7h0M56.4 390.8h0M57.4 392.2h0M59.5 356.3h0M59.3 359.6h0M59.5 360.8h0M58.7 362.7h0M58.7 365.3h0M59.7 366.1h0M61.1 367.8h0M60.2 373.9h0M58.7 374.1h0M58.2 376.2h0M59.4 377.5h0M59.5 379.7h0M58.1 381.4h0M58.4 385.8h0M58.4 390.1h0M60.9 357h0M61.3 358h0M61.2 361.2h0M61.1 363.6h0M61.5 364.8h0M61.2 367.1h0M61.9 369.5h0M62.2 371.3h0M61.5 373.7h0M60.8 376h0M60.6 377.8h0M63.1 359.6h0M63.3 361.6h0M63.2 362.4h0M63.6 365.8h0M63 366.9h0M62.5 368.5h0M63.1 370.6h0M63.2 373.6h0M62.4 375.9h0M62.5 377.5h0M65.3 359.3h0M65.2 360.3h0M65.4 363h0M65.2 364.4h0M65.5 367.4h0M65.2 369h0M65.5 371.4h0M65.3 373.4h0M65.5 376.3h0M67.7 358.1h0M66.8 360.6h0M67.7 362.8h0M66.8 365.5h0M67.7 366.5h0M67.4 370.1h0M66.8 372.2h0M67.2 373.6h0M66.6 375.4h0M69.2 365.2h0M69 367.9h0M70 369h0M69.5 371.2h0M69 373.4h0M71.9 365.9h0M71.3 367.8h0M71.1 368.8h0M71.8 371.6h0M72.1 374.1h0M72.9 367.9h0M73.5 369h0M74.1 370.8h0M66.5 386h0M66.2 387.4h0M66 389.7h0M67.1 386.1h0M67 388.1h0M67.3 389.2h0M69.2 387.3h0M69.8 388.4h0M69.1 390.5h0M66.9 390.4h0M65.5 387.9h0M66.3 385.2h0M67.7 384.3h0M69.8 386.5h0M74.2 352.8h0M75 354.6h0M73.8 355.4h0M75.8 353.2h0M76.4 354.3h0M79 353.2h0M78.8 354.3h0M80.3 354.6h0M80.3 354.9h0M82.4 353.3h0M83.1 354.2h0M83.1 354.9h0M85.6 352.6h0M84.3 354.4h0M85.8 354.9h0M87.6 352.3h0M86.4 354.3h0M88.8 352.7h0M89.5 353.6h0M89.2 354.5h0M90.6 354h0M91.4 354.2h0M93.3 352.3h0M93.1 353.6h0M92.6 355h0M95.7 351.9h0M95.1 352.7h0M95.4 354.7h0M96 353.8h0M97.9 355.2h0M96.9 356.5h0M94.9 355.6h0M96.7 357.2h0M95.2 358.1h0M98.3 360.1h0M97.8 360.5h0M96 360.8h0M97 361.1h0M99 360.2h0M97.3 361h0M96.5 360.9h0M100.2 363.3h0M98.6 362.8h0M97.5 363.9h0M98.5 366.3h0M98 365.6h0M99.2 368h0M98.1 367h0M100.1 369h0M98.7 369.2h0M101.1 368.5h0M99.6 369.6h0M98.9 370.3h0M100 369.2h0M99.5 370.6h0M102.3 370.1h0M101.6 370.2h0M104.2 372h0M102.6 373.3h0M105.6 371.8h0M104.8 373.6h0M104.3 374.6h0M93.4 359.8h0M92.9 359.6h0M94.8 361.1h0M92.9 361.7h0M94.2 364h0M94 364.3h0M93 364.6h0M94.6 365.7h0M93.4 365.3h0M92.8 365.1h0M95 367.8h0M93.7 367.9h0M92.6 367.9h0M94.6 370.2h0M94 369.5h0M92.1 370.3h0M93.7 372.2h0M92.1 371.5h0M94 372.5h0M91.9 372.3h0M93.7 371.9h0M93.9 372.9h0M93.1 374h0M96 374h0M98.3 374.4h0M97.5 374.7h0M98.2 375.1h0M97.3 376.3h0M79.4 357h0M79.5 358.5h0M76.5 357.2h0M75.2 357.8h0M75 358.7h0M79.4 359.8h0M77 360.2h0M75.5 359.8h0M79.2 361.3h0M76.8 362.2h0M75.7 362.4h0M79.3 364.9h0M77 364.1h0M75.9 364.4h0M79.1 365.8h0M78.3 365.9h0M75.5 366.1h0M75.5 367.2h0M79 365.4h0M78.7 364.7h0M78.2 366.8h0M75.7 367.4h0M76.2 367.9h0M81.2 367h0M81.2 366.9h0M79 367.5h0M77.5 369.9h0M77.3 370h0M81.7 367.5h0M82.4 368.7h0M80 369.4h0M79.3 371.2h0M78.8 371.5h0M83.2 368.9h0M83.4 370h0M81.8 370.5h0M80.3 371.6h0M83.7 370.3h0M81.8 371.7h0M80 372.9h0M79.7 372.2h0M84 369.6h0M84.5 370.6h0M82.3 371.1h0M79.8 372.9h0M79.8 372.9h0M85.3 372.7h0M82.9 372.8h0M85.8 374.6h0M83.9 375.6h0M82.6 375.9h0M86.7 376.5h0M84.4 376.7h0M86.6 377.4h0M85.1 378.2h0M83.5 378h0M86.7 378.6h0M85 378.3h0M84 377.8h0M85.6 381h0M83.7 380.2h0M84 382.1h0M84 382h0M82.3 381.6h0M80.3 380.2h0M80.8 379.7h0M83.1 384h0M83.5 383.9h0M81.7 382.3h0M80.4 381.1h0M79.8 381.5h0M80 384h0M80.4 384.4h0M77.3 383h0M78 382.8h0M81.2 385.2h0M79.2 384.4h0M77.3 384h0M76.7 384.7h0M80.5 387h0M79.7 386.4h0M77.2 386.5h0M80.6 389h0M80.6 389.3h0M78.8 388.8h0M77.1 388.1h0M79.8 391.8h0M77.9 391h0M76.8 391.1h0M80.1 393.9h0M77.7 393h0M76.2 393h0M80.4 394.4h0M79.6 395h0M77.3 394.3h0M75.4 394.7h0M75.9 393.8h0M79.4 393.8h0M77.9 394.7h0M76.4 394h0M76.4 393.9h0M80 396.6h0M77.3 396h0M75.7 396.6h0M75.7 396.5h0M80.1 398.1h0M80.1 397.9h0M77.9 398.7h0M76.4 398.2h0M76.6 399.5h0M77.5 400.8h0M77.5 400.8h0M76.5 401.4h0M78.2 404.1h0M77.8 402.9h0M77.7 402.5h0M76.3 403.6h0M78.4 404.9h0M78.3 404.6h0M75.9 404.9h0M76 405.1h0M78.4 404.8h0M78.5 405.3h0M76.7 404.5h0M80.5 407.7h0M80.4 407.6h0M78.7 406.5h0M76.4 407.4h0M75.8 407.5h0M81.1 408.6h0M79.3 408.4h0M77.4 409.2h0M81.2 410.4h0M81.1 411.3h0M79.7 411h0M77.1 411.1h0M81.1 413.5h0M79 412.5h0M77.1 413.7h0M80.8 415.4h0M79.8 415.2h0M81.4 417.3h0M81.4 417h0M79.3 416.5h0M77.4 417.1h0M77.7 417.4h0M88.6 381.5h0M89.2 382.5h0M88.4 385h0M91 381.4h0M91.7 381.6h0M90.4 383.7h0M91 385.2h0M91 385.2h0M92.8 381.9h0M93.5 383.5h0M93.1 385.1h0M94.3 382.4h0M95.3 384.6h0M95.3 385.2h0M96.3 384.6h0M97.1 386.7h0M96.7 386.7h0M97.6 383.5h0M97.1 384.6h0M96.8 385.7h0M96.5 383.3h0M97.2 384.6h0M96.7 386.2h0M99.3 382.6h0M99.6 384.5h0M98.7 385.6h0M100.7 384.4h0M101 385.5h0M102.2 381.6h0M102.8 381.4h0M103.4 383.2h0M103.2 385.1h0M104.9 382.9h0M106 383.9h0M105.7 383.5h0M105.7 382.4h0M106.1 384.9h0M105.1 384.8h0M107.2 381.1h0M107.1 382.3h0M108.1 384.1h0M108.4 381.1h0M110 382.1h0M110 383.4h0M111.3 380h0M111 381.4h0M112.3 382.8h0M113 382h0M113.6 382.2h0M112.7 380.8h0M92.4 390.3h0M93.3 390.3h0M93 391.2h0M96.9 389.8h0M96.6 391.6h0M97.9 390.5h0M98.5 391.3h0M98.5 392.4h0M100 391.8h0M100.5 391.6h0M100.1 391.5h0M100.9 392.2h0M101.1 390.3h0M101.9 391.4h0M102.9 391.9h0M104.9 390.7h0M106.2 389.1h0M105.8 389.8h0M107 391h0M108.4 389.7h0M108 389.7h0M108.4 390.3h0M102.3 397.8h0M102.6 398.1h0M101.6 398.3h0M100.9 397.8h0M102 397.6h0M86.8 398.7h0M86.1 399.8h0M86.1 401.1h0M88.5 399.8h0M87.8 401h0M90.3 400.8h0M92.1 401.3h0M93.1 401h0M92.4 401.8h0M93.6 402.6h0M92.9 402.2h0M91.9 402.8h0M94.1 404.7h0M93.8 404.6h0M93.4 407h0M95.1 407.4h0M93.1 407.5h0M92.5 407.2h0M94.5 408h0M94.1 407h0M92.9 409.4h0M91.4 408.5h0M90.5 409.9h0M89.2 408.9h0M88.1 410.3h0M87.6 409.8h0M115.7 361.6h0M116.5 363.2h0M116.3 360h0M117.3 361.8h0M118.4 360.1h0M119.7 361.3h0M120.3 359.6h0M121.3 358.5h0M122.3 359.7h0M122.7 360.7h0M121.1 358.3h0M122.1 358.9h0M123.4 358h0M123.3 359.8h0M123.5 360.3h0M126.2 356.9h0M125.4 358.5h0M126.7 360.5h0M128.5 356.6h0M128.2 358.8h0M128.6 359.7h0M128.4 357.3h0M128.5 357.2h0M128.6 357.9h0M128.9 360.2h0M128.2 360.4h0M128.6 356.7h0M128.6 356.8h0M128.8 358.9h0M127.7 360.1h0M128.2 360.1h0M131.6 358.2h0M130.8 359.3h0M129.4 360.4h0M133.3 358.3h0M132.4 360.2h0M132.1 361.3h0M134.6 359.8h0M134.4 360.8h0M133.3 361.4h0M136.4 359.6h0M136.7 360.9h0M135.9 362.4h0M114.9 366.5h0M113.9 365.6h0M115.3 368.7h0M114.6 367.6h0M115.5 370.1h0M115.2 371h0M114.1 370.6h0M114.9 372.9h0M114.2 371.8h0M115.8 375h0M113.7 374.5h0M114 374.7h0M113.6 375.2h0M115 377.3h0M113.5 377.5h0M115.6 378.1h0M114.3 378.3h0M114.3 378.6h0M115.5 381.3h0M115.1 380.2h0M114.1 381.1h0M116.4 383.2h0M115.2 382.4h0M127.6 373.1h0M126.4 372.5h0M127.1 375.5h0M127.4 374.6h0M125.3 374.3h0M124 374h0M123.7 374.4h0M126.8 377.2h0M125.6 376.6h0M123.5 376h0M124.2 378.2h0M123.1 378.1h0M123.1 378.4h0M124.1 380.5h0M122.8 381.4h0M125.4 382.5h0M124 383.5h0M125.7 383.6h0M124.4 383.3h0M122.5 382.9h0M124.9 384.8h0M124.2 384.7h0M122.3 385.1h0M123.1 387.4h0M121.2 386.6h0M124.4 388.6h0M123.1 389.4h0M121.2 389.5h0M124.2 391.1h0M121.8 391.7h0M121.2 390.6h0M123.7 394.2h0M123.9 394.2h0M121.7 393.7h0M120.1 392.4h0M120.1 392.6h0M123.5 395.2h0M123.5 394.8h0M122 393.8h0M120 393.5h0M119.7 395h0M106.8 402h0M109.1 398h0M108.5 399.1h0M109 401.9h0M108.2 403.6h0M108.9 405.5h0M109.3 408.5h0M109.2 409.6h0M108.8 412.8h0M108.5 413.7h0M108.5 416.9h0M108.5 418.1h0M110.7 395.4h0M111.3 397.3h0M110.9 400.1h0M110.4 401.5h0M109.5 403.1h0M109.3 406.3h0M110.5 408.9h0M110.3 410.8h0M110.9 411.8h0M110.3 414.9h0M110.6 417.3h0M110.6 418.3h0M112.8 389h0M112.7 390.6h0M113.2 394.2h0M112.9 395.3h0M112.7 396.9h0M113.2 400.5h0M113.4 401.9h0M114.1 402.2h0M110.3 408.8h0M111.6 409.7h0M112.4 410.1h0M112.1 412h0M112.5 414.6h0M112.5 416.4h0M113.5 418.1h0M112.9 421.1h0M115 391.6h0M114.7 392.6h0M114.8 394.8h0M114.1 397.8h0M114.8 399.2h0M115 401.2h0M115.4 403.1h0M116.6 403.7h0M113.4 410.5h0M114.6 411h0M115.2 412.8h0M115.3 413.8h0M115.3 416.2h0M114.1 419.2h0M116.2 393h0M116.3 396.1h0M117 398h0M117 399.2h0M117 402.1h0M116.9 404h0M119.1 406.5h0M119.6 407.9h0M116.6 411.4h0M116.4 412.1h0M116.3 415.2h0M117.6 417.3h0M119.2 397h0M119.5 399.6h0M118.9 402.5h0M119.1 403.5h0M118.7 406h0M119.6 407.9h0M119.6 410.1h0M119 411.8h0M118.7 413.9h0M121.4 400.2h0M121.5 402.2h0M121.8 403.4h0M121 406.7h0M120.6 408.6h0M121.8 410.7h0M121.6 412.9h0M123.4 401.6h0M123.3 404.2h0M123 405.2h0M122.8 407.6h0M122.6 410.7h0M124.9 401.4h0M125.1 404h0M125.7 405.7h0M124.7 408.2h0M125.6 409.5h0M126.9 403.9h0M128.2 405.9h0M128.3 407.5h0M127.3 409.9h0M129.3 405.8h0M129.2 408.1h0M118.1 426h0M119.3 426.2h0M118.9 426.6h0M120.5 425.5h0M121.4 424.1h0M122.6 424.5h0M122.1 425.4h0M124.4 423.2h0M124.6 424.3h0M125 424.1h0M125.5 422.2h0M126.7 422.8h0M128 421.8h0M127.7 421.4h0M128.3 422h0M128.5 421.2h0M128.6 422.5h0M128.6 423.1h0M130.1 421.8h0M130 422.7h0M132.2 422.4h0M133 423.7h0M132.6 424.4h0M133.9 424h0M136.2 424.5h0M143.1 354.6h0M121.6 360.2h0M124.4 359.7h0M124 361.2h0M126 359.8h0M125.6 361h0M128.7 359.5h0M128.6 360.1h0M130.4 359.4h0M130.3 359.7h0M131.9 359.3h0M132 360h0M131.6 362h0M131.2 360.1h0M131.8 362h0M134.4 360.1h0M135.6 359.2h0M136.4 361.6h0M136.1 362.5h0M138.6 361.8h0M140.3 360.3h0M139.8 361h0M140.8 361h0M142.2 363h0M141.9 363.1h0M144.7 361.8h0M144.4 363.1h0M144 363.8h0M146.8 363.4h0M145.6 364.1h0M146.1 365.2h0M147.1 363.8h0M147.7 364.8h0M145.9 365.1h0M146.9 364.9h0M146 367.5h0M149 363.4h0M149 365.5h0M148.8 368.1h0M148.3 370.3h0M149.3 372.1h0M150.1 361.8h0M150.3 364.1h0M150.5 365.1h0M151.1 367.4h0M150.2 370.4h0M151.1 372h0M153.1 359.6h0M152.7 360.6h0M152.3 367.1h0M153.3 369.6h0M152.9 371.4h0M152.7 374.2h0M154.7 354.9h0M155 356.5h0M155.1 359.1h0M155 370.2h0M154.6 371.5h0M154.3 374.7h0M154.9 375.4h0M154.2 382h0M157.9 368.4h0M157.5 370.5h0M156.7 372.2h0M157.4 374.6h0M157.7 375.8h0M157.4 378.6h0M157.3 382h0M159.6 367.4h0M158.7 369.3h0M159.2 372.6h0M158.6 373.9h0M159.1 378.5h0M159 379.8h0M159.1 382.7h0M159.2 384.7h0M158.6 386.2h0M159.6 388.3h0M162 368.2h0M160.5 369.8h0M161 372.3h0M161.5 373.4h0M160.9 375.3h0M161.8 380.6h0M161.3 381.6h0M161.3 384.2h0M161.2 386.8h0M162 388.7h0M161.7 391.3h0M161.7 392.8h0M163.5 368h0M163.6 369.7h0M163.4 372.5h0M163.4 373.7h0M163.1 382.8h0M163.5 383.7h0M163.7 385.9h0M163.1 388.7h0M163.6 391.1h0M164.1 393.6h0M163.9 395.4h0M165.3 384h0M164.9 386.9h0M165.9 387.9h0M165 391h0M166.1 392.1h0M165.1 395.6h0M166 397.8h0M167.5 384.2h0M167.5 387.1h0M168.1 388.9h0M167.1 391.2h0M167.8 392.5h0M167 394.8h0M167.4 397h0M169.8 384.3h0M169.5 386.5h0M170.2 388.4h0M170.2 391.3h0M169.8 393.3h0M170.1 395.3h0M169.3 397.1h0M172.3 384.5h0M171.6 386.8h0M171.4 389.4h0M172.2 390.7h0M171.7 393.6h0M171.3 395.6h0M171 396.4h0M173.5 383.8h0M173.7 386.9h0M174.4 388.1h0M173.9 391.5h0M173.2 392.2h0M173.6 394.2h0M173.6 396.7h0M176 386.8h0M176.2 388.1h0M175.5 390.8h0M176.2 392.3h0M175.6 395.3h0M176.1 397h0M177.8 388.4h0M178.1 390.4h0M178.6 394.6h0M178.5 396.4h0M180.9 397.5h0M182 399.7h0M184 399.4h0M132.5 372.3h0M132.5 372h0M131 373.1h0M128.6 373.7h0M132.9 374.8h0M132.1 374.9h0M130.9 374.3h0M129.1 375.7h0M128.3 375.9h0M132.3 376.5h0M130.3 377.3h0M128.5 377.3h0M133.3 379.6h0M132.8 379.3h0M130.3 379h0M129.1 378.8h0M132.5 381.3h0M130.7 381.1h0M129.8 381.7h0M131.7 382.8h0M129.8 382.6h0M131.2 382.9h0M129.5 383.1h0M129.4 381.6h0M132.3 385.8h0M132.5 385.3h0M131.2 384.7h0M128.4 384.8h0M128.2 384.7h0M131.9 387.1h0M131.6 387.9h0M130.2 386.4h0M128.4 385.7h0M131 389.5h0M131.2 389.2h0M129.8 388.7h0M127.8 387.8h0M127.3 388.8h0M131.3 391.9h0M130.8 391.8h0M128.6 390.6h0M127.2 390.2h0M130.3 393.6h0M127.7 393.1h0M126.3 391.8h0M126.5 392.3h0M129.7 394.6h0M129.5 395.5h0M127.7 395.3h0M126.2 394.1h0M140.8 397.8h0M142.5 397.8h0M142.8 399h0M144.1 398.6h0M144.4 399.8h0M145.3 400h0M144.3 400.3h0M140 401.8h0M138.8 401.4h0M138.9 401.1h0M139.6 403.3h0M139 406.1h0M139.1 407h0M140.1 410h0M138.9 410.2h0M139.8 411.5h0M139 411.2h0M139 412.1h0M139.5 414.1h0M139.3 414h0M138.9 414.6h0M140 415h0M138.8 414.8h0M139.1 413.9h0M138.7 415h0M140.1 416.1h0M139 416.2h0M139 418.6h0M138.8 418.7h0M140.6 419.7h0M138.9 421.7h0M140.2 422.8h0M141.2 425.5h0M140.1 424.5h0M142.7 426.8h0M141.8 426.5h0M140.9 427.2h0M142.5 427.8h0M140.5 427.7h0M147.2 401.2h0M145.8 401.1h0M147.5 402.7h0M146.7 403h0M146.2 403.3h0M148 405.1h0M147.9 405.2h0M146.4 405.6h0M148.2 407.2h0M147.6 406.8h0M147.4 407.5h0M148.1 409.6h0M146.7 409.9h0M148.5 410.9h0M147.7 411.4h0M149.4 413.2h0M149 414.3h0M149.2 413.9h0M148.2 414.5h0M149.8 414.8h0M148.6 415h0M147.9 414.2h0M149.7 416.8h0M149.1 417.2h0M148.7 416.6h0M149.4 418.7h0M149.3 417.9h0M148.1 418h0M150.2 420.1h0M149.9 420.8h0M148.4 421.4h0M150.1 422.3h0M149.9 423.5h0M149.4 423.4h0M150.9 424.2h0M149.8 424.8h0M149.5 424.8h0M150.2 427.3h0M151 428.4h0M150.6 427.7h0M149.9 427.6h0M125.2 400h0M123.1 400.7h0M122.5 402.3h0M126.6 401.3h0M125.2 403.1h0M124.3 404.1h0M126.3 404.4h0M125 404.9h0M127.8 406.1h0M129.1 408.5h0M129.9 407.6h0M128.6 408.1h0M127.6 408.1h0M128.6 410h0M128.6 412.9h0M126.6 412.1h0M126.1 410.7h0M128.1 413.5h0M126.4 414.1h0M124.6 413.9h0M127.8 416.2h0M126 415.3h0M124.1 414.9h0M124.2 414.5h0M126.8 418.6h0M125.1 418.5h0M125.7 417.3h0M124.2 417.7h0M126.8 417.3h0M125.4 417.5h0M124.9 419.2h0M127.8 419.1h0M126.3 419.9h0M125.6 421.2h0M128.5 420.7h0M127.8 421.5h0M127.5 421.9h0M129.9 422.1h0M129 422.5h0M131.1 424h0M130.5 423.6h0M198.8 381h0M197.2 383.6h0M196.6 383.3h0M196.4 382.5h0M196.3 384h0M196 384.3h0M195.7 383.4h0M194.9 385.8h0M194.4 386.3h0M193.3 387.9h0M192.4 387.6h0M192.5 386.6h0M192.5 388.7h0M191.9 387.4h0M191.9 387.3h0M191.9 388.4h0M193.5 389.5h0M192.7 390.4h0M194.2 392.4h0M196.2 393h0M195 392.7h0M198.1 380.5h0M198.7 381.3h0M201.2 380.7h0M200.3 381.9h0M202.6 381.7h0M203 381.9h0M201.8 382.8h0M204.7 382.4h0M203.8 383.2h0M204 383.5h0M205.7 382.1h0M205.5 382.8h0M205.3 383.4h0M205.3 381.9h0M204.6 382.8h0M206.9 383.8h0M205.9 384.2h0M205.6 384.5h0M208.1 385.7h0M207.3 386h0M209.8 387.1h0M210.9 388.3h0M211.6 388.4h0M210.7 388.3h0M209.9 389.8h0M208.7 390.4h0M209.1 392.3h0M208.8 392h0M207.4 392.3h0M208.1 394.4h0M206.7 394.1h0M206.7 394h0M208 394.4h0M207 395.1h0M205.8 394.4h0M207.2 394.1h0M206.3 394.9h0M205.8 395.4h0M204.8 395.6h0M204.9 397.7h0M204.3 397.4h0M203.7 396.7h0M190.8 398.9h0M190.7 399.6h0M189.4 400.7h0M192.3 401.8h0M190.7 401.9h0M189.7 401.3h0M191.4 403.4h0M191 403.1h0M192.8 405h0M193.8 406.5h0M193.3 406.9h0M194.1 406.8h0M193.3 407.9h0M194 407.5h0M193.4 407.9h0M191.9 408.4h0M194.6 408.7h0M194.7 410.5h0M196.8 410h0M196.2 411.2h0M195.7 412.2h0M197.4 412.7h0M197.8 413.5h0M199.4 412.6h0M198.3 412.6h0M197.8 413.7h0M198.8 412.5h0M199.4 413.9h0M200 411.8h0M200.8 412.9h0M202.9 410.2h0M203.3 411.8h0M203.6 409.7h0M204.5 410.3h0M205.6 409.4h0M206.7 410.5h0M209.1 409.8h0M208.4 408.2h0M208.2 409.3h0M209.6 410.9h0M208.8 409.1h0M208.2 411.3h0M210.9 408.3h0M210.1 409.2h0M212.6 408.7h0M214.4 407.5h0M214.5 407.5h0M214.8 407.4h0M214.7 408.7h0M215.2 406.8h0M214.8 407.8h0M215.5 408.5h0M217.7 407.7h0M219.5 407h0M219.3 407.5h0M221.7 405.1h0M221.2 406.1h0M221.1 405.1h0M222.2 405.7h0M222.5 406.3h0M223.5 406.7h0M222.9 404.5h0M223 402.8h0M224.1 402.7h0M222.3 399.8h0M223.9 399.4h0M224.2 400.7h0M223 397.3h0M224.7 398.3h0M223.1 398.1h0M225 397.7h0M223.6 396.5h0M223.4 398h0M223.7 398.9h0M225 397.8h0M227.6 396.4h0M227.8 397.8h0M228.5 398.8h0M230 397.7h0M231.6 396.6h0M232.5 397.3h0M231.8 398.6h0M234.7 398.3h0M233.5 398.7h0M236.5 398.3h0M204.1 414.1h0M204.1 414.9h0M204.4 416.5h0M203.1 416h0M202.9 417h0M203.9 418.3h0M203.5 420.3h0M203.5 420.2h0M203.7 423h0M203.9 425.4h0M203.6 424.7h0M202.7 425h0M203.6 427.8h0M203.4 426.9h0M203.6 427.3h0M203.6 427.4h0M212.8 413.4h0M212.4 412.2h0M211.3 413.1h0M213.1 415.5h0M212.8 415.3h0M212.4 415.6h0M213.3 416.7h0M211.9 416.5h0M212 416.9h0M213.2 419.5h0M213.2 419.8h0M213.4 420.4h0M213.6 421h0M213.7 420.9h0M213 421.7h0M219.8 405.6h0M219.3 405.8h0M221.3 408.5h0M220.3 407.9h0M220.8 409.9h0M219.8 410.4h0M219.9 412.9h0M219.8 412.9h0M220.7 414.1h0M221 416.4h0M220.6 416.3h0M219.7 417.9h0M219.8 417.7h0M220.9 418h0M220.3 418.5h0M219.5 418.1h0M220.3 419.5h0M220.7 420.3h0M222.7 421.6h0M221.4 421.9h0M223.3 423.7h0M223.4 425.1h0M224.7 428h0M224.4 428.2h0M225.2 427.2h0M224.2 428.4h0M183.6 426.2h0M180.2 427.5h0M303.5 380.9h0M298.9 387.9h0M297.2 397.1h0M286.6 409.3h0M286.3 410h0M287.6 409.8h0M289.7 410.5h0M289.4 411.3h0M292.8 410.8h0M292 411.1h0M291.2 412.2h0M292.1 410.3h0M291.1 410.7h0M293.9 412.5h0M293.5 412.8h0M293.7 415h0M293.1 415.8h0M295.5 416.5h0M294.9 417.6h0M294.1 418.1h0M295.7 418.2h0M295.8 418.4h0M294.4 417.7h0M305.7 407h0M303.9 405.7h0M301.5 406h0M301.8 405.5h0M305.4 409.2h0M305.3 409.3h0M302.9 407.9h0M301.6 407.9h0M301.7 407.7h0M304.8 410.4h0M303.3 410.9h0M301.7 409.5h0M304.4 413.2h0M302.9 412.9h0M300.7 412.9h0M300.9 412.4h0M304.4 414h0M302.9 415h0M300.7 413.7h0M303.7 413.6h0M303.9 413.7h0M302.6 414.9h0M301.5 415.5h0M305 416.4h0M303.2 416.7h0M301.4 416.9h0M306.7 418.3h0M305.8 418h0M303.8 418.4h0M302.7 419.4h0M302.7 418.8h0M306.6 420h0M305.3 419.7h0M303.4 420.7h0M306.5 420.3h0M305.1 421.7h0M305.3 419.6h0M305.3 421.7h0M304 422.4h0M307.5 420.6h0M307.7 421.9h0M306.9 423.4h0M310.4 421.6h0M308.6 422.8h0M311.1 421.6h0M311.4 423.8h0M310.6 424.5h0M310 424.3h0M313 421.9h0M313.2 422h0M312.3 424.1h0M310.8 424.8h0M311.5 421.5h0M312.2 421.7h0M311.6 424.2h0M311.4 425.6h0M314.5 422.3h0M314.6 422.1h0M313.4 424.1h0M313.5 426.1h0M313.3 426h0M315.9 423.4h0M316 426.4h0M319.1 422.1h0M317.5 423.9h0M318.2 426.5h0M320.5 424.5h0M320 426.7h0M319.2 426.4h0M297.4 410.7h0M297.3 410.3h0M297.7 411.4h0M297.3 412.5h0M298 414.3h0M298.1 414.9h0M297.3 414.4h0M297.7 414.3h0M223.3 398.9h0M223.6 400.1h0M224.9 398.6h0M225.6 399.6h0M225.9 400.4h0M228.1 397.5h0M228 398.4h0M229.9 399h0M230 397h0M230.8 399.1h0M230.7 399.5h0M230.2 397.2h0M230.9 399.1h0M230.3 399.5h0M231.9 399.4h0M234.8 399.4h0M234 399.8h0M236.6 397.8h0M236.3 398.9h0M236 400.5h0M239.4 399.6h0M239 400.2h0M241 401.1h0M239.3 401.4h0M240.9 402.6h0M240.6 402.7h0M243.9 403.7h0M243.8 404.2h0M243.8 403.6h0M244.1 404.9h0M243.6 405.5h0M244.2 404.4h0M244 406.8h0M242.9 406.7h0M245.5 407.9h0M244.6 408.5h0M243.4 408.8h0M245.3 410.6h0M243.4 411.2h0M245.9 411.4h0M246.2 411.7h0M245.2 410.3h0M244.4 413.9h0M244 412.8h0M242.9 411.4h0M243.4 414.9h0M242.7 414.2h0M241.8 412.9h0M241 414.8h0M240.9 418h0M239.6 416.5h0M240.8 417.1h0M240 416.1h0M238.4 417.6h0M238.4 416.4h0M238.7 415.6h0M236.1 417.9h0M235.8 416.2h0M234.1 417.5h0M234.5 416.7h0M232.9 417.4h0M233 419.4h0M234.1 418h0M233 416.6h0M232.3 419.2h0M231.4 417.5h0M229.6 418.8h0M230.2 418.1h0M228.8 416.2h0M228.8 417.7h0M227.9 416.5h0M229.6 417.9h0M228.8 417.5h0M229.6 420.3h0M228.7 419.4h0M227.6 421.6h0M226.2 421.8h0M227.7 424h0M226.5 423.9h0M228.7 424.4h0M226.7 423.8h0M225.4 424.9h0M227 424.8h0M226.7 425.3h0M227.9 426.6h0M227 427.5h0M229.2 427.6h0M228.1 428h0M128.4 422h0M126.9 421.1h0M128.9 425.8h0M127.4 423.8h0M126.6 422.7h0M125.8 423.6h0M127.5 427.3h0M127.4 427.1h0M125.3 425.9h0M124.7 424.5h0M126 428.9h0M125.2 428.3h0M125 430h0M123.9 429.3h0M122.7 428.4h0M125.3 430.3h0M123.6 430.5h0M122.3 429.1h0M122 429.4h0M125.1 429.8h0M123.2 430.3h0M121.8 428.9h0M124.6 431.4h0M123.7 431.4h0M121.5 431.2h0M124 434.2h0M122.4 434.5h0M120.9 433.3h0M119.7 433.7h0M122.7 434.8h0M122 435h0M120.2 435.6h0M121.9 435.4h0M121.1 436.2h0M119.7 435.5h0M119.8 436.3h0M107.1 440.2h0M106 442.4h0M108.1 436.4h0M109 437.9h0M109.3 440.8h0M108.7 441.5h0M109.3 443.9h0M108.6 446.8h0M108.1 447.7h0M109.6 438.1h0M110.1 440h0M110.8 441.8h0M110.2 443.8h0M111 447h0M110.6 449h0M110.2 449.8h0M110.3 453.1h0M110.8 454.3h0M111.7 441.7h0M113.3 442.6h0M113.1 444.8h0M113 445.9h0M112.6 448.4h0M112.2 450.4h0M113 453h0M112.8 455.3h0M113.2 456.4h0M114.9 444.5h0M114.7 445.7h0M114.2 447.7h0M115.2 451.1h0M114.6 452.3h0M114.3 455.5h0M115.8 442.2h0M117.7 444.9h0M116.8 447h0M116.8 448.1h0M117.3 451h0M120.2 438.4h0M118.6 445.3h0M119.1 445.4h0M119.6 447.1h0M118.8 448.2h0M120.7 436.9h0M120.2 438.4h0M120.2 438.4h0M121.3 445.9h0M120.2 438.4h0M124.5 452h0M124.1 452.6h0M123.4 455.2h0M123.6 456.3h0M123.5 457.2h0M126 452.7h0M126 455.4h0M125.9 457.1h0M124.8 459.3h0M125.3 458.8h0M128.6 452.2h0M127.4 453.7h0M128.3 455.2h0M127.8 458.1h0M127 458.8h0M130.5 454.1h0M129.2 456.2h0M129 458.6h0M128.4 459.4h0M130.5 454.1h0M130.8 456.9h0M129.3 458.4h0M128.8 458.5h0M130.1 453.7h0M129.4 456.2h0M129 458.2h0M132.4 455.4h0M132.4 457.4h0M131.2 459.3h0M131.6 459.6h0M135.2 456.2h0M135.1 457h0M133.2 459.3h0M133.5 459.3h0M137.5 454.5h0M136 455.8h0M136.8 457.8h0M136.3 459.7h0M135.1 459.9h0M122.6 428.1h0M121.9 430.4h0M122 431.7h0M121.7 432.1h0M123.4 428.4h0M124.3 430.4h0M124.1 432.1h0M122.7 432.9h0M126.7 428.3h0M125.8 428.8h0M126.3 430.5h0M126 431.9h0M126.1 432.9h0M128.7 428.5h0M127.6 429.3h0M128.3 431.3h0M128.2 432.7h0M129.8 429.4h0M129.8 431.6h0M129.4 432.7h0M129.5 433h0M130.4 428.8h0M131.3 429.1h0M130.9 431h0M129.4 432.7h0M129 429.2h0M129.1 429.2h0M130 431h0M130.3 432.8h0M130.9 428.9h0M131.5 430.4h0M133 431.7h0M132.8 427.1h0M133.6 429.8h0M134.2 431.1h0M135.2 426.1h0M134.1 426.8h0M136.1 427.9h0M136.9 430.3h0M137 430.8h0M134.9 426.9h0M135.4 426.5h0M136.1 427.1h0M136.8 429.6h0M136.6 429.8h0M142.6 412.1h0M140.6 412.6h0M139.1 413.4h0M142.7 414.2h0M141.8 415.1h0M139.2 415.1h0M139.2 415.7h0M143.4 415.7h0M141.5 416.8h0M140.5 417.9h0M144.9 418.4h0M143.5 419.1h0M140.1 419.4h0M140.1 419.4h0M144.9 419.5h0M143 420.3h0M142.3 421.8h0M145.2 420.6h0M145.4 421.3h0M143.4 422.2h0M141.7 421.3h0M145 421.1h0M144.3 421.4h0M142 422.1h0M141.4 422.8h0M146.1 421.8h0M145.4 423.5h0M143.7 424.4h0M147.7 423h0M147.2 423.4h0M146.1 425.4h0M144.2 426.5h0M144.3 426.5h0M148.9 426.3h0M147.1 427h0M145.1 427.4h0M144.5 428h0M149.9 428.2h0M147.8 428.8h0M146.2 429.2h0M150.5 429.3h0M150.1 428.2h0M148.5 429.4h0M146.3 431h0M123.2 427.5h0M121.8 426.9h0M122.1 429.2h0M121.1 431h0M121.7 431.4h0M124.9 428.1h0M124.2 429.8h0M124.5 431.8h0M123.8 432.3h0M126.1 428.1h0M125.9 428.6h0M126.4 430.5h0M125.8 432.3h0M125.7 432h0M128.5 428.6h0M129.3 429h0M128.1 431.4h0M127.9 432.7h0M131.1 429.2h0M130.9 429.4h0M130 431.8h0M129.5 432.6h0M131.5 429.4h0M130.7 429.5h0M130.9 431.3h0M130.3 433.8h0M129.2 433.6h0M129.2 429.9h0M129.8 431.6h0M131 433.1h0M131 432.9h0M131.2 429h0M132.5 430.8h0M133.7 432.1h0M133.1 432.3h0M134 427.2h0M134.1 430.5h0M135.8 431.8h0M135.1 432.1h0M135.8 426.7h0M135 426.9h0M135.7 428.5h0M137.5 426.4h0M138 428.9h0M139.2 429.9h0M138.4 431h0M137.4 426.4h0M137.6 426.6h0M139.4 428.3h0M138.6 429.6h0M129.5 421.3h0M148.1 429.7h0M146.7 429.7h0M146.9 429.9h0M150.4 431.3h0M149.3 432.2h0M148.5 431.2h0M150 433.9h0M149 434.1h0M150.3 435.1h0M150.2 435.9h0M153 437h0M151.7 437.5h0M149.7 437.9h0M153.8 438.1h0M154.1 438.4h0M152.7 439.9h0M151.5 440.3h0M150.7 440.1h0M155.5 439.9h0M155.6 440.4h0M153.2 441.5h0M151.8 441.6h0M152 441.6h0M155.5 440.9h0M153.4 441.7h0M152.2 441.5h0M153.8 441.1h0M152.2 442h0M155.4 443.5h0M153.1 444.2h0M155.2 445.9h0M154.3 445.3h0M155.5 447.2h0M153.9 446.9h0M152.8 447.5h0M155 448.9h0M154.1 449.6h0M155.7 451h0M153.9 451.5h0M156.2 454.2h0M154.5 454h0M153.4 453.5h0M156.4 455.5h0M154.9 455.5h0M152.5 456.4h0M156.1 456.2h0M155.1 456.6h0M152.8 456.7h0M155.8 456.6h0M154.5 456.5h0M152.7 455.5h0M155.3 458.3h0M155.2 458.8h0M154.1 458.7h0M152.3 457.7h0M152 458.2h0M155.4 460.5h0M155.3 460h0M154.1 460h0M151.8 460.4h0M151.7 460.5h0M153.5 462.3h0M152.2 462h0M153.8 464.1h0M153.4 464.6h0M153.7 467.4h0M152.6 467.2h0M150.8 466.2h0M153.3 468.8h0M151.2 468.6h0M151.5 467h0M150.6 467.1h0M151.3 470.3h0M150.5 470.5h0M153.1 471.8h0M151.1 472.3h0M149.6 471.6h0M151.2 473.7h0M149.3 473.4h0M151.8 476.2h0M150.4 476.1h0M149 475.3h0M151.5 476.1h0M150.6 476h0M124.1 452.7h0M123.9 455h0M127 451.6h0M126.3 452.9h0M125.8 455.3h0M125.8 457.7h0M126.7 458.6h0M127.7 450.8h0M128.2 452.5h0M129.1 454.9h0M129 456.8h0M127.9 459h0M130.5 448.6h0M130.6 451.6h0M129.8 452.7h0M130.4 454.8h0M130.8 457.2h0M130.3 458.9h0M132.1 449h0M132.5 450.2h0M131.8 452.8h0M133 455.2h0M132.1 457.2h0M132.9 458.9h0M132 460.8h0M135 447.1h0M135.3 449.2h0M135.1 450.2h0M133.8 453.4h0M134.4 455.5h0M135.2 457.6h0M136.5 449.2h0M136.8 450.1h0M136.6 454.7h0M160.4 462.3h0M159.6 464.9h0M161.9 462.3h0M162.8 465.3h0M163.1 467.9h0M163.7 461.1h0M164.3 462.7h0M163.8 465.6h0M164.2 466.6h0M163.7 469h0M166.9 463.1h0M167.2 464.4h0M166 467.6h0M168.1 462.8h0M168.2 465.6h0M169.1 465.8h0M168.2 468.1h0M164.9 469.6h0M162.4 469.2h0M160.4 467.4h0M159 466.2h0M158.2 463.1h0M162.1 461.9h0M164.8 460.5h0M167.8 461.7h0M170.4 463.9h0M138.3 480.9h0M139.1 484h0M138.3 485.4h0M141.1 481.7h0M140.7 483.8h0M141.2 486h0M140.4 487.2h0M143 480.1h0M143.3 481.5h0M143.8 483.9h0M143.9 486.3h0M145.2 484h0M144.6 485h0M142.6 487.7h0M139.9 486.9h0M137.7 485.6h0M137.5 482h0M138.6 480.3h0M141.8 479.6h0M144.6 482.5h0M151.1 480.8h0M150.2 482.5h0M151.5 484.2h0M152.3 480.6h0M153.1 482.8h0M153.3 485.6h0M154.4 478.6h0M155 480.2h0M154.7 483.1h0M154.6 485.7h0M155.6 486.4h0M156.7 479.3h0M156.4 480.2h0M156.5 483h0M156.5 484.5h0M156.7 487.8h0M158.7 481.5h0M158.6 484.5h0M158.2 486.7h0M154.7 487.5h0M153.1 487.6h0M151 485.3h0M150.2 482.1h0M152.3 479.6h0M154.3 478.2h0M157.2 478.9h0M159.1 481h0M144.3 473.7h0M143.6 475h0M145.2 476.1h0M147 477.4h0M146.1 478.9h0M145 478.5h0M147.6 479.3h0M147.4 480h0M145.9 479.6h0M153.8 437h0M153.1 438h0M154.2 439.6h0M154.9 435.1h0M156.1 437.4h0M156.7 438.7h0M156.2 435.4h0M157.6 435.8h0M157.4 437.9h0M158.3 434.1h0M159.1 435.4h0M159.2 436.8h0M160 433.2h0M161.4 434.2h0M161.6 435.9h0M162 432h0M163.5 433.5h0M163.2 434.8h0M163.5 432.7h0M164.4 434.2h0M163.4 431.9h0M163.5 433.4h0M164.1 434.5h0M166.2 431.3h0M165.6 433.3h0M165.6 434h0M167.5 430.5h0M168.3 431.8h0M168 433.7h0M169.6 432.3h0M170.8 429.4h0M171.1 429.3h0M171.2 430.9h0M172 432.3h0M171.5 432.6h0M170.8 429.6h0M172.5 430.7h0M171.7 432.2h0M172 429.4h0M171.5 431.6h0M173 432.8h0M174 429.3h0M173.9 430.7h0M173.7 431.8h0M175.1 428.6h0M176.1 429.7h0M177.4 429.7h0M177.8 430.2h0M179.7 427h0M179.7 428.1h0M180.7 429.8h0M179.1 426.7h0M180 428.2h0M180.8 427.9h0M180.7 429.4h0M181.1 425.9h0M181.9 427.8h0M182.9 428.2h0M184 424.6h0M184.1 426.9h0M184.4 427.6h0M185.9 426.5h0M186.2 427.1h0M162 440.7h0M162 440.8h0M161.9 441.3h0M163.9 441.5h0M163.4 441.6h0M166.1 443.3h0M165.8 443.7h0M167.8 444.7h0M166.8 444.3h0M169.1 443.8h0M168.6 444.5h0M177.5 430h0M177.6 429.9h0M175.8 429.5h0M178.5 431.3h0M177.4 432.1h0M176.3 431.8h0M178.8 433.9h0M177.3 433.3h0M178.7 435.2h0M178 436.3h0M176.7 436h0M179.5 438h0M178.4 437.3h0M177.8 437.8h0M179.2 437.1h0M178.1 437.8h0M180.2 436.9h0M178.2 438.7h0M177.5 439h0M178.8 439.5h0M177.4 440.3h0M179.4 442.7h0M179.3 444.2h0M179.1 444.7h0M180.7 445.7h0M178.7 445.9h0M180.9 445.4h0M179.8 447.2h0M181.3 445.9h0M180.2 445.8h0M181.7 448.9h0M180.2 449.2h0M180.9 451.2h0M180.3 451.1h0M183.1 452.9h0M180.7 453.1h0M181.3 453.8h0M180.7 454.7h0M183 456.3h0M181.8 457h0M180.9 457.1h0M180.3 462.4h0M181.3 461.8h0M181.9 463.7h0M184.6 462.6h0M184.7 463.8h0M185.7 462h0M186.1 463.6h0M185.8 466.6h0M187.7 462.4h0M188.3 464.4h0M188.6 465.8h0M190.6 459.9h0M190.6 461.5h0M190.5 464.6h0M191 467.1h0M191.8 460.8h0M193.2 462.3h0M192.4 464.5h0M194.8 456.3h0M194.9 457.8h0M194.2 460.7h0M194 461.8h0M194 464h0M196.5 457.7h0M196 459.9h0M184.4 429.7h0M187.3 428.8h0M186.8 430.5h0M189.1 430.2h0M190.4 430.8h0M188.9 431.2h0M187.5 433.2h0M188.1 433.5h0M191 431.2h0M190.3 432.3h0M190.4 434.8h0M192.2 434.4h0M191.3 435.1h0M194.6 433.2h0M194 435h0M192.2 436.1h0M193.5 435.3h0M192.6 435.6h0M194.5 435.6h0M193.9 437.6h0M195.4 437.8h0M194.8 438.2h0M198.1 438.7h0M197.4 439h0M196.2 439.7h0M199.6 440.5h0M198.4 440.7h0M197.4 441.2h0M198.1 441.7h0M198.2 442.9h0M200.7 443.2h0M199.6 443.4h0M202.5 442h0M201.6 443.4h0M203 444.6h0M202.6 446.1h0M206.2 445h0M205.8 446.2h0M204.7 448h0M204.6 444.8h0M205.9 445.8h0M205.4 447.7h0M207.9 444.9h0M207.9 446.8h0M209.8 445.2h0M209.3 446h0M209.8 447.8h0M212.2 444.7h0M212.1 445.6h0M213.6 444.9h0M212.8 446.9h0M213.7 447.8h0M212.2 436.3h0M211.6 437.7h0M211.1 439.6h0M213.9 429h0M213.3 432.4h0M213.6 434.1h0M213.9 436.6h0M214.3 438.9h0M213.7 439.8h0M213.5 442.6h0M213 444.8h0M213.9 446.3h0M216.2 428.5h0M215.1 429.2h0M215.2 432.2h0M216 434.5h0M215.9 435.4h0M216.3 438.6h0M216.4 440.5h0M216.5 442.5h0M215.3 445.1h0M215.5 446.4h0M216.5 448.5h0M218.4 425.3h0M217.7 428h0M217.5 429.9h0M217.5 432.2h0M217.1 434.4h0M218.3 435.9h0M217.1 437.6h0M217.5 440.4h0M218.2 441.7h0M218.5 445.2h0M217.2 448.1h0M220.7 424.9h0M219.1 428.4h0M220.2 430.4h0M219.9 431.3h0M219.5 433.3h0M219.7 435.7h0M219.2 438.5h0M220.2 440.7h0M219.6 442h0M220 444.9h0M222.6 420.7h0M221.6 424.2h0M221.8 425.7h0M221.8 428.3h0M221.2 430.1h0M221.3 432.3h0M221.9 434.7h0M221.2 435.4h0M221.6 438.9h0M221.9 439.5h0M222.3 442h0M223.3 419.4h0M223.7 421.6h0M223.7 424.2h0M223.5 425.5h0M224 427.1h0M223.6 429.4h0M224.5 431.5h0M224 434h0M224.7 436.1h0M223.6 438.6h0M225.6 416.8h0M225.4 419h0M225.4 421.4h0M226.5 424h0M225.4 424.9h0M225.6 427.5h0M225.9 430.3h0M225.7 432.1h0M225.5 433.9h0M226 436.3h0M229 415.7h0M227.9 417.3h0M227.5 420h0M228 422.1h0M227.6 424.2h0M227.9 425.9h0M228.8 428.1h0M228 429.1h0M227.9 432.3h0M227.9 433.2h0M230.3 415h0M231.1 417.5h0M231 418.8h0M230.7 421.6h0M229.8 423.2h0M229.7 425h0M230.9 427.2h0M230.1 429.5h0M230 433.5h0M232.8 417.1h0M233.2 419.2h0M232 421.5h0M232.1 423.5h0M232.6 425.4h0M231.8 427.8h0M232.7 430.5h0M234.3 415.3h0M234.2 419.6h0M234.6 425.1h0M234 427.7h0M204.1 416.1h0M203.4 415.9h0M203.9 418h0M203.7 418.8h0M202.5 417.5h0M203.4 421.1h0M203.4 420.2h0M202 420.2h0M202.7 423.1h0M203.4 425.3h0M202.1 425.4h0M201.7 424.9h0M203.7 425.6h0M203.3 424.8h0M202.3 424.7h0M237.7 487.8h0M237.5 487.7h0M235.5 486.2h0M235.1 485.6h0M236 484.8h0M235.7 488.4h0M234.6 487.7h0M233.2 485.8h0M233.8 485.5h0M232.2 488.8h0M231.4 487.4h0M231.9 490.7h0M230.8 489.5h0M229.7 490.6h0M228.7 492.6h0M228.4 490.7h0M229.2 491.9h0M228.8 491.4h0M227.2 490.2h0M227.5 493.9h0M226.9 491.4h0M226.2 490.9h0M226 494.8h0M224.8 494h0M224 492.8h0M224 495.6h0M223.2 493.8h0M222.4 497.2h0M221.9 495.3h0M220.6 494.2h0M221 497.9h0M220.1 496.5h0M219.7 494.9h0M221.3 497.5h0M220.6 496h0M220 498.2h0M219 497h0M217.6 497.3h0M218.6 501.1h0M219.2 500.1h0M218.2 499.5h0M216.5 497.8h0M233.6 416.8h0M233.4 416.8h0M232.6 416.2h0M230.3 415.6h0M230 416.1h0M234 419h0M233.8 418.7h0M231.1 418h0M229.8 417.6h0M233.7 420.3h0M231.7 421h0M229.5 420h0M229.4 420.6h0M232.7 423.1h0M230.9 422.7h0M232 425.6h0M230.5 424.5h0M229.1 423.6h0M228.8 423.8h0M232.3 426.8h0M230 426.7h0M228 426.2h0M232.1 427.8h0M230.1 426.5h0M228.8 425.9h0M231.7 428.5h0M231.2 428.6h0M229.7 428.4h0M227.8 427.2h0M230.5 430.5h0M228.1 429.9h0M226.3 429.4h0M229.1 432.3h0M228.3 431.6h0M225.7 430.2h0M225 431h0M228.6 434.6h0M228.4 434h0M226.7 434.6h0M225.2 433h0M224.6 432.7h0M227.6 437.6h0M227.8 437.3h0M225.7 436.1h0M224 435.3h0M223.9 435.1h0M227.5 437.4h0M225.8 436h0M224 435.1h0M227.4 437.3h0M225.1 436.9h0M223.7 434.9h0M226.7 439.7h0M226.8 439.6h0M224.9 439.2h0M223.2 437.3h0M225.7 440.2h0M224 440.8h0M222.4 439h0M222 440.2h0M224.5 442.8h0M223.3 442h0M221.2 442.3h0M225 443.3h0M225.2 443.1h0M222.8 443.6h0M220.7 442.5h0M220.9 441.4h0M284.3 445.2h0M286 445.3h0M285.6 445.9h0M286.9 448.8h0M286.9 451.1h0M288.1 440.2h0M288.1 442.8h0M288.1 444.3h0M287.8 446.5h0M288.1 448.2h0M288.8 450.5h0M288.7 452.3h0M290.8 440.6h0M290.8 441.7h0M290.6 443.9h0M289.8 446.1h0M290.4 448.9h0M290.8 450h0M290.4 453.1h0M292.2 415.3h0M291.9 416.9h0M292.2 440.2h0M293.2 442h0M291.7 444.8h0M291.6 445.8h0M292.8 448.3h0M293 450.9h0M292.9 452.3h0M292.4 454.8h0M294.3 414.5h0M294.6 418h0M295.3 419.8h0M294.1 440.6h0M295.2 441.8h0M294.5 443.7h0M295.2 446.6h0M295 448.8h0M294.5 450h0M295.3 452.6h0M293.8 454.7h0M294.5 457.1h0M295.1 458.8h0M296.1 414.9h0M295.8 418h0M296.6 418.6h0M296.8 435.6h0M296.6 437.9h0M296.7 439.8h0M295.8 441.9h0M296.1 444.6h0M296.8 446.4h0M296.3 447.9h0M296 451h0M297.2 452.9h0M295.9 454.4h0M297 456.8h0M297.2 459.5h0M298 415h0M299.3 417.2h0M299.3 419.1h0M299 434.2h0M298.1 436.8h0M298.7 437.8h0M298.3 440.2h0M298.3 442.7h0M298.3 444.6h0M299.1 446h0M299 448h0M298.2 450.4h0M298.1 453.3h0M299.2 454.6h0M298.3 456.8h0M298.8 458.8h0M300.9 417h0M300.4 419.5h0M300.1 420.9h0M300.5 427.9h0M300.4 430.3h0M300.4 431.3h0M300.8 434.8h0M300.3 436.8h0M300.3 438.7h0M300.9 440.2h0M301 442.8h0M300.2 445.1h0M301.1 446.4h0M300.9 447.9h0M300.5 450.4h0M300.8 453.1h0M301.5 454.3h0M300.5 456.6h0M300.4 458.7h0M302.3 415.9h0M302.5 417.5h0M303.2 419.4h0M302.4 426h0M302.4 427.8h0M302.7 430.2h0M302.2 431.8h0M303.3 433.6h0M302.6 436.7h0M302.4 437.6h0M303.4 440.8h0M302.9 441.6h0M303.5 444.9h0M302.5 446.7h0M302.5 448.9h0M302.3 450.2h0M303.2 453.4h0M303.4 455.2h0M303 456.5h0M302.8 458.8h0M303.5 460.6h0M304.3 417.4h0M305.7 419.7h0M305.1 421.2h0M304.6 423.5h0M305.2 426.2h0M304.9 427.6h0M304.9 430.2h0M304.9 431.4h0M305.1 433.2h0M304.8 436.5h0M305.6 438.7h0M304.4 440.2h0M305.1 442.1h0M304.9 445h0M305.5 446.8h0M304.7 449.4h0M304.5 450.5h0M304.3 453.1h0M304.4 455.4h0M305.8 457.5h0M305.7 459.6h0M305.4 461.1h0M306.6 415.3h0M307.5 416.7h0M307.7 418.6h0M307 420.9h0M307.4 423.5h0M307.3 426.2h0M307.9 428.2h0M306.7 429.1h0M307 432.6h0M307.6 433.4h0M306.6 436h0M307.3 438h0M307.2 440.7h0M307.5 442.1h0M306.9 444.2h0M307.7 447.1h0M306.3 449.5h0M306.7 450.7h0M307.8 453.2h0M307.2 455.3h0M306.7 456.7h0M306.8 458.6h0M306.7 460.9h0M309.7 414.8h0M308.9 417.8h0M309.2 418.8h0M309.5 420.9h0M309.9 423.1h0M308.9 425.4h0M309.2 427.1h0M308.8 430.2h0M309.5 431.5h0M308.7 434.5h0M309.4 436.5h0M308.7 437.8h0M308.7 440.5h0M309.6 442.4h0M309 453.6h0M312 415.4h0M311.8 418h0M312.1 420h0M312 421.2h0M310.9 424.2h0M310.9 425.5h0M311.9 427.9h0M310.7 429.9h0M311.1 431.6h0M311.9 433.2h0M311.6 435.8h0M311.1 438.6h0M313.5 416.8h0M313.5 418.9h0M313.6 421.3h0M313 423.6h0M313.5 426.2h0M313.4 427.5h0M314 429.3h0M314.1 432h0M314 434.2h0M316.1 415.6h0M315.7 417.1h0M316 419.8h0M314.9 422.1h0M315.9 423.1h0M316 426h0M315 427.6h0M314.8 430h0M316 432.6h0M318.2 415.4h0M317 417h0M318.3 419.8h0M317 421h0M317.9 423.1h0M317.8 425.2h0M318.2 427.1h0M317 429.1h0M317.4 431.4h0M320.5 414.8h0M319.9 419.9h0M320.2 422h0M319.5 423.7h0M319.7 426h0M319.3 427.4h0M320.3 429.4h0M320.3 431.4h0M321.3 424.2h0M271.1 435.8h0M270 436.9h0M271.7 437.8h0M270.1 439h0M273.9 440.9h0M271.7 441h0M270.7 440.8h0M274.2 442.3h0M272.6 443h0M271 442h0M274.2 444.3h0M272.9 445.1h0M271.2 444.7h0M274.3 446.5h0M272.1 446.3h0M270.9 447.1h0M274.6 446.6h0M272.9 446.3h0M271.8 447.3h0M274.3 448.4h0M273.2 448.2h0M272.3 448.9h0M275.2 449.6h0M275.3 449.9h0M273.6 450h0M272.1 450.8h0M275.4 451.9h0M274.6 452.3h0M272.7 452.8h0M274.7 453.8h0M274 455.2h0M277 453.8h0M274.8 454.3h0M274.4 455.6h0M273.8 454.3h0M275.4 454.8h0M273.3 455h0M276.7 456.4h0M274.3 456.2h0M273.2 455.7h0M273 455.6h0M276.2 459.5h0M274.1 459.1h0M274.9 461.5h0M273.6 460.1h0M274.8 462.7h0M273.5 463.1h0M272.4 463.1h0M273.5 462.3h0M271.7 463.2h0M253.3 468.3h0M252.7 469.7h0M253.4 472.2h0M254.1 467.3h0M255.2 469.9h0M255.5 471.4h0M256.9 466.2h0M256.9 467.8h0M257.3 469.2h0M256.5 471.8h0M258.6 468.1h0M259.9 469.5h0M259 472.2h0M259.6 474h0M261.7 466.3h0M260.6 467.3h0M262 469.1h0M260.5 472h0M260.8 474.2h0M262 476.6h0M263.6 465.4h0M263.4 468.1h0M263.1 470.2h0M262.8 472.3h0M264 473.6h0M263.3 475.7h0M262.7 477.7h0M264.9 465h0M265.5 467.5h0M265.4 469.2h0M266.1 472.1h0M265 474h0M264.8 476.4h0M267.4 465.5h0M267.3 466.9h0M268.3 469.6h0M268.2 472h0M269.3 464.9h0M270.1 467h0M269.2 470.2h0M271.7 465.7h0M271.3 468.1h0M271.5 469.8h0M274.4 465h0M281.5 460.6h0M279.5 461h0M282.5 461.6h0M281 462.4h0M280.8 464.1h0M284 463h0M284.1 463h0M282.9 464.2h0M281 465.1h0M281.4 465.8h0M285.8 465.1h0M284.1 465.8h0M286.5 466.6h0M285.8 466.9h0M284.3 468.3h0M287.5 467.3h0M286 468h0M286.5 467.2h0M285.3 467.7h0M286.5 469.7h0M284.9 470.3h0M288.2 472.3h0M286.4 472.8h0M285 472.7h0M288.3 473.4h0M286 474h0M288.5 476.6h0M287 475.7h0M285.2 475.9h0M291.9 472.9h0M291 481.8h0M290.4 484.3h0M292.5 480.2h0M293.1 482.1h0M292.5 484.3h0M292.3 485.1h0M294.4 482.9h0M294.6 484.3h0M293.2 487.4h0M292.2 487.5h0M291 486.3h0M290.4 482.8h0M291.7 479.7h0M293.3 479.8h0M294.3 481.5h0M290.1 477.4h0M288.8 476.6h0M286.7 476.7h0M284.8 475.9h0M288.7 478.6h0M287.5 479.6h0M286 478.3h0M284.4 477.9h0M287.5 481.2h0M287.5 480.9h0M285.6 480.1h0M283.5 479.9h0M282.8 478.4h0M285.6 483.3h0M284 481.9h0M282.2 481.2h0M281.2 480.8h0M284.8 483.7h0M283.6 482.6h0M280.8 482.2h0M281.2 481.9h0M284.8 485.1h0M283 482.8h0M282.3 481.5h0M281.4 481.2h0M282.9 486.3h0M282.6 486.4h0M281.8 485.1h0M280.1 482.4h0M279.7 482.4h0M281 487.2h0M280.6 487.2h0M280.5 484.7h0M279.5 483.2h0M278.9 484h0M279.7 488.5h0M278.2 487.3h0M277 485h0M278.6 490h0M278 489.1h0M276.9 488.4h0M275.7 485.5h0M275.5 485.4h0M279 488.5h0M276.6 487.7h0M275.1 487.2h0M277.4 490.4h0M275.9 490.2h0M274.3 488.8h0M275.5 492.8h0M273.8 491.6h0M272.5 490.5h0M274.8 493.9h0M273 492.9h0M271.9 491.6h0M270.9 491.7h0M273.4 495.2h0M273 496.1h0M271.2 494.7h0M270.7 492.7h0M270.1 492.7h0M274.1 495.7h0M273.6 494.6h0M271.3 495.1h0M270.5 493.7h0M274.1 496.4h0M271.5 496h0M270 496.3h0M269.3 495.7h0M272.6 498.3h0M270.7 499.1h0M269.1 497.8h0M273.1 500.9h0M272.9 500.6h0M270.6 500.2h0M269.3 499.7h0M268.7 500.3h0M271.8 502.7h0M270.8 502.3h0M273 503h0M271.9 504h0M270.6 502.3h0M268.7 502h0M273.2 502.8h0M272.5 501.9h0M269.8 502.7h0M267.8 503.2h0M272.1 504.2h0M271 505h0M269.3 505.7h0M268.5 504.8h0M272.5 507.5h0M271.5 506.8h0M269.4 507.5h0M273.1 509h0M270.8 508.6h0M269.2 509.4h0M268.4 508.9h0M273.5 511.5h0M271.8 511.4h0M269.3 510.9h0M268.2 512.3h0M273.4 512.4h0M272 512.2h0M270.2 513.6h0M249.6 477.4h0M248.6 476.3h0M246.9 474.8h0M249 479.7h0M248.6 478.9h0M247.5 478h0M245.7 476.2h0M245.5 475.5h0M247.4 480.9h0M245.1 479.5h0M243.8 477.9h0M243.4 476.3h0M246.8 483.1h0M246.2 482.1h0M244 480.7h0M242.6 479.1h0M242 478.4h0M244.1 484.6h0M243 482.6h0M241 479.9h0M242.9 486.4h0M243.1 484.9h0M240.6 483.9h0M239.7 481.3h0M242.2 485.7h0M241.9 486h0M240.5 484.6h0M238.7 484h0M242.3 486.3h0M242 486.2h0M240.8 484h0M239.4 483.1h0M238 482.2h0M240.2 487.3h0M238.8 485.1h0M237.2 483.8h0M237.6 483.1h0M238.2 489.2h0M237.4 488.1h0M237.7 486.8h0M235 485.2h0M235.7 484.7h0M236.6 489.1h0M234.5 488.1h0M233.3 486h0M233.6 490.8h0M232.3 488.6h0M231.8 486.7h0M233.7 492.8h0M232.4 490.9h0M232.1 490h0M230.5 487.4h0M234.3 491.8h0M233.1 490.6h0M231.5 489.9h0M230.1 488.1h0M232.3 493.9h0M232.9 492.3h0M231 490.7h0M228.7 488.9h0M230.5 494.9h0M230.6 493.7h0M228.1 492.7h0M227.9 490.7h0M226.3 489.5h0M229.5 495.5h0M227.6 493h0M225.9 492.2h0M224.8 492h0M227.7 497.7h0M227.9 497.4h0M226.5 496h0M224.6 494.7h0M224.4 493.7h0M226.5 498.4h0M225.5 495.9h0M224 494.6h0M223.8 493.6h0M227.7 498.1h0M226.7 498.1h0M226.2 496.3h0M223.3 495.1h0M223.3 494.2h0M226.5 500h0M225.3 499.8h0M224.3 497.4h0M222.3 495.9h0M222.1 495.5h0M225.1 501.5h0M223.9 501.5h0M222.1 499.9h0M220.7 497.8h0M220.8 497.8h0M224.1 501.4h0M222.4 499.4h0M221 498.4h0M220.4 497.4h0M254.9 479.2h0M254.4 478.6h0M252.5 480h0M250.5 479.8h0M250.1 479.8h0M254.8 481.6h0M252.6 482.3h0M250.4 482.7h0M250.2 481.6h0M255.8 483.4h0M254.8 482.9h0M253.9 484h0M251.7 484.4h0M256.7 485.3h0M256 485.6h0M253.3 485h0M251.6 486.8h0M257 486.7h0M256.1 486.2h0M254.7 488.2h0M252.9 488.8h0M255.7 489.3h0M252.6 489.7h0M257.5 488.8h0M257.1 488.7h0M255.7 489.2h0M253.7 490.7h0M253.2 491.1h0M257.9 488.8h0M257.4 488.6h0M255.8 489.5h0M253.2 489.3h0M256.9 490.8h0M255.4 491.2h0M253.7 492.1h0M257.4 492.9h0M255.7 493.1h0M254.1 494.2h0M254 493.5h0M259.2 495.8h0M258.3 495.8h0M256.5 495.1h0M254.4 495.6h0M253.7 495.9h0M259.4 497.4h0M256.1 498.3h0M255.2 498.2h0M259.4 498.6h0M258.8 498.8h0M257.2 498.8h0M255.2 499.4h0M254.7 500.6h0M260 499.1h0M259.4 499.9h0M257.6 499.6h0M255.2 499h0M259.5 501.1h0M257.4 501.2h0M254.8 502.5h0M254.2 501.8h0M259.7 503.1h0M257.5 504.4h0M255.1 504.4h0M260.2 504.8h0M259.3 505.5h0M258.1 504.9h0M256.1 506.6h0M261 507.3h0M259.6 508.4h0M257.8 508.6h0M256 508.2h0M254.8 507.9h0M260.9 509.7h0M260 509h0M257.8 510.4h0M256.6 510.3h0M261.1 512.4h0M261.1 511.5h0M258.5 512.8h0M256.5 511.5h0M261 512.5h0M260.8 512h0M258.1 512.3h0M261.1 489.6h0M242.8 504.5h0M240.9 503.5h0M245.3 505.9h0M242.9 505.2h0M241.9 506.2h0M243.7 507.8h0M245.5 509.8h0M243.6 510.6h0M245.9 511.6h0M244.9 512.2h0M223.6 506.8h0M223 507.2h0M224.5 507.7h0M225.8 509.2h0M226.5 511.4h0M178.3 502.6h0M178.4 510h0M178.9 513h0M179 516h0M178.9 519.6h0M180.7 502.8h0M179.8 505.3h0M179.8 506.9h0M180.2 509h0M180.4 512h0M179.9 514.2h0M179.9 515.1h0M180.3 517.6h0M180 520.2h0M181 523.7h0M181.6 500.6h0M183.1 502.4h0M182 505.4h0M182.3 506.9h0M181.7 509.6h0M182.3 511.1h0M183 513.2h0M182.2 516.6h0M182.7 517.6h0M181.6 519.3h0M182 522.5h0M182.5 524h0M184.9 499.6h0M184.5 501.2h0M184.4 503h0M183.9 506.1h0M184.1 508h0M184.2 509.4h0M183.3 510.8h0M183.7 513.9h0M183.9 515.7h0M184.8 518.6h0M184.7 519.6h0M185 522.5h0M183.7 524.2h0M184.3 526.2h0M185.2 530.1h0M186.3 501.8h0M187 502.7h0M186 504.7h0M187.2 508h0M185.9 508.5h0M189.2 509.6h0M185 515.5h0M186.2 516.8h0M186.7 517.5h0M186.5 519.4h0M186 521.5h0M186 524.8h0M187 526.2h0M186.2 527.7h0M186.3 531.3h0M186.2 532.2h0M186.5 534.5h0M188.8 501.7h0M188.3 503.5h0M188.7 505.4h0M188.1 507.6h0M188.8 509.3h0M190.1 510.6h0M190.9 511.6h0M186.7 517.4h0M187.8 518.3h0M189.2 520.6h0M188.8 522.7h0M188.4 524.2h0M188.5 526.2h0M188.3 528.8h0M188.7 530.4h0M188.8 531.8h0M189.4 535.2h0M189.4 537h0M188.3 538.5h0M190.4 501.7h0M190 503.6h0M191.3 504.6h0M191.3 508.2h0M190.7 509.1h0M191.3 511.5h0M191.6 512.5h0M192.6 516.6h0M191.1 518.4h0M191.3 520.3h0M190.6 521.8h0M190.2 524.5h0M190 525.7h0M190.5 528.2h0M191.2 531h0M191 531.9h0M191.2 534.5h0M190.3 536.5h0M193.7 501.5h0M193 502.6h0M192.2 505.6h0M192.2 507.7h0M193.4 510.2h0M192.9 511.2h0M192.4 513h0M193.6 515.1h0M192.9 517.8h0M192.5 519.6h0M192.6 521.9h0M193.7 522.6h0M190.3 527.2h0M190.5 528.2h0M191 530.1h0M192.7 532.6h0M192.8 535.3h0M195.3 501.5h0M195.5 503.3h0M195.7 504h0M198.4 506.8h0M194.6 510h0M195.5 511.6h0M195.3 514.1h0M195.6 516.6h0M195.3 518h0M195.6 519.3h0M194.9 522.1h0M195.1 523.2h0M196.3 526h0M196.9 528.3h0M197 530.9h0M196.5 501.8h0M196.8 502.7h0M196.8 504.4h0M198.3 507.9h0M197.5 509.2h0M197.4 512h0M196.4 514.1h0M196.4 516.2h0M196.4 517.8h0M197.2 519.8h0M197.2 521.4h0M197.7 525h0M196.3 525.6h0M196.9 528.7h0M197.1 529.7h0M199.8 501.8h0M199.7 502.6h0M199.6 505.5h0M199.8 506.9h0M199.3 509.1h0M198.7 512.2h0M198.6 513.4h0M199.7 515.1h0M199.8 518.2h0M199.7 520h0M199.1 522.1h0M199.6 524.7h0M198.5 525.7h0M201.5 502.9h0M201 505.3h0M201 507.9h0M200.6 510.1h0M201.3 511.4h0M200.6 513.1h0M201.5 515.2h0M200.8 517.8h0M202 520.4h0M201.5 522.2h0M203.2 502.8h0M202.7 506.1h0M203.8 507.9h0M203.3 509.5h0M203.2 510.1h0M201.3 514.7h0M202.6 516.9h0M203.3 518.5h0M203.6 519.6h0M204.1 521.7h0M205.7 505h0M206 507.3h0M205.9 508.7h0M205.8 510.7h0M206.9 512.2h0M207.1 517h0M205.1 518.7h0M205.2 519.4h0M206.1 522.4h0M205.1 525h0M206.9 506h0M208 507.2h0M208.1 509.4h0M207.8 511.9h0M207.9 514.3h0M207.3 516.8h0M207.5 517.6h0M208 519.5h0M207.5 522.3h0M208.1 524.5h0M209.1 505.7h0M209.2 508.1h0M210.2 509h0M209.5 511.9h0M209 513.6h0M210.1 516h0M209.8 518.1h0M210.1 519.6h0M211.8 502.8h0M212.1 505.4h0M212.3 508.2h0M211.7 509.8h0M212.5 511.3h0M211.8 514.5h0M211.1 515.3h0M211 520.5h0M213.6 505.3h0M213.2 511h0M236.5 489.5h0M236.3 486.9h0M236.1 486.8h0M235.5 489.7h0M234 488.7h0M233.2 488h0M234 491.2h0M232.9 489.5h0M231.7 491.7h0M230.9 491.3h0M230.4 489.5h0M229.9 492.7h0M228.5 492.7h0M228.1 491.3h0M228.9 493.6h0M229.2 492.6h0M227.1 491.5h0M229.3 494.5h0M229.5 493.9h0M228.6 492.1h0M227.6 491.2h0M227.8 494.5h0M227.1 493.2h0M226.3 491.7h0M225.4 492.2h0M225.7 496.1h0M225.4 496.2h0M225.3 494.7h0M223.9 493h0M222.6 496.5h0M222.9 494.2h0M221.9 498.2h0M222 497.8h0M220.7 496.1h0M220.5 494.9h0M220.9 496.8h0M219.3 496.4h0M220.9 497.6h0M219.8 497.2h0M219.1 497.2h0M218.6 498.5h0M218.1 497.5h0M218.1 500.1h0M217 499.7h0M218.5 501.7h0M217.7 500.8h0M216.4 499.8h0M226.5 508.9h0M225.5 509.9h0M223.1 510.4h0M227.7 510.9h0M227.8 510.9h0M225.5 512.3h0M224.4 512.5h0M228.9 513.4h0M227 513.6h0M225.8 515.1h0M225.5 515h0M228.9 515h0M228.9 515.4h0M228.1 516.7h0M225.4 516.7h0M225.9 517.3h0M229.7 516.7h0M230.1 517.1h0M227.7 518.2h0M226.4 518h0M225.6 519.1h0M230.6 517.9h0M230.7 518.1h0M228.1 519.3h0M226.3 520.1h0M225.9 519h0M230.5 517.7h0M230 516.8h0M228.9 518.7h0M227.1 520.2h0M227.1 520.5h0M231.7 519.6h0M230 520.1h0M227.8 521.7h0M227.6 522.9h0M233.8 520.1h0M232.1 520.7h0M231 522.6h0M228.5 522.9h0M234.3 523h0M231.8 524.1h0M230.8 524.6h0M230.9 525.4h0M235.8 524.5h0M234.7 524.4h0M233.4 524.3h0M232.1 526.8h0M232 526.4h0M235.2 525.3h0M233 524.7h0M231.1 525.5h0M230.9 525.2h0M235.4 526.1h0M235.4 526.7h0M234.3 528h0M232.3 528.2h0M231.9 527.5h0M236 529h0M234.1 529.1h0M234.2 530.7h0M237.1 533h0M235 533.6h0M233.5 534.6h0M233.4 533.7h0M238.6 535.3h0M237.8 535h0M236.1 535.7h0M234.1 535.9h0M284.7 487h0M283.6 485.7h0M283.1 483.5h0M283 487.3h0M280.8 486.3h0M281.1 484.2h0M281.1 484.3h0M281 488.7h0M280.3 489h0M279.3 486.7h0M278.6 486h0M278.2 485.5h0M278.3 490h0M277.9 487.7h0M276.4 486.8h0M277.3 486.2h0M277.3 491.1h0M277.5 488.1h0M275.9 486.8h0M275.3 485.9h0M279.2 489.8h0M278.7 489.8h0M276.8 488.8h0M275.1 487.2h0M276.5 491.8h0M275.5 490.4h0M273.4 489.2h0M273 488.4h0M276.4 493.7h0M276.2 493.5h0M274.4 492.4h0M272.5 491.4h0M272 491.1h0M274.5 495.1h0M274.9 494.3h0M273.7 493.1h0M271 493h0M271.4 493h0M273.7 496h0M272.7 495.2h0M271.1 493.8h0M269.6 493.9h0M273.5 495.2h0M272.2 495.4h0M270.1 494.5h0M273.4 498.3h0M273.8 497.6h0M272.2 496.8h0M270.1 496.3h0M269.7 497h0M272.9 499h0M270.9 500.1h0M269.2 499h0M272.7 501.2h0M270.1 501.4h0M268.8 500.9h0M268.7 501h0M272.5 503.5h0M270.5 502.8h0M268.5 502.6h0M272.7 503.8h0M272.4 503.3h0M270.9 503.4h0M268.4 503.5h0M267.7 503.2h0M272.5 504.7h0M270.7 503.2h0M269.4 501.9h0M269 502.3h0M270.4 507.4h0M269.9 506.5h0M268.6 505.2h0M267.3 502.6h0M268.5 507.8h0M267.4 506.1h0M266 504.7h0M265.2 505.2h0M267.6 509.4h0M267.1 509.5h0M265.7 509.1h0M264.6 507.2h0M263.4 506.7h0M266.6 509.2h0M265.4 508.4h0M264 506.4h0M263.4 506.2h0M265.2 510.8h0M265.3 508h0M264.7 506.8h0M263.7 510.7h0M263 510.7h0M263.2 508.7h0M262.9 506.3h0M260.7 511h0M261.2 509.2h0M261.1 507.5h0M260.8 506.9h0M259.1 511.6h0M259.2 510.1h0M258.9 508.2h0M259.1 508.2h0M258.2 512.6h0M258 512.5h0M256.2 509.4h0M256.1 508.2h0M256 508.2h0M255.6 512.7h0M255.1 512.8h0M255.4 510.7h0M254.6 508.7h0M254.3 508.7h0M255.2 512.6h0M255.9 511.7h0M256 510h0M254.4 508.5h0M254.7 508.3h0M254 512.3h0M254.3 512.6h0M253.6 510.9h0M253.1 509.1h0M253.2 508.5h0M253.1 511.4h0M250.5 510.4h0M250.2 509.3h0M250.5 508.6h0M249.3 510.7h0M248 509h0M247.9 508.8h0M247 514.6h0M247.6 514.5h0M247.1 511.3h0M246 510h0M246.7 509.5h0M247.5 513.8h0M246.6 512.2h0M245.9 510.6h0M246.9 508.9h0M247.3 514.2h0M247.4 513.8h0M247 511.7h0M246.1 510.1h0M245.8 515.1h0M245.5 515h0M245.1 512.8h0M245 511h0M244.6 515.4h0M242.8 514.3h0M242.9 511.9h0M242.6 511.3h0M242.5 515.9h0M241.3 516.1h0M241.2 514.7h0M240.2 515.5h0M239.9 515.2h0M240.1 515.5h0M239.5 515.2h0M238.4 513.8h0M237.8 514.1h0M239.1 514.9h0M238.3 513.2h0M234.4 519.2h0M236.2 521.1h0M236.7 514.7h0M236.1 514.3h0M235.6 514.5h0M235.1 520.3h0M234.9 520.1h0M234.3 517.1h0M233.4 515h0M233.8 520.9h0M233.3 519.8h0M232.9 518h0M231.7 516.3h0M233 520.3h0M233.7 520.4h0M231.8 518.8h0M231.8 517h0M255.9 479.5h0M255.1 479.3h0M253.3 480.8h0M251.3 480.4h0M250.4 481.6h0M255.6 482.9h0M254.5 483h0M251.9 482.1h0M257.2 483.4h0M255.9 484.6h0M254.1 484.6h0M252.3 484.4h0M256.8 486.7h0M254.5 487h0M252.7 486.1h0M257.7 488.4h0M256.4 488.5h0M255.1 489h0M253.4 489.6h0M252.3 488.7h0M256.8 490.4h0M255.6 490.8h0M253.3 490.4h0M252.6 491.1h0M257.7 489.3h0M257 489.6h0M255 490.5h0M253.3 490.7h0M258 492h0M257.6 491.9h0M256 492.6h0M254.2 493.4h0M252.8 492.4h0M258.8 494.1h0M259 493.9h0M256.2 495.2h0M254.7 494.8h0M258.6 495.6h0M257.5 496.8h0M255.4 496.9h0M253.8 497.7h0M259.5 498.3h0M259.5 497.7h0M256.8 499.2h0M255 499.1h0M254.5 498.4h0M261.3 498.7h0M259.1 499.4h0M257.1 499.7h0M256.2 500h0M254.3 501.1h0M260.8 499.6h0M260 500.5h0M258.4 500.9h0M255.6 500.2h0M255.6 500.4h0M261.5 501.9h0M259.6 501.6h0M258.3 502.1h0M256.1 502.2h0M256 502.8h0M261.5 503.4h0M260.3 503.4h0M258.3 504.3h0M256.6 504.1h0M261.4 505.6h0M259.4 505.8h0M258.1 507.5h0M261.9 506.7h0M261.3 506.5h0M259.9 507.2h0M257.7 506.6h0M240.1 500.7h0M239.8 499.4h0M241.2 502.5h0M239.3 502.5h0M239.1 503h0M241.1 504.4h0M239.6 503.9h0M239.5 504.5h0M240.7 506.3h0M239.8 506.1h0M242.5 509h0M240.5 508.2h0M239.9 508.8h0M241.3 508.7h0M240.4 509.1h0M250 478.6h0M248.9 477.2h0M246.4 475.4h0M246.8 474h0M249.2 480h0M248.5 479h0M248 478.3h0M245.5 476.3h0M244.7 475.4h0M246.6 481.6h0M245.9 481.1h0M244.9 479.7h0M244.1 477.4h0M243.7 477.1h0M245.4 482.3h0M243.9 480.5h0M242.3 480.1h0M242.2 478.8h0M244.7 484.2h0M242.8 484.4h0M242 482.8h0M240.8 479.9h0M242.1 484.5h0M240.7 483.8h0M239.7 481.7h0M242 485.2h0M240 483.6h0M239.2 481.9h0M238.4 482h0M242.2 487.2h0M241.6 485.6h0M240.2 484.1h0M238.4 482h0M238.7 481.8h0M239.5 487h0M238.5 484h0M237.1 483.3h0M237.7 482.9h0M238.8 487.8h0M236.5 486.4h0M235.5 484.8h0M235.5 483.4h0M236.9 489.4h0M236.6 488.1h0M234.8 487.9h0M233.6 485.9h0M233.5 484.6h0M233.7 490.3h0M234 488.2h0M232.4 487.3h0M232.9 491.4h0M232.5 488.9h0M230.8 486.8h0M229.4 486.9h0M233.2 492.4h0M233 491.9h0M232.1 488.8h0M231.1 488.2h0M232.6 493.4h0M232 491.9h0M230.3 490.1h0M228.6 489.2h0M230.9 494.2h0M230.3 493.4h0M228.4 492.3h0M227.7 490.2h0M226.3 489.1h0M229.3 495.3h0M228.6 494.8h0M227.1 493.7h0M227.3 496.2h0M226.1 495.4h0M225.4 494.5h0M224.4 492.3h0M226.2 497.5h0M224.4 497.1h0M224.3 494.8h0M222.1 493.3h0M226 509.5h0M225 509.2h0M223.7 509.8h0M222 511h0M226.5 510.5h0M224.2 512.1h0M223.1 513.4h0M223.1 513.4h0M227.4 513.5h0M225.7 514.7h0M224.3 514.5h0M228.9 513.8h0M229 513.8h0M227.2 514.7h0M225.4 516h0M224.1 517h0M230.3 515.4h0M230.6 516.5h0M228.2 518.1h0M226 519.1h0M229.9 517.1h0M228.6 519.3h0M226.9 519.6h0M226.1 520.9h0M232.1 516.8h0M231.1 517.6h0M229.3 518.3h0M227.2 519.3h0M225.7 520.3h0M232 518.7h0M231.5 520.1h0M229.5 521.1h0M227.7 521.7h0M227 522.3h0M232.8 520.4h0M233.1 521.1h0M231.5 522.6h0M228.6 522.6h0M227.9 523.1h0M233.5 522.2h0M233.6 522.1h0M232.1 524.5h0M230.6 525h0M230.1 524.9h0M235.3 525.2h0M235.3 525.1h0M233.6 525.7h0M231.6 526.4h0M234.7 525.4h0M233.3 527.5h0M231.8 527.8h0M236.5 526h0M235 526.3h0M233.9 526.7h0M232.1 527.8h0M231.6 527.4h0M237.1 526.9h0M237.2 527.7h0M235.4 529.2h0M233.4 529.5h0M238.2 529.9h0M235.8 530.4h0M233.8 530.6h0M232.6 531.6h0M238.6 532h0M236.2 532.3h0M234.8 532.5h0M233.7 534.2h0M239.1 531.8h0M237.7 533.5h0M234.3 534.5h0M234 534.3h0M238.7 522.3h0M239.3 522.7h0M237.9 525.7h0M238.5 526.8h0M238.4 527.2h0M241.5 524.3h0M240.9 526.2h0M243 524.2h0M243.4 524.4h0M243.1 525.8h0M243.3 527.6h0M244.5 525h0M244.5 526.7h0M244.3 528.2h0M246.8 525.6h0M247.3 526.3h0M245.8 528.3h0M247.5 525.5h0M246.7 527h0M246.8 528.3h0M251.9 529.4h0M254.3 526.7h0M254.2 529h0M255 531.2h0M256.4 526.4h0M256.8 529.2h0M256.9 530.5h0M259.4 527.4h0M259 529.2h0M258.2 531.8h0M260.1 530h0M259.3 531.9h0M256.6 532.5h0M253.7 531.9h0M252.2 529.7h0M253.2 526.5h0M254.7 526.2h0M258.2 526.1h0M260.1 526.8h0M254.5 538.2h0M222.8 505.3h0M107.5 436.2h0M107.3 440.7h0M109.7 434.2h0M109.6 435.4h0M108.2 438.3h0M108.3 439.9h0M109 443h0M109.1 444.4h0M108.1 446.3h0M109.2 448.3h0M111.5 432.6h0M110.8 433.6h0M110.5 436.1h0M109.7 439h0M110.9 440.9h0M110.6 442.9h0M111.5 443.9h0M110.4 446.3h0M110.7 449.2h0M111.5 450.9h0M113.7 432.8h0M112.6 433.9h0M113.2 435.1h0M114.7 435.6h0M111.9 441.9h0M113.8 442.7h0M113.7 445.3h0M113 447.1h0M112.7 449.2h0M113.2 451.2h0M113.9 453.4h0M113.5 455.3h0M114.7 431.8h0M115.9 434.9h0M115.8 436.2h0M115.9 436.7h0M116.2 441.9h0M114.5 442.7h0M114.8 445.1h0M115 446.9h0M114.6 448.7h0M115.2 450.9h0M115.6 452.6h0M115.4 455.1h0M115.6 457.5h0M117.9 429.5h0M117.4 431.3h0M117 433.9h0M117.5 437h0M116.9 437.9h0M116.3 441.8h0M116.1 443.3h0M116.9 444.6h0M117.5 446.7h0M116.6 449.4h0M118 451.1h0M117.8 452.3h0M116.8 454.7h0M116.7 456.8h0M119.6 430.5h0M119.3 432.2h0M118.9 434.4h0M119.3 436h0M119.1 438.3h0M117.6 438.7h0M119 445.4h0M119.3 445.4h0M118.8 446.7h0M119.8 449.5h0M120 451.5h0M119.8 453.2h0M118.9 455.7h0M119.7 457h0M119.6 458.6h0M121.1 429.7h0M120.8 432.3h0M121.5 434.3h0M122 435.3h0M120.2 438.2h0M120.2 438.4h0M120.5 445.7h0M120.6 445.8h0M121.4 446.5h0M121 448.2h0M120.8 450.5h0M122.2 453h0M122.2 455.8h0M121.7 457.8h0M121.3 458.8h0M123.2 430.1h0M122.8 431.9h0M124.1 434.3h0M123.7 434.4h0M120.2 438.3h0M120.2 438.4h0M123 446.4h0M123.5 446.5h0M123.5 446.9h0M124.2 448.9h0M124.2 450.2h0M123.9 452.7h0M124.1 455.2h0M123.9 457.8h0M123.1 459.9h0M126.4 429.6h0M126.1 432h0M125.9 434.4h0M126.1 434.4h0M126.8 434.6h0M123.6 446.5h0M128 445.3h0M127 446.2h0M126 446.7h0M125.4 448.2h0M126.2 450.5h0M125.8 453.4h0M126.1 455.8h0M124.9 456.9h0M125.4 459.9h0M125 461.1h0M127.6 429.7h0M127 432.1h0M127.9 433.4h0M127.7 434.9h0M129.3 435.5h0M129.8 435.6h0M127.9 445.3h0M128.2 445.3h0M127.3 447.5h0M128.2 449.3h0M127.5 451.1h0M128 452.6h0M128.2 455.4h0M128.1 457.7h0M128.1 459.6h0M127.2 462h0M129.1 429.7h0M129.6 431.5h0M130.7 434h0M130.5 435.9h0M130.5 435.9h0M128.6 445.4h0M128 445.2h0M129.7 445.8h0M129.8 449h0M130.1 451.7h0M129.4 453.2h0M130.1 454.8h0M129.5 457h0M130.2 459.3h0M129.6 460.8h0M132.2 429.3h0M132.6 431.4h0M132.3 433.5h0M132.2 435.7h0M132.8 436.7h0M134.2 437.4h0M133.8 445.3h0M131.8 446h0M132 450.7h0M132.7 453h0M131.8 455.5h0M131.7 457.6h0M132.4 458.9h0M133.5 428.1h0M134.3 429.7h0M134.2 431.6h0M134.8 434h0M134.2 436.6h0M133.9 437.2h0M135.8 439.5h0M135.8 442.8h0M134.6 450.7h0M133.8 453.8h0M134.2 455.1h0M134.4 458h0M134.7 458.7h0M135.8 429.7h0M136.9 432.4h0M136.7 433.9h0M136.9 436.7h0M135.9 437.8h0M135.7 452.8h0M135.4 455.3h0M135.5 457.1h0M180 458.4h0M181.4 457.3h0M182 459.9h0M182 461.9h0M180.9 464.5h0M180.8 466.4h0M184 458.3h0M182.6 460h0M183.4 461.1h0M183.7 463.7h0M183.4 465.3h0M185 456.9h0M184.8 459.8h0M185.6 461.6h0M185.1 463.3h0M184.9 465.6h0M185.8 467.7h0M187.7 457.4h0M187.8 459.4h0M188.3 461.6h0M187.8 464.2h0M187 466.8h0M187.4 468.2h0M190.4 457.9h0M189.5 459.6h0M189.3 461.8h0M189.8 464.2h0M189 466.1h0M188.9 468.1h0M191.4 457h0M191 459.8h0M191.5 461.2h0M192.2 463.2h0M191.9 465.9h0M194.4 457.9h0M193.4 459.1h0M193.2 461.7h0M194.7 463.9h0M193.7 466.5h0M193.3 467.5h0M195.4 460.5h0M196.5 461.7h0M195.6 463.3h0M76.3 399.6h0M76.9 400.8h0M76.5 405.7h0M77.4 407.3h0M77.3 411.8h0M79.1 398.5h0M77.7 402.5h0M77.9 403.2h0M78.6 405.6h0M79 407.8h0M79.6 409.3h0M79.6 412.4h0M78.9 413.2h0M79.6 415.8h0M82.4 398.6h0M82 398.4h0M78.4 404.9h0M79 406.4h0M80.7 407.9h0M81.7 409.4h0M80.7 411.4h0M81.6 413.8h0M81.3 415.5h0M80.8 417.5h0M82.7 396.9h0M82.9 399.1h0M83.7 400.5h0M84.7 402.7h0M86.3 404.7h0M81.2 408.7h0M82.6 410.6h0M82.5 412.6h0M82.6 414.3h0M82.7 416.3h0M85.2 399.3h0M85.4 400.6h0M85.5 403.5h0M86.2 404.6h0M87 405.6h0M84.8 411.4h0M85.3 411.6h0M85.1 414.5h0M85.7 416.2h0M86.9 398.8h0M87.1 402.2h0M86.8 403.3h0M86.8 404.8h0M88.3 408.1h0M88 409h0M87.7 412.3h0M88 413.2h0M88.9 401.9h0M90.1 402.9h0M89.9 405.8h0M89.6 407h0M89.8 409.5h0M88.9 411.7h0M91.3 406.1h0M91.8 408.1h0M91.8 410.3h0M106.9 404.9h0M107 408.4h0M109.1 402.4h0M108.3 404.2h0M109.6 407.7h0M109.6 408.4h0M109.1 411.4h0M109.3 412.6h0M109.6 414.8h0M110.1 402.4h0M109.4 406.5h0M109.9 408h0M111.1 409.5h0M111.4 411.5h0M111 413.8h0M111.7 415.9h0M113 400h0M113.9 402.2h0M110.3 408.8h0M111.8 409.8h0M112 409.9h0M112.7 410.5h0M112.9 413.8h0M113.1 414.9h0M114.4 401.5h0M114.8 402.4h0M116.4 403.7h0M113.3 410.4h0M114.4 410.9h0M115.7 411.4h0M115.2 414h0M115.6 414.7h0M114.6 416.9h0M116.8 400h0M117.9 402.7h0M117.7 404.4h0M119.1 406.5h0M117.8 411.1h0M117.8 411.1h0M117.4 412.7h0M116.9 415.7h0M116.8 418h0M119.6 400.9h0M119.4 402.6h0M119.8 404.6h0M119.3 407h0M119.3 409.5h0M119.7 410.5h0M118.7 413.6h0M120.1 415.3h0M119 418h0M118.7 419.3h0M121.4 400.5h0M121.8 402.4h0M121 404.6h0M121.9 406.7h0M122.2 409.1h0M121 410.7h0M122 413h0M121.5 414.8h0M122.2 417h0M121 420.1h0M124 400.5h0M124.2 402.8h0M123.3 405.6h0M123.8 407.6h0M123.5 408.7h0M122.8 410.7h0M124.3 413.3h0M123.4 415.8h0M122.9 418h0M122.8 419.2h0M125.4 400.9h0M126.5 403h0M125.7 405h0M125.4 406.4h0M126.3 409.9h0M125.1 411.6h0M126.2 412.9h0M125.6 415.5h0M125.7 418.2h0M128 403.3h0M127.3 404.5h0M127.1 407.7h0M127.4 409h0M128.5 411.8h0M128.4 412.8h0M127.7 415.4h0M128.2 416.8h0M129.2 405.7h0M130.4 407.7h0M130.5 408.4h0M129.6 411.3h0M130.2 413.8h0M130 416.1h0M130.4 407h0M130.5 409h0M130.7 411.6h0M130.8 413h0M227.2 515.9h0M226.8 517.7h0M228.5 510.1h0M228.6 511.3h0M228.3 514.1h0M229.1 515.9h0M228.8 518.8h0M228.6 520.4h0M228.7 521.8h0M230 510h0M231.3 512h0M230.5 513.2h0M231 516.4h0M231.2 518.3h0M230 520.9h0M230.2 522.4h0M231.4 524.1h0M231 526.9h0M233.6 508.9h0M232.3 511.9h0M233.1 513.1h0M232.5 516.5h0M233.2 517.7h0M232.2 520.2h0M233 522.8h0M233.6 524.1h0M232.6 526.1h0M232.2 528.7h0M232.8 530.5h0M234.5 510.2h0M234.9 511.6h0M234.6 513.5h0M235.2 515.6h0M234.2 518.1h0M234.3 519.8h0M234.3 522.6h0M234.2 524.4h0M235.7 526.7h0M234.3 529.1h0M235 530.4h0M235.6 532h0M237.3 510.4h0M237.2 511h0M237.7 513.3h0M235.9 515.1h0M235.3 515.5h0M236.3 521.1h0M237 522.9h0M237.6 523.9h0M236.3 526h0M237.5 529.3h0M237.7 530.5h0M236.6 532.1h0M237.8 534.1h0M239 507.8h0M239.1 509.4h0M238.9 512h0M238.9 514.2h0M238.8 514.8h0M240.2 515.5h0M237.6 521.7h0M239.2 522.6h0M239.8 525.1h0M239.1 526.7h0M238.8 528.3h0M239.6 531.3h0M238.6 532.7h0M238.8 535.4h0M241 508h0M241.4 509.1h0M241.1 511.1h0M241.8 514.1h0M241.4 516.1h0M241.9 516.4h0M241.6 522.7h0M241.4 522.7h0M241 524.8h0M240.9 527.1h0M241.4 529.1h0M243.5 509.1h0M243.7 511.5h0M242.9 513.2h0M243 516.1h0M243.7 517.9h0M243.7 520.4h0M243.3 522.6h0M242.9 524.9h0M242.7 525.7h0M243.5 528.8h0M245 509.6h0M245.9 511.4h0M245.4 514.6h0M245.9 515.2h0M245.4 518h0M244.7 520.4h0M245.6 521.8h0M245.7 524h0M244.9 526.4h0M247.8 510.2h0M246.8 511.6h0M246.9 514.3h0M247.5 515.8h0M247.4 518.6h0M247 520h0M247 521.7h0M247.7 524.8h0M249.1 510.8h0M247.8 512.3h0M248.8 516.3h0M249.8 518.8h0M249.1 519.8h0M251.4 509.4h0M252.3 510.8h0M253.6 511.9h0M249.9 517.3h0M251.3 518.1h0M253.9 509.6h0M253.7 512h0M254.8 513.1h0M254.7 517.1h0M254 517.7h0M255.7 508h0M256.1 509.5h0M255.7 512.2h0M256.1 514h0M255.7 516.4h0M258 507.9h0M258 509.6h0M258 511.6h0M257.6 514.6h0M257.8 516.4h0M258.4 517.6h0M260.7 507.8h0M259.8 510.2h0M260.5 511.3h0M259.4 514.4h0M260.8 515.3h0M260.4 517.6h0M261.7 505.6h0M262.2 508.3h0M262.2 509.4h0M262.5 512h0M262.7 513.2h0M262.7 516.3h0M264.7 507.4h0M263.7 508.9h0M263.9 511.8h0M265.1 513.6h0M264.5 515.9h0M265.7 510.3h0M152.7 431.8h0M152.4 432.2h0M153.2 433.5h0M153.8 435.5h0M154.6 434.9h0M155 430.5h0M155.8 431.8h0M155.7 434.7h0M156.8 429.9h0M157.2 430.3h0M156.6 432.4h0M158.2 434.1h0M157.6 428.9h0M158.1 429.7h0M159.1 431.4h0M160.5 432.9h0M159.3 433.5h0M160.8 429.2h0M161.7 430.9h0M161.5 433h0M161.4 433.4h0M162.2 428.4h0M163.3 429.8h0M163.8 431.4h0M163.1 428.2h0M162.5 428.4h0M162.8 430.1h0M164.6 432.1h0M163.2 432.1h0M164.4 427.8h0M164.2 428.5h0M163.3 430.3h0M162.7 432h0M162.7 432.2h0M165.5 428.4h0M165.2 428.1h0M165.9 429.9h0M167.4 428.1h0M167.1 430.4h0M166.7 431.9h0M167.6 432.1h0M169.4 428.6h0M169.7 428.8h0M170 430.4h0M168.6 432.6h0M172.6 429h0M172.2 432.1h0M171.2 433h0M170.4 433.2h0M174.1 430.3h0M173.1 431.1h0M172.8 433h0M172.7 433h0M173.1 430.1h0M173 432.3h0M173.9 433.8h0M174.2 429.3h0M174.7 431.5h0M175.2 432.5h0M176.8 433.1h0M177.3 428.3h0M177.4 429.6h0M177.6 432.3h0M177.1 432.2h0M178.7 428.7h0M178.9 430.1h0M179.3 431.7h0M181 427.1h0M180.2 427.3h0M181.7 428.5h0M182.2 430.5h0M181.8 426.6h0M183 426.8h0M182.6 428.1h0M184 430.2h0M183.1 430.4h0M183.1 426.2h0M182 426.8h0M183.6 428.6h0M183.9 430.6h0M183.8 430.4h0M184.5 426.6h0M182.3 428.4h0M182.6 430h0M182.4 430.2h0M185.4 427.8h0M185.6 429.4h0M183.8 430.4h0M188.3 429.6h0M187.6 428.8h0M186 430.7h0M185.5 432.1h0M185.4 432.2h0M189 430.2h0M189.4 431.7h0M187.4 432.8h0M191.5 431.6h0M191 431.4h0M190.6 433.4h0M189.4 434.8h0M193.7 432.5h0M191.7 433.3h0M190.5 436.1h0M190.4 436.3h0M194.1 433.3h0M192.7 435.3h0M192.2 436.6h0M194.6 432.7h0M194.8 433.3h0M192.9 434.2h0M192.2 436.3h0M195.4 434.3h0M194.1 436.3h0M193.3 437.8h0M197.6 436h0M196.1 437.9h0M195.2 438.6h0M199.2 437.5h0M199 437.9h0M198 438.3h0M196 440.3h0M197 441.2h0M200.2 438.5h0M199.3 439.6h0M198.7 441.4h0M203 440.1h0M203.2 440.4h0M201.6 441.3h0M199.6 442.4h0M200.2 443.2h0M204.3 441.8h0M204.2 442.1h0M202.2 442.8h0M201.3 444.3h0M204.4 441.6h0M203.4 443.1h0M202.6 444.8h0M203.2 441.3h0M202.5 442.9h0M202.4 444.6h0M205 441.3h0M205.4 441.2h0M205.6 444h0M204.3 445.1h0M204.5 445.1h0M208.1 442.3h0M206.7 444h0M206.6 445.7h0M206.6 446.7h0M209.6 442.4h0M210 442.4h0M209 443.9h0M211.5 442.9h0M212.2 444.9h0M211.5 446.7h0M214.2 443.1h0M214.5 443.4h0M214.3 445.3h0M213.3 446.5h0M214.3 442.8h0M214.1 443.4h0M214.6 444.8h0M213.9 446.7h0M182.5 434.9h0M181.3 435.2h0M180 435.8h0M183.3 436.4h0M181.9 437.3h0M180.4 436.3h0M181.5 438.8h0M180.4 438.9h0M183.4 441.3h0M182.2 440.8h0M180.8 440.9h0M183.2 443.9h0M182.5 442.8h0M181.1 443.5h0M182.7 445.9h0M182.9 446.3h0M183.1 445.7h0M182.5 446.9h0M181 446h0M183.8 448.7h0M183.2 448.3h0M183.4 450.5h0M184.4 451.9h0M182.9 453.3h0M184.2 454.3h0M183.2 454.4h0M153.9 461.7h0M155 460.8h0M155.3 462.3h0M155.4 465.1h0M154.8 466.6h0M156.6 458.4h0M157.3 460.4h0M157.4 461.7h0M157.8 464.1h0M157.6 466h0M157.4 468.9h0M157.2 470.1h0M160.1 459.6h0M160 462.9h0M160.3 465.2h0M159.1 465.8h0M160.1 468.4h0M159.5 471.4h0M161.3 460.1h0M161.6 461.7h0M161 463.8h0M161.2 465.9h0M161.6 468.8h0M162.2 470.1h0M164.3 460.8h0M164.5 462.2h0M164 464.1h0M162.9 465.9h0M164.2 469.4h0M163.7 470h0M165 461h0M166.3 463h0M166.4 465h0M165.6 467.1h0M165.1 469.1h0M168.1 461.9h0M167.7 463.8h0M168.4 466.9h0M170.1 462.7h0M169.3 465.3h0M169.3 466h0M171.4 465.3h0M171.1 466.9h0M166.7 467.7h0M165.6 469.6h0M162.1 471.1h0M158.4 470.9h0M156.7 468.8h0M154.2 467.4h0M153.6 465.3h0M153.8 464.4h0M153.1 461.8h0M154.8 460.5h0M157.2 458.2h0M161.3 459.7h0M164.3 459.5h0M166.8 459.6h0M169.6 460.7h0M170.6 462.6h0"/>
<path stroke="#ff7f0e" d="M44.5 346.3h0M203.5 416.7h0M236 409.5h0M231.8 416.2h0M233.2 420.4h0M286.5 359.8h0M285.3 362.1h0M286.6 362h0M285.2 364.2h0M288.9 363.1h0M288.3 365h0M287.9 365.1h0M291 366.7h0M291.8 368.7h0M291.8 369.1h0M294.7 369h0M293.2 368.7h0M293.7 370.1h0M296 370.5h0M295 371.1h0M296.1 370.2h0M294.8 371h0M294.6 371h0M297.1 371.3h0M295.7 371.9h0M297.7 374.2h0M295.7 374.4h0M299.7 375h0M298.3 376.9h0M297.3 376.6h0M298.8 378h0M299.4 377.2h0M298.1 378.8h0M299.9 377.2h0M299.3 378.5h0M297.9 380h0M296.9 381.2h0M301.7 378.5h0M300.6 380.2h0M299.8 380.8h0M297.7 383.4h0M297.4 382.9h0M303 380.7h0M302.5 381.2h0M300.1 382.5h0M298.9 383.6h0M297.6 385.2h0M304.1 381.3h0M303.7 381.5h0M303.9 382.3h0M301.6 384h0M300.4 384.9h0M298.9 386.4h0M299.5 387.1h0M306.3 383.3h0M306.8 383h0M305.9 384.2h0M304.1 385.7h0M302.2 387.1h0M300.2 388.1h0M300.6 388.8h0M308.2 384.8h0M308.6 384.4h0M306.1 385h0M304.9 386.2h0M303.8 388.2h0M302.3 389.7h0M302.8 389.6h0M306.6 384.6h0M305.6 386.6h0M303.9 388.9h0M301.6 389.9h0M300.3 389.6h0M300.8 390.3h0M299.5 391.1h0M302.3 389.5h0M302.6 389.8h0M302.9 390.7h0M304.1 389.9h0M303.9 390h0M307.1 389.6h0M306.8 390h0M306.4 390.6h0M308.8 390h0M296.1 399.2h0M296.9 400.4h0M304.9 404.2h0M291.6 407.1h0M291.6 420h0M314.7 419.5h0M308.5 423.7h0M305.2 426.2h0M310.2 427h0M243.3 405.4h0M236.1 409.5h0M231.7 415.9h0M233.3 420h0M179.4 448.3h0M183.6 448.3h0M158.6 438.8h0M203.5 416.7h0M231.8 416.3h0M233.2 420h0M231.7 416h0M233.3 420h0M291.6 420.5h0M314.7 419.7h0M308.5 423.8h0M305.7 427.1h0M311 427.6h0M316 429.6h0M309.9 433h0M303.2 436.8h0M290.7 438.8h0M298.9 440.1h0M286.1 445.5h0M289.4 447.6h0M297.2 446.8h0M294.4 451.6h0M305.2 450.4h0M302.7 453.8h0M304.4 458.8h0M252.8 469.3h0M255.3 469.3h0M261.9 467.9h0M264.9 465.4h0M273.9 469.9h0M263.6 475.7h0M279.9 460.9h0M281.6 464.9h0M293.9 485.9h0M263.6 495h0M243.1 502.9h0M178.6 509.9h0M204.7 508.3h0M208.9 510.2h0M263.6 494.9h0M243.1 502.4h0M255.8 528.2h0"/>
</g>
<rect x="24.5" y="330.5" width="310.3" height="218.7" fill="none" stroke="#1a1a1a" stroke-width="0.7"/>
<path d="M25.8 549.2v2.6M66 549.2v2.6M106.2 549.2v2.6M146.4 549.2v2.6M186.6 549.2v2.6M226.8 549.2v2.6M267 549.2v2.6M307.2 549.2v2.6M24.5 343.3h-2.6M24.5 388.1h-2.6M24.5 432.9h-2.6M24.5 477.6h-2.6M24.5 522.4h-2.6" stroke="#1a1a1a" stroke-width="0.7" fill="none"/>
<g font-size="7.5">
<text transform="translate(25.8 560.8) scale(0.94 1)" text-anchor="middle">−100</text>
<text transform="translate(66 560.8) scale(0.94 1)" text-anchor="middle">−75</text>
<text transform="translate(106.2 560.8) scale(0.94 1)" text-anchor="middle">−50</text>
<text transform="translate(146.4 560.8) scale(0.94 1)" text-anchor="middle">−25</text>
<text transform="translate(186.6 560.8) scale(0.94 1)" text-anchor="middle">0</text>
<text transform="translate(226.8 560.8) scale(0.94 1)" text-anchor="middle">25</text>
<text transform="translate(267 560.8) scale(0.94 1)" text-anchor="middle">50</text>
<text transform="translate(307.2 560.8) scale(0.94 1)" text-anchor="middle">75</text>
<text transform="translate(18.6 346.4) scale(0.94 1)" text-anchor="end">40</text>
<text transform="translate(18.6 391.2) scale(0.94 1)" text-anchor="end">20</text>
<text transform="translate(18.6 435.9) scale(0.94 1)" text-anchor="end">0</text>
<text transform="translate(18.6 480.7) scale(0.94 1)" text-anchor="end">−20</text>
<text transform="translate(18.6 525.5) scale(0.94 1)" text-anchor="end">−40</text>
</g>
<g font-size="9.3"><text transform="translate(179.3 326.1) scale(0.97 1)" text-anchor="middle">t-SNE (16 sec)</text></g>
<rect x="298.3" y="333.7" width="32.4" height="25" rx="1.3" fill="#fff" fill-opacity="0.8" stroke="#cccccc" stroke-width="0.6"/>
<circle cx="309.4" cy="341" r="2.6" fill="#1f77b4" stroke="none"/><circle cx="309.4" cy="352.2" r="2.6" fill="#ff7f0e" stroke="none"/>
<g font-size="7.5" text-anchor="middle"><text x="324.6" y="343.1">0</text><text x="324.6" y="354.3">1</text></g>
</g>
<g id="panel-d" font-family='"DejaVu Sans", sans-serif'>
<clipPath id="clip-d"><rect x="371.7" y="330.5" width="309.1" height="218.9"/></clipPath>
<g clip-path="url(#clip-d)" fill="none" stroke-linecap="round" stroke-width="5.2">
<path stroke="#1f77b4" d="M448.1 375.2h0M449.1 374h0M452 371.8h0M452.6 373.8h0M452.5 375.5h0M454.5 370h0M453.9 371.8h0M453.8 374.1h0M453.7 375.2h0M455.4 367.9h0M455.9 369.7h0M456.3 371h0M456 373.7h0M456.1 375.6h0M457.9 367.4h0M458.4 369h0M457.6 373.2h0M457.4 375.6h0M457.4 378.6h0M460.2 377.5h0M462.2 373.9h0M462.3 376h0M462.7 377.6h0M461.9 379.5h0M465.1 374.4h0M464.6 376.6h0M464.6 378.8h0M464.6 379.5h0M467.3 373.4h0M467 376.6h0M465.9 377.7h0M466.8 380.3h0M466.7 381.6h0M468.2 375.6h0M469.4 377.8h0M468.7 379.8h0M469.1 382.9h0M470.1 375.5h0M471.1 378.2h0M471.6 380.9h0M470.9 381.6h0M472.6 378.7h0M473 379.8h0M473.6 383h0M473.3 383.6h0M475.4 376.6h0M475.6 377.3h0M475.5 380h0M474.4 382h0M474.9 383.7h0M476.8 378.2h0M477 380.4h0M476.5 382.3h0M477.6 383.6h0M476.5 386h0M477.7 389.2h0M477.1 390.7h0M478.8 380.7h0M479.5 382.8h0M479 383.6h0M479.5 385.8h0M479.7 388.4h0M479 390.7h0M480.8 384.1h0M480.8 386.7h0M481.4 362.1h0M479.6 362.8h0M478.3 361.9h0M478.7 364.1h0M478.1 364.6h0M480.1 366h0M480.2 367h0M479.1 366.9h0M476.9 365.7h0M477.2 365.5h0M478.8 369h0M480.3 370.2h0M479.9 371.1h0M478.9 369.8h0M476.7 370.9h0M476.6 369.7h0M479.3 373.3h0M478.8 372.1h0M476.9 371.6h0M479.6 373h0M478.1 373.2h0M477.1 372.8h0M449.1 386.4h0M449.7 387.8h0M451.2 388h0M451.6 390.2h0M451.2 391.9h0M453.2 389.1h0M454 390.5h0M453.8 393.4h0M453.6 393.9h0M453.3 396.3h0M455.2 392.6h0M455.5 395.5h0M455.2 396.1h0M455.6 398.5h0M457.5 394.3h0M444.8 403.4h0M442.8 406.4h0M442.7 404.8h0M441.9 405.6h0M442.2 406.8h0M441.6 406.5h0M441 406h0M440.4 409.6h0M439.9 408.8h0M439.6 409.3h0M439.8 410.1h0M439.2 409.7h0M439.3 409.2h0M440.3 411.6h0M440.3 411.9h0M441.7 413.9h0M440.3 413.2h0M442.9 415.7h0M441.6 415.5h0M442.9 416.2h0M442.7 415.4h0M441.9 417h0M441.7 415.5h0M441.9 416.6h0M442.7 414.6h0M443.6 415.6h0M445.4 413.2h0M445.9 413.8h0M446.3 413.5h0M447.2 413.2h0M447 413.3h0M449 410.6h0M449.1 411.3h0M448.5 411h0M449.3 410.5h0M449.4 410.3h0M447.6 408.8h0M447.7 408.5h0M449.3 408.9h0M447.5 407.2h0M447.8 407.1h0M448.7 406.4h0M446.4 405.9h0M447.3 404.6h0M447.3 404.6h0M456.6 406h0M458.1 403.5h0M458.8 406h0M458.2 407.4h0M460.4 404.1h0M459.9 406h0M460.7 408.9h0M462.6 401.8h0M462.7 403.6h0M462.4 406.5h0M461.6 409.2h0M461.6 410.1h0M462.8 413.3h0M462.9 414.9h0M464.3 400.1h0M464.8 402.1h0M464 404.4h0M464 405.6h0M464.6 407.9h0M464.4 409.9h0M464.3 413.1h0M464.9 415h0M464.2 416.4h0M466.1 398.7h0M466.8 399.7h0M465.7 402.8h0M467.1 404.2h0M466.2 407h0M467.2 408.1h0M466.4 411.1h0M466.4 412.4h0M467.9 396.4h0M468.2 398.4h0M468.1 400.3h0M468.8 401.4h0M469.1 404h0M467.9 406.9h0M470.6 397.7h0M470.6 399.6h0M488.5 383.7h0M490.5 382.5h0M490.2 383.7h0M490.4 385.6h0M492.2 379.9h0M492.3 382.6h0M491.2 385h0M491.8 386.4h0M494.6 348.8h0M493.3 380.3h0M494.4 381.9h0M493.3 384.6h0M494.2 386.8h0M496.8 342.3h0M496.6 344.5h0M495.7 345.7h0M496.7 377.1h0M495.8 380.1h0M496.8 381.6h0M496.2 383.6h0M495.9 386h0M495.7 388.5h0M499 342.2h0M499 343.9h0M498.2 346h0M498.3 349.2h0M497.5 378.7h0M498.1 380h0M498.7 381.8h0M498.3 384.6h0M498.9 386.3h0M501 344.5h0M500.7 346.7h0M500.9 347.9h0M500 375.6h0M500.7 378.2h0M501 380.3h0M500.3 382.8h0M499.7 383.9h0M499.6 386.2h0M500.9 387.8h0M502.4 346.9h0M501.8 349.2h0M503 350.2h0M502.6 352.9h0M501.8 354.1h0M502.2 357h0M503 375.8h0M501.8 377.3h0M503.1 380.4h0M503.2 381.8h0M502.4 386.9h0M503 388.4h0M501.9 389.8h0M504.5 346.7h0M504.7 348.3h0M503.9 351h0M504.5 352.7h0M504.6 355.1h0M504.9 356.1h0M504.5 359.4h0M504.3 360.6h0M505.1 374h0M504.6 375h0M504.2 378.1h0M504.4 379.6h0M505.3 381.5h0M503.9 386.3h0M507 346.5h0M507 348.8h0M506.5 351.1h0M507.3 352.7h0M506.3 354.5h0M506.8 356.4h0M506.3 359.2h0M505.8 361.3h0M505.3 361.6h0M504.3 366.2h0M504.5 367.3h0M506.5 372.3h0M506.6 373.3h0M507.2 376.4h0M506.3 377.1h0M505.9 379.4h0M506.9 382.2h0M509.2 349h0M508.2 350.5h0M508.1 353.1h0M508.2 354.8h0M508.4 356.7h0M508.5 358.6h0M508.8 360.4h0M509.9 363.3h0M510.3 364.9h0M510.6 366.3h0M509.8 369.9h0M508.1 371.5h0M509.1 373.2h0M508.4 375.5h0M509.1 377.5h0M508.7 379.7h0M511.5 348.7h0M511.3 350.1h0M510.4 352.5h0M510.9 355.5h0M511.1 356.2h0M510.9 358.4h0M511.5 361h0M510.9 363.3h0M510.4 365.6h0M511 367.4h0M510.8 369.5h0M510.3 371.5h0M511 373.2h0M510.9 376.4h0M510.9 377.2h0M510.1 379.5h0M513 349.2h0M513.7 352.7h0M513.3 354.1h0M513 357.1h0M513.2 362.6h0M512.8 365.8h0M512.5 366.7h0M512.9 368.9h0M512.2 371.1h0M512.4 373.4h0M479 362.2h0M478.9 363.2h0M478.7 364.3h0M480.4 360.9h0M480.9 362.8h0M481.2 363.8h0M482.7 361.3h0M483.4 363.4h0M485.1 361.3h0M485 362.3h0M485.3 359h0M484.5 359.2h0M485.2 361.3h0M486.5 362.1h0M486.4 362.2h0M487.1 359.7h0M487.5 360.4h0M485.8 362h0M484.2 362h0M487.9 361.4h0M486.7 362.2h0M485.8 363.8h0M488.7 364.3h0M487.4 365.8h0M491 365.3h0M490.3 366h0M488.1 367.2h0M490.6 364.6h0M490.8 365.2h0M489.6 366.3h0M488.6 367.2h0M487.9 367.2h0M491 366h0M489.8 366.2h0M489 367.2h0M491.6 367.5h0M489.7 368h0M488.9 369.6h0M493.1 370h0M492.9 369.1h0M490.7 369.8h0M489.6 371.3h0M491.4 372.5h0M491 372.1h0M493.7 372.1h0M492.2 372.8h0M490.9 372.6h0M480.8 362.4h0M478.7 362.6h0M477.9 362h0M480.5 364.3h0M480.5 364.8h0M478.1 364.4h0M477.2 364.4h0M480.1 366h0M478.5 365.7h0M476.6 366h0M478.6 368.5h0M479.1 370.9h0M477.9 370h0M475.6 369.4h0M478.7 373.4h0M477.1 372.8h0M475.2 372.6h0M475.6 372h0M479.3 373.5h0M478 373.1h0M475.6 372h0M475.5 372.8h0M479 372.1h0M476.8 373.7h0M475.6 372.8h0M479.8 374.4h0M479.3 374.8h0M477.7 374.7h0M475.5 374.7h0M475.5 375h0M478.1 376.9h0M476 377.6h0M476.1 377.2h0M479.3 379.5h0M478.4 379.3h0M475.8 379.8h0M479.8 380.7h0M480.2 381.1h0M477.7 380.7h0M476.4 381.4h0M479.6 383.2h0M478.1 382.7h0M476.8 382.6h0M479.6 382.5h0M478.5 383.2h0M476.8 382.8h0M480.1 384.7h0M477.2 385.2h0M476 384.3h0M476.1 384.8h0M479.4 386.9h0M478 386.6h0M476.2 386.6h0M479.1 388.8h0M477 389.6h0M475.9 389.3h0M476.7 391.7h0M475.7 390.6h0M469.4 374h0M467.5 374.9h0M470.7 376.4h0M468.7 377.2h0M471.2 377.3h0M470.4 379.4h0M473.9 379.8h0M472.5 379.3h0M474.7 381.2h0M474 381.6h0M472.5 382.8h0M474.7 382.9h0M469.2 395.9h0M470.2 397.8h0M469.8 398.1h0M468.8 398.4h0M470.5 403.2h0M471.5 404.7h0M470 404h0M469.8 404.5h0M471.5 406.2h0M471 407.2h0M469.4 406.5h0M470.9 407.4h0M469.9 408.1h0M505.6 398.6h0M505.7 397.8h0M504.3 398.8h0M502 396.9h0M505.3 400.1h0M505.1 400.4h0M503 399.6h0M501.1 398.9h0M504.2 403.2h0M502.5 402.3h0M501 400.4h0M503.2 405.1h0M503.4 403.8h0M502.3 403.6h0M499.9 403h0M503 406.5h0M503.4 406.6h0M500.8 405.9h0M499.3 404.3h0M498.9 404.6h0M503.6 406.8h0M503.1 407.6h0M500.7 406.2h0M499 405.1h0M502.5 406.3h0M502.1 405.9h0M500 405.8h0M499 406.7h0M502.6 409.2h0M501.9 409.1h0M500.3 408h0M498.5 408.6h0M498.1 408h0M502 411.3h0M499.7 410.4h0M497.6 410.6h0M497.9 409.6h0M502 412.2h0M499.7 412.8h0M497.9 411.8h0M498 412h0M502.1 415h0M501.5 414.6h0M500.1 414.7h0M497.6 414.8h0M501.1 416.9h0M501.5 415.9h0M499.3 416.7h0M497.8 416.8h0M501.2 416.2h0M500.4 416.6h0M497.7 415.6h0M497.6 415.6h0M501.5 418.1h0M500.3 417.9h0M497.2 419.1h0M497.5 418.1h0M502.1 420.5h0M502.3 420.5h0M500.6 420.1h0M498.1 420.8h0M497.7 419.8h0M502.9 423h0M499.8 422.4h0M498.4 422h0M497.9 423.1h0M502.5 425h0M500.6 423.9h0M499.3 424.9h0M502.5 426.2h0M502.7 426.7h0M501 425.5h0M498.4 424.9h0M497.8 424.9h0M503.3 427.5h0M502.8 426.7h0M501.6 425.8h0M509.4 396.9h0M509.7 398.1h0M507.8 398.4h0M510.6 398.4h0M510.6 399h0M509.5 399.3h0M512.7 400.8h0M512.3 401.6h0M511.4 402.1h0M514 402.8h0M512.4 402.7h0M514.1 403.2h0M513.7 404h0M649.7 433.6h0M638.9 432.9h0M652.2 434.9h0M627.2 437.6h0M627.9 434.4h0M628 436.1h0M628.6 437.7h0M628.1 440h0M630.1 434h0M630.8 435.7h0M631.4 438.2h0M630.4 439.9h0M630.9 442.5h0M632.9 436h0M632.8 437.9h0M632.3 439.6h0M634.1 435.9h0M634.4 438.5h0M633.5 440.9h0M629.6 442.4h0M628.5 441.5h0M627 439h0M627 436.3h0M628.5 433.7h0M631.7 433.9h0M634.1 435.1h0M580.6 428.2h0M580.7 429.9h0M582.9 421.5h0M581.8 424.4h0M582.9 426.2h0M583.1 428.3h0M584.1 419.3h0M585.2 422h0M584.7 424.3h0M585 425.4h0M583.9 428.3h0M587.1 418.4h0M586.7 419.3h0M586.8 421.9h0M587.2 424.6h0M586.1 426.4h0M587.1 428.2h0M589.4 410.8h0M589.2 415.8h0M588.1 418.1h0M589 419.4h0M588.7 421.3h0M588.4 424.2h0M589.3 426.3h0M590.8 407.2h0M591.5 408.9h0M590.4 411.5h0M591.5 413.6h0M590.1 416.1h0M591.4 418.1h0M590.4 419.4h0M591.5 422.4h0M590.8 423.8h0M590.5 425.9h0M590.5 428.7h0M593.5 407.8h0M593.6 409.6h0M593.6 410.9h0M593 413.7h0M592.3 415.7h0M592.7 418.3h0M592.1 419h0M592.8 422.2h0M593.3 424.1h0M592.5 426.3h0M592.5 428.7h0M592.2 430.2h0M594.9 409.2h0M595.2 410.7h0M595 413.7h0M595.7 415.2h0M593.6 416.1h0M592.9 420.3h0M593 421.5h0M593.4 424.8h0M593.9 426.7h0M595.7 428.1h0M595.1 430.7h0M597.8 410.6h0M597.1 413.6h0M596.5 415.3h0M598.7 417.2h0M599 419.6h0M599.2 421.8h0M599.5 424.2h0M596.6 428h0M596.9 428.6h0M596.4 429.8h0M597.1 432.6h0M596.6 434.6h0M599.3 414h0M599 415.7h0M599.1 418.1h0M599.7 419.5h0M599.4 422h0M599.4 423.7h0M599.5 425.5h0M599.4 428h0M599.5 429.8h0M598.6 431.9h0M598.5 434.8h0M601.3 415.3h0M602 416.8h0M601.2 419.4h0M601 422.4h0M600.6 423.8h0M600.7 426.1h0M602 427.5h0M600.7 430.3h0M601 432.4h0M601.5 435.1h0M603.2 415h0M604 417.8h0M603 419.8h0M602.8 422.3h0M603.9 423.6h0M603.2 425.6h0M602.9 428.7h0M603.4 430h0M604.7 417.2h0M606 419h0M604.8 422h0M606 423.6h0M605.8 425.2h0M605 427.4h0M607.1 415.3h0M606.3 417h0M606.2 420.4h0M606.4 422.1h0M606.5 423.4h0M606.8 425.9h0M607.6 427.8h0M608.1 430h0M609.5 415.2h0M611.3 416.2h0M612.4 420h0M606.5 422.6h0M612.7 423.4h0M610 428h0M609.1 427.9h0M612.2 417.9h0M612.4 420.3h0M612.5 421.5h0M612.7 423.8h0M612.3 426.7h0M611.9 428.7h0M611.3 430.4h0M613.8 417.9h0M613.6 419.6h0M613.6 421.6h0M613.6 423.8h0M613.9 426h0M613.3 427.5h0M613.4 429.8h0M614 431.8h0M615.2 417.8h0M615.3 419.7h0M616.7 421.3h0M616.3 423.8h0M615.2 426.6h0M616.1 428.3h0M616.5 429.9h0M615.2 431.8h0M618.7 417.5h0M617.3 420.4h0M617.4 421.7h0M618 424.7h0M617.7 426.5h0M618.1 427.8h0M617.7 429.4h0M618.4 431.9h0M620.9 418.2h0M620.9 419.8h0M620.1 421.6h0M620.5 424.3h0M619.4 426.6h0M620 427.4h0M620.6 430.4h0M619.8 432h0M622.7 417.4h0M621.8 418.9h0M622.7 422.3h0M621.6 423.2h0M622.1 426h0M622 427.5h0M622 431h0M625 419.7h0M624 421.6h0M623.7 423.8h0M624.5 426.5h0M624.8 427.7h0M623.8 430.5h0M625.8 424.3h0M626.2 426.1h0M573.4 416.9h0M573.2 415.9h0M573.2 419.4h0M572.8 418.1h0M574.6 421.7h0M574.3 420.7h0M572.6 420.4h0M574 422.4h0M572.6 422.5h0M574.7 424.5h0M573.1 424.9h0M572.6 425.6h0M573.2 426.3h0M571.6 427.8h0M573.9 428.3h0M572.9 428.5h0M572.8 428.4h0M572.1 427.8h0M573.9 429.9h0M572 430.6h0M572.9 432.6h0M573.1 435.4h0M572.3 434.4h0M570.7 433.7h0M572.8 436.9h0M570.9 437.1h0M571.5 438.1h0M572.1 440.9h0M570.4 440.4h0M570.2 441.3h0M572 441.8h0M570.5 442h0M593.8 448.2h0M592.1 449.4h0M589.9 449.6h0M593.8 451.7h0M591.5 451.5h0M590.1 451.1h0M592.3 453.9h0M592.9 456h0M592.2 454.7h0M592.2 457.5h0M593.3 458.6h0M592.7 457.8h0M592 457.3h0M591 460.2h0M589.6 460h0M592.6 462.6h0M592.7 462.6h0M590.2 461.8h0M590.3 463.9h0M588 463.7h0M589 466.3h0M587.8 466h0M590.2 466.2h0M589 466.4h0M586.9 466.3h0M590.4 467.4h0M588.3 466.9h0M588.9 468.6h0M587.3 468.5h0M586.8 467.4h0M587.8 470.4h0M586.1 469.7h0M586 472.6h0M586 471.4h0M585.1 474.1h0M583.9 473.7h0M583.4 472.9h0M582.9 473.1h0M582.9 473h0M583.8 476.4h0M582.4 475.5h0M582.1 474h0M582.7 476.6h0M581 476.2h0M581 478.7h0M579.6 477.8h0M580.6 481.4h0M579.4 480.7h0M580.6 481.7h0M579.3 481.4h0M578.2 480.6h0M579.6 482.2h0M579.3 481.1h0M577.4 480.9h0M578.3 483.7h0M576.9 483.1h0M577.6 485h0M576.7 485.6h0M576 484h0M574.2 483.3h0M575 482.6h0M575.2 485.3h0M574.4 483.9h0M568.9 473.2h0M568.2 473.7h0M570.9 474.6h0M569.9 475.6h0M569.2 475.3h0M571.2 476.3h0M570.2 477.5h0M569.9 476.7h0M571.9 479.6h0M570.6 479.3h0M571.4 481.1h0M573.1 481.2h0M572.2 481.3h0M571.9 481.9h0M493.4 450.6h0M493.5 452.1h0M493.3 454.9h0M493.4 458.6h0M495.6 447.6h0M494.9 450.3h0M495.5 452.6h0M495.7 455.1h0M495.3 457h0M494.5 458.4h0M497.9 448.2h0M497.3 449.7h0M497.7 451.9h0M497.6 454.9h0M498.1 456.5h0M497.4 458.9h0M496.9 460.7h0M497.9 463.8h0M499.8 402.1h0M499.3 403.8h0M499.2 406.4h0M499.9 408.5h0M499.5 409.8h0M499.3 411.9h0M498.9 414.8h0M500.2 418.7h0M499.9 421.3h0M499.8 422.4h0M500 445.8h0M499.7 447.8h0M498.2 450.8h0M498.8 452.9h0M499.5 454.3h0M499 457.5h0M500.2 458.7h0M499.2 460.9h0M499.6 463.4h0M500 465.5h0M502 399.3h0M502.1 401.5h0M501.7 404.2h0M502 406.9h0M501.5 408.3h0M501.5 410.2h0M501.1 412.2h0M502.1 415.1h0M501.6 417.3h0M501.7 419h0M501.8 421.6h0M500.9 445.9h0M501.6 447.8h0M502.1 447.9h0M502.2 454.3h0M501.9 454.6h0M501.9 457.2h0M502 458.1h0M501.4 460.7h0M501.3 463h0M501.8 465.5h0M501.8 467.5h0M501.2 469h0M501.2 470.9h0M502.3 473.9h0M503.2 397.3h0M503.4 400.6h0M503.7 401.4h0M503.4 403.6h0M503.3 406.9h0M503.4 408.7h0M504.2 410.5h0M504.2 413.2h0M504 415.2h0M504.2 417.5h0M503.6 419.6h0M503.6 421.2h0M503 423.4h0M505.6 444.1h0M503.1 445.2h0M504.4 446.3h0M503.6 447.9h0M503.8 447.9h0M503.3 454.4h0M503.3 454.8h0M504.4 456h0M503.6 459h0M504.2 461.4h0M502.9 462.8h0M503.2 464.4h0M504.4 467.8h0M504 469.5h0M503.1 471.4h0M504.2 473.9h0M503.9 475.1h0M505.7 400.7h0M506.3 402.5h0M506.2 403.1h0M503.7 407.2h0M503.9 409h0M504.1 410.4h0M505.3 413.4h0M506.1 414.3h0M505.7 416.7h0M506.2 418.2h0M505 421.5h0M505.1 423.8h0M506.1 434h0M506.9 435.9h0M507.1 442.4h0M505 444.8h0M505.5 446.4h0M505.7 448h0M505.2 448h0M505.8 454.5h0M505.4 455.1h0M505.7 457.4h0M506.3 459.6h0M506.1 460.3h0M505.8 463.2h0M506.2 465.4h0M505.1 466.6h0M506.6 468.8h0M505.3 470.8h0M505.5 472.7h0M505 475.3h0M506.3 478.4h0M507.6 399.9h0M508.5 402h0M508.4 403.7h0M509.7 405.7h0M509.9 407.4h0M507.8 412.6h0M508.4 413.4h0M508.5 415.4h0M507.7 416.7h0M507.8 418.4h0M508.3 421.6h0M507.5 423.8h0M507.3 424.9h0M507.6 429.1h0M507.6 431.1h0M507.7 433.3h0M507.3 436h0M507.6 437.8h0M508.6 440.5h0M508.3 441.4h0M507.2 443.5h0M507.2 446.4h0M507.8 448h0M507.4 448h0M508.4 454.5h0M507.5 454.5h0M507.3 456.6h0M507.7 458.9h0M507.3 461h0M507.8 462.5h0M507.7 465.2h0M508.7 466.9h0M508.4 469.3h0M508.6 471h0M508.1 472.8h0M507.6 476.3h0M507.9 478.5h0M508.7 480.5h0M509.9 404.4h0M510 405.8h0M510.1 408.6h0M510.4 410h0M509.2 412.3h0M510.2 414h0M507.8 417h0M508.4 420h0M509 421.7h0M509.6 423.3h0M510.2 424.9h0M510.3 427.9h0M510.5 429.7h0M508.7 431.6h0M508.5 433h0M509.3 435.6h0M509.7 437.7h0M509.3 440.5h0M509.2 442.2h0M510.1 443.7h0M509.3 446.1h0M509.8 447.7h0M510.1 448.1h0M510.6 454.6h0M509.6 454.6h0M509.3 456h0M509.4 459.5h0M510.3 461.6h0M509.2 463h0M510 464.4h0M510.4 467h0M510.8 470.1h0M510.4 471.7h0M510.6 473.1h0M510.1 475.5h0M509.4 477.9h0M509.4 479.9h0M509.4 481.3h0M511.4 404.5h0M512.6 406.8h0M511.5 407.9h0M511.3 411.1h0M512.3 413h0M512.8 414h0M511.2 413.8h0M515.5 417.1h0M509.3 422.6h0M509.9 424.2h0M510.6 426.1h0M510.9 427h0M511.4 429.5h0M513.7 430.1h0M513.7 430.1h0M511 436.7h0M511.4 438.5h0M512.4 440.2h0M511.3 441.8h0M511.4 443.7h0M512.4 446.5h0M511.3 448h0M512.5 448.3h0M513.5 453.9h0M511.9 454.6h0M511.5 456.2h0M512.7 458.2h0M510.3 461.7h0M511.8 464.3h0M511.6 465.5h0M511.3 466.6h0M511.7 469h0M512.6 472.2h0M511.4 473.4h0M512.7 474.9h0M512.4 478.4h0M512.3 479.2h0M511.8 482.5h0M514.3 402.7h0M514.9 404.3h0M514.2 405.6h0M514.8 412.7h0M514.9 414h0M515.3 416.5h0M515.8 417.9h0M516.5 419.8h0M517.1 421.6h0M510.9 426.9h0M512.5 429h0M513.8 429.5h0M513.7 430.2h0M513.6 430.6h0M514.1 437.9h0M514.1 437.9h0M514.3 439.8h0M514.4 441.8h0M514 444h0M513.6 446.3h0M514.7 448.4h0M514.6 451h0M514.6 452.2h0M513.6 454.5h0M514.3 457.2h0M514.2 458.2h0M514.2 458.3h0M513.7 465.5h0M513.5 465.5h0M513.7 467.4h0M514.7 469.4h0M514 471.1h0M514.9 473.6h0M514.1 475.4h0M514 478.1h0M514 479.6h0M514.2 482.2h0M515.5 404.7h0M516.6 414.3h0M515.9 416.4h0M516.8 418.5h0M517.1 421.5h0M517.6 423.1h0M517.8 423.6h0M513.9 429.5h0M513.7 429.9h0M513.6 430.6h0M513.6 430.9h0M514.1 437.8h0M514.1 437.9h0M514.3 440.4h0M514.5 442.7h0M514.5 443.5h0M514.7 445.8h0M514.9 449.1h0M515 449.9h0M515.6 453.1h0M516.3 454.1h0M516.3 457.2h0M516.6 458.6h0M517.1 458.7h0M515.8 465.9h0M515.7 465.8h0M516.5 467.5h0M516.7 469.2h0M516.1 471.4h0M516.7 474.2h0M516.6 476.4h0M517 478.5h0M516.7 479.7h0M516.1 481.7h0M518.3 413.4h0M517.7 414.6h0M519.2 416.1h0M517.9 418.5h0M519.2 421.1h0M518.4 423.8h0M520 425h0M520.3 425.4h0M521.3 430.6h0M521.3 431.5h0M521.5 433.6h0M521.6 435.4h0M521.8 437.5h0M521.8 437.5h0M514.5 442.7h0M514.6 444.4h0M514.7 445.9h0M514.9 449h0M515.1 450.9h0M517.2 454.6h0M517.8 455h0M518.6 456.8h0M517.8 458.9h0M518.4 458.9h0M518 466.2h0M518 466.2h0M518.8 467h0M518.9 469.6h0M517.7 471h0M517.8 473.4h0M518.4 475.8h0M518.7 477.6h0M517.9 479.6h0M516.6 481h0M520.2 413.9h0M521.2 416.7h0M519.9 419h0M519.9 421h0M520.4 422.5h0M520.2 425.3h0M521.3 427.1h0M521.4 429.8h0M521.4 431.9h0M521.5 433.2h0M521.7 436.2h0M521.8 437.8h0M521.9 439h0M522.2 442.2h0M522.3 443.9h0M522.4 446h0M522.6 448.8h0M522.6 449.9h0M520.3 454.7h0M520.9 454.9h0M521.3 456.6h0M520.1 458.8h0M520.2 459.2h0M519.8 466.5h0M519.7 466.5h0M521.2 467h0M521.3 469.6h0M520.4 471h0M520 472.8h0M520.3 475.1h0M520.5 477.5h0M519.9 479.1h0M519.5 479.5h0M522.5 413.3h0M522 414.1h0M523.3 416.5h0M522.8 419.3h0M523.3 421.3h0M522.1 423.6h0M522 425.1h0M523.3 427h0M522.2 429.6h0M522.5 431.4h0M522.8 434.2h0M522.8 435.5h0M523.1 437.6h0M522.8 439.5h0M523.3 441.8h0M522.3 443.6h0M522.4 446.1h0M522.6 448.6h0M522.7 450.7h0M523.4 452.8h0M521.8 454.3h0M522.4 456.3h0M521.9 458.9h0M523.3 461.2h0M523.4 463.9h0M522.4 465.7h0M522.7 466.7h0M522.2 468.9h0M522.7 470.7h0M522.3 473.8h0M522.9 474.9h0M522.4 477.5h0M522.7 479.1h0M523.5 480.5h0M524.9 415h0M524.5 416.1h0M524.1 418.3h0M524.6 421.8h0M524.5 423.9h0M525.3 425.7h0M524.2 427.8h0M523.9 434.1h0M524.5 435.9h0M524 437.6h0M524 439.3h0M524.4 442.7h0M524 443.5h0M524.7 445.7h0M524.6 447.6h0M525.2 450.7h0M524.5 453.1h0M524.2 454.7h0M524.5 456.2h0M524.7 458.6h0M525.3 461.7h0M525.2 463.1h0M525.3 465.3h0M524.6 467h0M524.9 469.4h0M524.3 470.8h0M524.8 473h0M524.3 475.2h0M524.6 477.7h0M524.3 479.4h0M524.6 481.6h0M527.2 414h0M526.7 417.4h0M526.4 419h0M526.4 421.4h0M526.3 423.5h0M526.6 425.9h0M526.5 437.2h0M526.1 439.6h0M526.5 443.4h0M527.3 446.9h0M526.8 448.5h0M527.3 449.9h0M526.6 452.2h0M526.5 467.1h0M526.3 473.2h0M528.8 417.2h0M528.2 418.8h0M529.1 421h0M528.6 422.3h0M550 407.1h0M554.1 420.8h0M553.7 422.7h0M553.9 424.9h0M555.5 418.9h0M556 419.9h0M555.5 423.2h0M554.9 424.1h0M555 426.7h0M555.9 428.5h0M557 417.9h0M558.1 419.8h0M557 422.6h0M558.2 424.2h0M557.1 427.1h0M557.6 428.1h0M559.5 418.5h0M559.8 420.1h0M559.9 422.2h0M560.1 424.4h0M560.2 427.4h0M560.4 428.5h0M561.6 420.3h0M562.5 423.2h0M562 424.2h0M561.6 427.2h0M562 428.5h0M563.8 420.2h0M564.7 421.8h0M564.2 424.3h0M563.8 426.6h0M563.8 428.2h0M564.2 430.5h0M566.2 422.6h0M565.9 424.3h0M565.4 426.2h0M566.8 428.6h0M566.6 431.5h0M567.5 423.9h0M568.4 427.1h0M567.9 428.6h0M568.8 431.6h0M568.8 432.4h0M568.8 435.5h0M568.8 439.4h0M568.7 440.9h0M570.8 424.8h0M570.3 427.4h0M569.6 428.6h0M570.6 430.2h0M570.4 432.5h0M570.1 434.9h0M570.4 437.5h0M570.8 440.1h0M570.6 442.1h0M570.5 443h0M570.1 444.9h0M572.4 418.5h0M572.3 419.9h0M573.1 422.6h0M573 424.8h0M571.6 426.6h0M572 429h0M572.8 431.3h0M573.2 433.7h0M572.8 435.4h0M571.8 436.9h0M572.8 440h0M572.8 441.7h0M574.1 418.7h0M574.6 419.6h0M575.1 422.2h0M574.7 424.2h0M574.4 426.9h0M574.9 428.2h0M574.2 430.7h0M564.7 476.6h0M564.9 482.9h0M566 472.5h0M566.3 473.8h0M567 476.9h0M566.4 478.7h0M566.7 481.5h0M568.3 472.3h0M568.8 474.1h0M568.3 476.7h0M568.1 479.2h0M568.4 480.3h0M567.8 482.6h0M570 473.9h0M570.4 476.7h0M570.3 479.1h0M570.7 480.8h0M571 483h0M572.6 476.9h0M572.5 478.2h0M572.5 480.4h0M572.4 482.1h0M574.7 480.7h0M574.6 482.2h0M577.6 479.3h0M576.4 480.2h0M577 483.2h0M578.6 478.9h0M578.9 480.2h0M578.5 482.4h0M477.7 384.9h0M475.8 385.2h0M474.2 385.5h0M474.2 385.1h0M476.6 386.8h0M477 389.3h0M475.2 389.3h0M478.8 391h0M478.8 391.1h0M477.1 391.8h0M479 392h0M478 392.1h0M469.4 395.3h0M468.7 394.6h0M469.7 396.8h0M469.7 397h0M468.9 397.5h0M469.2 399.9h0M470.5 401.8h0M469.2 400.8h0M470.9 402.7h0M470.9 403.8h0M469.5 404.1h0M470.7 404.9h0M470.3 406h0M471.4 406.5h0M470.7 405.9h0M489.9 385.6h0M488 387.1h0M491.9 385h0M490.2 386.9h0M491 387.8h0M492.4 387.3h0M496 386.8h0M494.5 387.4h0M494.4 388.7h0M495.4 387.8h0M495.4 389.6h0M495 389.5h0M496.1 387.9h0M495.3 389.9h0M498.6 387.3h0M498 389.3h0M497.3 390.2h0M500.8 388h0M499.7 387.7h0M499.3 389h0M498.6 391h0M498.7 391.1h0M502.3 389h0M501.6 391.3h0M501.6 391.7h0M504.8 388.2h0M503.9 389.9h0M503.8 391.7h0M504.1 388.7h0M504.3 388.8h0M503.8 389.9h0M503.6 391.7h0M445.1 419.8h0M444.2 422.7h0M444.9 424.1h0M445.4 426.7h0M446.9 418.6h0M446.8 420.4h0M447 421.4h0M446.5 423.4h0M447.4 426.4h0M448.2 424.7h0M449.8 426.2h0M449.6 429h0M449.7 430.7h0M449 432.1h0M451.2 428.8h0M450.6 430.2h0M451.3 432.4h0M450.8 434.3h0M451.4 437.2h0M452.4 428.6h0M452.5 430.9h0M453.9 431.9h0M452.5 435.2h0M453.2 436.7h0M455 431.2h0M455.6 433.2h0M455.7 435.3h0M455.2 437.5h0M455.5 438.5h0M455.8 441.3h0M455.4 442.8h0M457.1 436.1h0M457.5 438.9h0M458 440.8h0M457.9 442.9h0M457.6 446h0M458.8 441.5h0M459.2 443.1h0M459.7 445.4h0M440.6 442.6h0M439.4 442.2h0M440.6 444.9h0M439.2 444.8h0M438.2 444.2h0M439.5 446.9h0M437.5 447.2h0M437.9 449.9h0M437 449h0M436.6 447.4h0M436.8 450.8h0M436 452.7h0M435.4 452.3h0M443.8 446.1h0M441.9 446h0M440.9 446.8h0M443.4 447.8h0M446.2 448.8h0M445.5 450h0M446.7 451.1h0M449.6 452.1h0M448.1 453.1h0M446.8 453.2h0M446.6 453.8h0M449.1 453.3h0M446.9 454.5h0M449.9 452.6h0M449.6 453.3h0M447.4 453.6h0M451.8 454.5h0M449.4 455.6h0M451.8 456.9h0M450.1 456.5h0M451.4 459.7h0M453.2 459.8h0M451.7 460.8h0M453.2 461.8h0M451.9 461.8h0M451 462.5h0M443.7 455h0M442 454.3h0M443.3 457.5h0M442.6 457.8h0M442.2 458.3h0M443.4 459.5h0M442.9 458.8h0M440.9 459.3h0M439.9 459.5h0M439.7 459.5h0M441.9 460.8h0M440.8 461.5h0M439.2 460.3h0M438.8 463.2h0M440.2 464.3h0M439.8 464.5h0M437.6 463.9h0M439.4 464.7h0M439.5 464.7h0M437.5 464.1h0M440.4 464h0M438.7 464.6h0M436.7 465.4h0M436.9 464.9h0M439.2 464.9h0M439.2 464.9h0M438.2 467.5h0M437.4 466.6h0M436.9 466.9h0M438.6 469.8h0M438.1 469.5h0M442.6 471.5h0M441.7 471.7h0M440.2 471.4h0M438.3 471.1h0M441.8 472.4h0M442.3 473.2h0M440.2 474h0M438.1 473.2h0M438.2 473.5h0M442.6 474.8h0M440.8 475.5h0M439.4 475.5h0M440.9 474.4h0M439.1 475.7h0M443.1 475.8h0M441.1 476.4h0M444.3 476.9h0M444.2 477h0M443.4 478.4h0M442.5 479.5h0M442.2 479h0M445.4 479.2h0M444.9 479.9h0M443.5 481.2h0M447.1 481h0M445.3 481h0M444 482h0M444 482.8h0M449.3 457.3h0M449.2 457.7h0M449.6 458.1h0M451.1 459.5h0M450.7 460h0M450.5 459.3h0M451.5 461.4h0M449.8 462.7h0M454.3 463.2h0M452.1 463.2h0M450.9 465.3h0M451.1 465.1h0M454.1 464.2h0M453.6 464.7h0M451.9 466.3h0M454.1 466.4h0M454.9 467.5h0M454.2 466.4h0M452.7 467h0M454.6 468.3h0M453.3 468.3h0M452.7 467.7h0M453.1 471.3h0M451.5 470.2h0M454.1 473.4h0M452.7 472.4h0M452.8 475.3h0M451.2 474.5h0M453.4 474.6h0M452.5 474.3h0M451.3 474.6h0M385.8 452.5h0M388.1 451.1h0M388.6 454.5h0M388.8 457.1h0M388.8 459.1h0M390.2 455.9h0M389.5 459.3h0M390.4 460.9h0M392.1 459h0M391.8 461.4h0M391.8 463.7h0M392.9 464.7h0M394.1 463.7h0M394.8 465.6h0M395.2 467h0M395.1 469.8h0M395.1 471.7h0M396.5 464.6h0M396 467.8h0M396.3 469.3h0M397.3 471.2h0M397.1 472.9h0M397.3 475.4h0M397.1 477.4h0M398.4 467.7h0M399.1 469.4h0M398.5 471h0M398.2 474h0M399.3 476h0M397.9 476.9h0M400.4 469h0M400.1 471.8h0M400.4 474.2h0M400.3 475.9h0M400.9 477.3h0M400.3 480.1h0M403 472.9h0M402.4 475.7h0M402.7 477.1h0M402.2 480.5h0M403 482.1h0M405.5 472.8h0M404.7 474.8h0M405.7 477.2h0M404.6 480.3h0M405.2 481.2h0M404.4 483.6h0M406.4 472.7h0M406.8 476.3h0M407.3 478.1h0M406.5 479.2h0M407.6 481h0M409.8 477.7h0M409.9 479.6h0M409.1 482.2h0M410.5 477.1h0M410.9 479.8h0M412.8 478.2h0M388.2 454.3h0M388.7 456.9h0M390.3 455.8h0M389.8 458.2h0M389.8 459.9h0M391 462.2h0M391.7 460.9h0M392.4 462.7h0M392.3 464.6h0M392.8 466.2h0M394.6 464.2h0M395.1 466.6h0M394.6 468.6h0M395.2 470.4h0M397.1 466.3h0M396 469.2h0M395.9 471.3h0M398 468.2h0M398.7 471.2h0M398.6 472.4h0M398.7 475.4h0M401.2 470.6h0M400 473.2h0M400.9 475.7h0M400.6 476.5h0M400 479.6h0M402.8 473.2h0M403.5 475.7h0M403.4 477.6h0M403.4 479.1h0M403 481.4h0M402.5 484.2h0M405.3 473.3h0M404.6 475.6h0M404.5 476.6h0M404.6 478.7h0M404.2 481.1h0M405.8 483.9h0M404.2 485.4h0M407.1 475.7h0M407.3 476.5h0M407.5 478.9h0M406.4 480.8h0M407.2 483.6h0M407.8 486.3h0M407.2 487h0M408.5 475.7h0M408.8 476.8h0M409.5 479.4h0M409.2 480.8h0M409 484h0M408.4 485.3h0M408.5 488.2h0M409.7 489.8h0M410.7 479.2h0M410.5 487.6h0M411.6 489.1h0M411 492.4h0M412 494h0M413.3 486.9h0M414.1 489.8h0M412.9 492.1h0M414 494.8h0M415.4 487.4h0M414.8 489.5h0M415.4 491.9h0M415.9 493.5h0M415.2 495.5h0M416.9 486h0M417.9 488.4h0M418.3 489.1h0M417.3 492.6h0M417.9 493.6h0M418.1 495.4h0M419.3 486h0M420.3 487.7h0M419.3 489.1h0M419.9 491.4h0M419.7 493.8h0M420.1 496.4h0M419.3 497.4h0M422.5 485.8h0M422.1 487h0M421.6 489.1h0M422.2 492.4h0M421.1 494.7h0M421.7 495.6h0M421.7 498.3h0M423.6 485.6h0M423.6 487.3h0M424.1 489.6h0M424.4 491.9h0M423.8 494.7h0M423.2 496.4h0M423.7 498.4h0M426 485.7h0M426.6 487.4h0M426.3 489.9h0M425.7 492.4h0M426.5 494h0M426.5 496.7h0M427.3 486.1h0M428 487.2h0M427.9 489.8h0M427.7 492.3h0M427.9 493.6h0M427.5 496.6h0M427.7 497.8h0M430.9 485.2h0M430 487.9h0M430.9 490.3h0M429.4 492.1h0M429.7 493.2h0M432.5 485.7h0M432.1 487.3h0M432.1 489.7h0M431.8 492.3h0M434.9 483.9h0M434.7 485.5h0M435 488.1h0M434.9 489h0M437.3 483.9h0M437.1 485.7h0M436.8 488.1h0M438 481.8h0M438 483.7h0M437.8 486h0M438.8 487h0M438.7 489.8h0M438.6 491.5h0M441.3 479.7h0M440.4 482.1h0M440.1 482.8h0M441.5 485.2h0M440.1 487h0M441.2 489.1h0M440.5 491.7h0M442.8 479.9h0M443.2 480.9h0M443.4 483.2h0M443.1 484.8h0M442.2 488h0M443.1 490.3h0M442.6 492.6h0M444.4 479.6h0M444.7 480.8h0M445.3 483.2h0M445.1 485h0M445 487.3h0M444.1 490h0M447.6 485h0M447.6 487.9h0M443.8 456.3h0M443 454.9h0M441.8 454.1h0M442.7 458.3h0M441.9 458.6h0M441.9 454.1h0M441.9 454.2h0M443.1 460.1h0M442.6 459.9h0M441.1 459.3h0M438.8 459.4h0M438.4 459.2h0M442.6 461.9h0M442.5 462.4h0M440.8 461h0M438.4 461.2h0M439.7 463.5h0M437.2 462.6h0M437.5 461.9h0M439.4 464.7h0M439.7 464.6h0M439 465.1h0M437 463.9h0M438.2 465.8h0M437.4 465.3h0M439.9 464.5h0M438.5 465.8h0M437 465.3h0M438.3 469.1h0M438.3 466.5h0M438.7 469.9h0M438.9 470.2h0M442.6 471.5h0M440.6 471.6h0M438.7 471.6h0M443.5 473.4h0M441.6 473.5h0M439.8 473.9h0M443.8 473.7h0M441.2 473.2h0M439.9 474.7h0M439.8 473.6h0M443.1 472.7h0M442.9 472.9h0M441.3 473.3h0M440.4 475h0M439.6 474.6h0M443.9 474.4h0M444.6 475h0M442.7 474.8h0M441 476.8h0M445 476.1h0M444.5 477.2h0M442.4 477.9h0M444.4 479.3h0M443 479.3h0M449.2 457.7h0M451.2 459.9h0M450.7 460.9h0M450.6 461.4h0M450.7 462.2h0M450.2 462.3h0M451.6 464.2h0M452.8 466h0M453.1 466.5h0M454.5 467.3h0M452.5 467h0M455.1 468.8h0M454.5 469.3h0M455.5 471.2h0M454.6 470.5h0M453.4 470.9h0M454.7 470.7h0M453.2 471h0M491.3 453.8h0M491.4 456.7h0M493.9 454.8h0M493.6 456.7h0M495.3 453.9h0M494.8 455.6h0M495.6 458.4h0M494.9 460.1h0M496.9 456.4h0M498.1 458.5h0M497.4 460h0M497.9 462.4h0M498 465.2h0M499.9 454.3h0M499.8 455.8h0M499.1 458.1h0M499 460.5h0M498.8 462.5h0M499.3 464.1h0M499.8 466.4h0M502.1 454.5h0M501.7 455.5h0M501.4 458.2h0M501.9 460.3h0M501.2 463.3h0M501.4 463.9h0M501.8 467.3h0M501.5 468.5h0M503.3 454.4h0M504.1 455.7h0M503.6 457.7h0M504.3 459.9h0M503.7 462.3h0M504.4 463.9h0M503.9 466.5h0M503.3 469.1h0M504.3 471h0M504.2 473.2h0M505.2 454.4h0M505.8 455.7h0M505.7 457.7h0M505.5 460.5h0M505.2 462.9h0M505.3 464.4h0M505.9 466.5h0M506.5 468.4h0M506 470.4h0M505.3 473.3h0M506.5 474.8h0M508.4 454.6h0M507.6 456.3h0M507.7 457.7h0M507.6 461.1h0M508 463h0M507.6 465.3h0M507.3 467.2h0M508.5 469.3h0M507.6 471.4h0M507.6 472.6h0M509.8 455.5h0M509.8 457.5h0M509.7 459.6h0M509.6 463h0M510.7 465.1h0M509.3 466.3h0M510.2 469.1h0M509.2 471.1h0M510.5 473.2h0M512.8 454.3h0M512.4 455.8h0M511.5 458.6h0M510.5 460.3h0M511.1 463.8h0M511.4 465.2h0M511.3 467.3h0M511.3 468h0M512.7 470.5h0M511.6 474.4h0M514.6 455.7h0M514.2 458.3h0M514.7 458.4h0M514.5 465.6h0M514.1 465.6h0M513.8 467.4h0M513.8 469.6h0M514.4 471.5h0M514.2 472.7h0M514.8 475.8h0M516.5 454.5h0M515.6 457h0M516.9 457.6h0M516.5 458.6h0M516 465.9h0M516.5 466h0M516.5 467h0M515.7 468h0M516.1 471.1h0M515.8 473.6h0M517 474.9h0M516.6 476.8h0M518.2 454.9h0M518.8 455.8h0M518.4 458h0M518.5 458.9h0M519.2 459h0M517.8 466.2h0M518.4 466.6h0M519.1 469.5h0M517.7 471h0M517.7 473.4h0M518.9 475.6h0M518.5 477.4h0M520.9 454.4h0M520.1 456.7h0M520 457.9h0M521.5 459.5h0M520.3 459.2h0M522.4 465.7h0M520.3 467.3h0M519.7 468.3h0M521.1 470.2h0M520.2 472.4h0M520.6 475.6h0M519.9 477h0M520.7 479.2h0M522.6 456.5h0M523.2 457.9h0M523.3 459.6h0M523.6 462.7h0M523.1 464.9h0M522.1 466.3h0M522.2 468.5h0M523.2 471h0M521.9 473.2h0M522.5 474.5h0M522.2 477.1h0M522.9 479h0M523.2 480.3h0M525.2 454.3h0M525 455.8h0M525 458.8h0M524.3 461h0M524.9 462.6h0M524.5 464.2h0M524 467.2h0M524.1 468.6h0M524.1 471.1h0M525.2 472.8h0M524.1 476.6h0M526.5 453.9h0M526.5 456.6h0M526.1 458.8h0M527 459.8h0M526.4 462.6h0M527 463.8h0M526 466.1h0M526.4 469.2h0M526.7 472.8h0M499.1 494.8h0M499.6 497.7h0M502.7 492.8h0M501.2 495h0M501.3 497.9h0M502.2 500.1h0M502.7 501.9h0M502.6 505.5h0M503.7 493.5h0M504.6 495.8h0M503.6 497.1h0M503.6 500.2h0M504.2 501.3h0M504.4 503.3h0M504.6 506.3h0M504.8 507.7h0M505.8 490.8h0M506.7 493.5h0M506.4 495.1h0M506.5 497.6h0M505.9 500.1h0M506.3 501.3h0M506.9 504.2h0M506.5 506.3h0M506.3 508.8h0M506.7 509.9h0M508.2 489.7h0M508.4 491.1h0M509 492.8h0M508.9 496.2h0M507.4 497.5h0M507.8 500h0M507.8 501.9h0M508.4 504.3h0M508 505.6h0M507.9 507.4h0M507.5 509.4h0M511 482.1h0M510.8 485.3h0M510.7 486.8h0M510.6 489.3h0M510.8 491.8h0M510.6 492.7h0M510.2 496.1h0M509.7 497.2h0M508.7 498.7h0M507.8 501.3h0M510 505h0M511 505.3h0M510.8 508h0M509.8 510.7h0M509.8 512.6h0M511.8 485.4h0M512.6 487.8h0M512 488.5h0M511.1 490.5h0M511.8 493.2h0M512.8 496h0M511.7 497h0M512.3 497.2h0M512.7 497.1h0M509 504.3h0M512 506.3h0M513 508.6h0M511.8 509.9h0M514.8 485.7h0M513.8 486.4h0M514 487.5h0M515.6 487.8h0M513.6 494.4h0M514.1 495.9h0M513.9 497h0M513.8 497h0M513.8 497h0M515 496.9h0M514.6 506.9h0M513.9 508.4h0M515 510.1h0M515.9 487.8h0M516.1 488.2h0M516.5 489.3h0M514.4 495.2h0M515.8 496h0M517.3 496.7h0M515.7 496.8h0M516.4 496.8h0M515.6 507h0M517.2 507.2h0M516.3 508.5h0M516 509.4h0M517.1 490.9h0M519 495h0M518.6 495.4h0M519 496.5h0M519.1 496.5h0M518.4 507.3h0M518.3 507.3h0M518.2 507.3h0M519.2 495.4h0M520.3 496.4h0M522.4 496.8h0M523.5 497.6h0M524.2 502.5h0M524.3 502.6h0M520.2 507.6h0M523.2 497.3h0M523.1 497.2h0M524.6 499.3h0M524.6 501.6h0M525.1 504.3h0M523.2 507.5h0M522.6 508h0M525.8 499.6h0M525.3 502.2h0M525.8 504.2h0M525 505.4h0M525.2 507.9h0M527.9 501.4h0M527.3 503.3h0M527.2 506.1h0M527 508.5h0M529.4 504.2h0M528.9 505.3h0M531.1 486.5h0M531.5 486.7h0M530.1 487.3h0M529.2 489h0M532 487.8h0M531.5 489.1h0M530.5 490.4h0M534.1 488.7h0M532.9 490.1h0M532.3 491.5h0M535.9 491h0M535.7 491.6h0M533.9 492.5h0M536.7 491.3h0M535.8 491.9h0M534.7 493.2h0M535.8 490h0M535.8 492.3h0M534.5 493.8h0M538.1 491.2h0M537.3 493.3h0M537.4 494.3h0M539.4 492.9h0M539.6 494.5h0M538.8 494.7h0M542.2 494.2h0M540.7 494.5h0M541.9 495.8h0M542.8 493.3h0M543.7 493.7h0M541.9 495.2h0M544.6 494.8h0M543.2 496.8h0M545.4 498.4h0M547.7 497.9h0M546.9 499.3h0M546.2 499.6h0M548.7 499.8h0M548.1 501.5h0M535.9 523.6h0M535.8 526h0M537.2 507.2h0M537.5 508.6h0M538 511h0M537.7 513.5h0M537.7 517.4h0M536.7 519.4h0M537.2 522.3h0M537.6 523.8h0M537.3 526h0M536.7 528.7h0M538.8 505.7h0M539.6 506.5h0M539.1 509h0M538.6 511.4h0M539.7 514.2h0M540.1 516.2h0M540 517h0M540.1 519.4h0M540 522.3h0M539.3 523.1h0M538.8 525.9h0M539.4 527.7h0M538.6 529.8h0M541.7 502.7h0M541.5 505.5h0M541.1 507.7h0M541.4 509.7h0M540.7 510.8h0M541.9 513.2h0M541.6 514.8h0M541.2 518h0M542.2 520.1h0M542.3 521.2h0M540.8 523.8h0M541.9 526h0M542.1 528.5h0M541.9 530.2h0M542.1 531.7h0M543.8 503.3h0M543.4 505.7h0M543.5 507.4h0M543.9 508.7h0M542.8 511.9h0M543.9 513.5h0M543.1 515.7h0M542.9 517h0M544 519.4h0M543.7 521.7h0M543.6 523.3h0M542.9 526.1h0M543.8 528.3h0M543.7 529.6h0M543.4 532.8h0M544.4 534.5h0M543.5 536.5h0M543.6 538.1h0M546.1 502.3h0M546.2 505h0M545.7 507h0M545.3 508.5h0M545.8 510.6h0M545.3 513.4h0M546.1 516h0M545.5 517.8h0M546.1 519.4h0M546.1 521.9h0M545.1 524.3h0M546.2 526.6h0M546 527.6h0M546.3 530.8h0M545.5 533h0M545.2 536.3h0M547.5 503.7h0M548.3 505.7h0M547.9 507.1h0M547.3 508.8h0M548.3 510.6h0M547.6 512.9h0M547.6 515.5h0M548 516.8h0M548 520.4h0M548.5 521.7h0M547.3 523.1h0M547.5 525.4h0M548.2 528.1h0M549.6 503.3h0M549.9 504.9h0M550.1 506.9h0M550 509.8h0M549.9 511.9h0M550.1 514h0M550.1 516.2h0M550.1 517.3h0M550.6 519h0M549.5 522.1h0M550 523.2h0M549.3 525.3h0M551.8 503.5h0M552.2 505.4h0M551.4 506.8h0M552.4 508.5h0M551.7 510.8h0M551.6 512.8h0M551.5 515.6h0M551.5 517.1h0M551.4 519.7h0M551.9 522.4h0M552.3 524.5h0M553.7 503.3h0M553.5 505.6h0M554.7 506.3h0M553.4 509h0M554.3 511.6h0M554 514h0M553.3 515.5h0M554.3 517.9h0M553.6 520.1h0M552.9 523h0M553.2 523.9h0M556.6 499.1h0M556.8 500.6h0M555.6 503.7h0M556.1 505.4h0M556.5 505.7h0M554.7 510.2h0M556.3 511.5h0M555.6 513.5h0M555.6 515.1h0M555.6 517.1h0M556.7 519.3h0M554.8 519.4h0M553.5 524.5h0M556.1 527.9h0M555.4 527.8h0M556.3 529.7h0M558.5 496.4h0M558.4 498.3h0M559 500.4h0M559 503.6h0M558.6 505.2h0M559.1 506.3h0M560.4 508.9h0M558.9 511.7h0M557.8 513.7h0M558 515.9h0M558.2 517.3h0M557.7 519.8h0M559.2 522.5h0M559.6 523.4h0M559.7 526.2h0M558.7 528h0M558.9 530.6h0M559 531.8h0M558.1 534.1h0M560.3 493.9h0M560.4 496.9h0M560.2 498.8h0M560.9 501h0M560.7 502.9h0M560.8 504.3h0M560.1 507.6h0M560.2 509.6h0M559.9 511.3h0M561.2 513.9h0M560.8 518.2h0M560.5 519.9h0M560.5 522.3h0M559.9 524.4h0M559.6 526.2h0M559.7 527.5h0M560 529.4h0M559.7 531.8h0M561.7 496.4h0M561.9 498.5h0M562.1 503h0M563 519.1h0M562.7 522h0M562.9 524.5h0M562.3 526.6h0M561.9 528.2h0M562 530.5h0M562.9 531.5h0M562 534.5h0M564.4 523.4h0M564.7 527.5h0M567.7 472.1h0M565.7 472.1h0M565.3 471.8h0M569.3 473.7h0M568.5 474.5h0M566.2 473.9h0M565.3 473.9h0M569 476.1h0M568.2 476.5h0M567.3 475.5h0M564.9 476h0M568.1 477.8h0M567.8 478.7h0M566.3 477.5h0M564 478.5h0M563.7 478.2h0M567.9 480.6h0M567.8 479.9h0M566.4 479.9h0M564.3 479.4h0M564.9 482.6h0M564 482h0M563.2 482.2h0M565.6 482.8h0M564.1 480.7h0M563.3 481.6h0M567.1 484.5h0M566.4 485.2h0M565.3 483.4h0M562.3 483.7h0M562 483.6h0M566.7 486h0M565.5 487.2h0M564.2 485.3h0M562.4 485.8h0M565.5 489.4h0M565.4 488.8h0M564 488.2h0M561.3 487.1h0M560.9 486.8h0M564.8 490.3h0M562.2 490h0M561.1 489.6h0M563.8 492h0M562.4 492.1h0M560.2 490.7h0M563.8 491.9h0M563.8 492.1h0M562.3 491.6h0M560.9 491h0M560.2 491.3h0M564.1 492.5h0M562.3 491.3h0M561 491h0M560.9 490.4h0M562.8 494.2h0M562.9 494.1h0M561.6 493.7h0M559.9 492.2h0M559 492.7h0M561.6 497.3h0M561.2 496.2h0M559.8 495.9h0M558.1 494.5h0M558.5 493.9h0M560.2 497.6h0M557.8 497.5h0M556.6 496.4h0M557 495.8h0M558.8 499.9h0M557.7 498.1h0M555.6 497.8h0M555.6 497.1h0M568 482.5h0M568.7 484.3h0M570.5 481.9h0M571.1 483h0M570.8 483.9h0M573.7 482.3h0M574 483.4h0M574.3 480h0M574.7 481.4h0M575.3 482.2h0M576.8 480.5h0M576 479.4h0M577.2 479.5h0M577.4 479.9h0M578.3 481h0M578.9 479.9h0M580.6 478.4h0M581.9 476h0M582.9 477.5h0M582.8 479h0M582.5 477.5h0M583.4 478.4h0M575.5 492.8h0M592.5 452.5h0M593.5 454.6h0M591.9 454.9h0M590.9 453.3h0M592.8 456.2h0M592.3 456.3h0M590.2 456.8h0M592 458.8h0M590 457.5h0M593.8 460.5h0M593.6 460.5h0M591.8 460.5h0M589.6 460.5h0M589.5 460.1h0M593.2 461.7h0M591.9 461.4h0M590.2 462.6h0M593.3 463.3h0M593.5 462.9h0M591.9 461.4h0M589.9 462h0M591.1 463.7h0M589 464h0M590 465.3h0M588.9 466.3h0M590.6 467.7h0M589.2 468.3h0M588.5 468.1h0M590 471.1h0M588.8 470.2h0M590.6 472.3h0M588 471.8h0M589.6 473.9h0M588.1 473.3h0M587.1 473h0M589.3 474.7h0M588.4 474.4h0M587.5 472.3h0M587.7 476.6h0M587.8 475h0M586.5 474.2h0M586.4 477.4h0M586.2 479.1h0M585.2 479.7h0M584 477.7h0M585.3 481.6h0M584.3 481.4h0M582.8 479.5h0M584 484.3h0M582.7 482h0M581.4 481.8h0M583.9 483.9h0M582.1 483.2h0M581.6 482.3h0M582.1 483.6h0M581 486.8h0M580.4 484.6h0M580.4 483h0M578.7 487.3h0M578.2 485.3h0M578.2 484.4h0M577.2 487.6h0M576.1 486.7h0M576.3 488.6h0M575.8 486.3h0M569.6 474.5h0M570 475.5h0M572 477.7h0M571.6 479.3h0M573.6 481.3h0M572.9 481.1h0M572.4 481.3h0M573 482.5h0M571.8 481.8h0M572.9 481.3h0M574.2 484.1h0M573.9 484.6h0M573.3 485.4h0M575 487.6h0M574.3 488.6h0M573.3 488.4h0M575.5 489.7h0M574 489.8h0M573.2 489.9h0M574.9 492.2h0M574 494.3h0M434.3 456.5h0M436.7 449.1h0M437 451h0M436.6 453.3h0M436.5 455.5h0M436.5 457.3h0M437.1 458.5h0M435.7 461.3h0M437 463.3h0M436.4 467.1h0M437.7 448h0M438.2 450.5h0M438 452.6h0M438.4 453.2h0M437.2 458.2h0M437.8 459.1h0M438.9 462h0M438.5 463.1h0M438.2 465h0M438.2 468.6h0M437.8 469.1h0M438 472.3h0M439 474.7h0M439 476.1h0M440.7 446h0M441.1 448.9h0M439.9 450.1h0M440.5 452.9h0M441 453.5h0M442.6 457.6h0M439.9 459.9h0M440.2 461h0M440.1 463.5h0M440.6 464.2h0M438.6 469.7h0M439.6 471h0M441.1 472.1h0M440.6 473.8h0M441.2 476.7h0M439.8 478.3h0M439.9 480.6h0M440.2 481.9h0M442.2 445h0M441.9 446.6h0M443.5 448.3h0M442.1 450.4h0M442.3 452.2h0M442.3 454.6h0M442.5 457.8h0M443.4 458.6h0M442.6 461.6h0M442.3 464h0M443.2 464.9h0M444.4 469.7h0M444.2 470.2h0M442.6 471.5h0M443.2 473.5h0M442.8 476.3h0M443.1 477.9h0M442.8 479.5h0M442.6 482.4h0M443.1 484h0M444.5 443.1h0M444.2 444.8h0M444.3 446.3h0M444.4 448.3h0M444.3 450.2h0M444.7 453.7h0M445.1 454.5h0M444.2 456.8h0M444.4 459.3h0M445 462.2h0M445 463.2h0M444.8 465h0M445 467.7h0M444.2 470.5h0M445.5 471.9h0M444.6 473.6h0M445.2 476h0M444.7 477.6h0M444.8 479.5h0M445.5 481.6h0M445.3 485.1h0M444.8 486.1h0M447.3 446.8h0M446.4 448.1h0M447.3 450.8h0M447.4 452.6h0M446.1 454.6h0M447.3 457.1h0M446.9 457.2h0M444.8 462h0M447.7 463.6h0M447.4 465.3h0M446.1 467.3h0M446.2 470.4h0M446.5 471.2h0M446.9 473.7h0M446.5 475.4h0M446.4 478.2h0M447.2 480h0M446.8 482.8h0M446.5 485.1h0M449.2 449.4h0M448.6 451.1h0M449.2 452.6h0M448.9 454.6h0M448.5 457.3h0M450.4 459.2h0M450.2 462.3h0M448.8 463.8h0M449.4 465.1h0M449 467.1h0M448.8 469.4h0M448.5 471.1h0M449.1 474.1h0M449.4 475.4h0M448.4 477.8h0M449 480.4h0M451.3 450.5h0M451.7 452.8h0M451 454.6h0M451.6 458h0M450.7 459.2h0M450.7 460.9h0M451.5 463.6h0M451.6 466.3h0M451 467.9h0M450.4 469.8h0M451.7 472.4h0M450.6 473.3h0M450.6 475.5h0M450.7 479h0M452.7 452.8h0M453 454.3h0M454 457.6h0M452.8 459h0M453.9 460.7h0M452.9 463.4h0M453.9 465.1h0M453.7 467.5h0M453.7 469.6h0M452.9 472.6h0M454.6 459.7h0M454.9 460.8h0M454.9 464.2h0M448.6 403.5h0M446.6 404.2h0M444.8 403.6h0M443.5 403.8h0M441.6 405.2h0M439 405.7h0M438.1 405.6h0M448.2 405.9h0M447.3 404.9h0M446.4 406.3h0M444 406.5h0M442.3 407.5h0M440 407.5h0M438.5 408.2h0M447.4 406.8h0M445.9 408.6h0M443.7 409.3h0M441.7 408.7h0M439.6 409.2h0M448.7 409.4h0M448.5 409.7h0M446 409.6h0M444.1 410.4h0M442.1 410.4h0M441.3 411.6h0M448.8 412.2h0M447.4 411.6h0M445.8 412.2h0M443 413.1h0M441.2 412.9h0M449.6 413.3h0M449.6 413.1h0M447.4 414.4h0M445 414.3h0M443.8 415.7h0M442 415.8h0M441.6 416.2h0M450.8 416.1h0M447.7 416.5h0M445.8 416.3h0M444.6 416.5h0M443.3 417.3h0M442.7 417.5h0M450.8 416.3h0M450.8 416.3h0M448.6 416.8h0M447.2 418.1h0M444.3 417.5h0M443.2 419h0M450.5 415.3h0M450.8 415.8h0M448.5 417.1h0M446.5 417.4h0M444.3 419.3h0M443.9 419.3h0M451.3 417.9h0M451.1 417.7h0M449.8 418.5h0M447.4 418.7h0M444.6 420.1h0M444.2 421.1h0M452.4 419.8h0M451.3 419.5h0M450.1 420.6h0M448.4 420.9h0M445.9 422.5h0M444.2 422.5h0M444.3 423.9h0M452.5 422.1h0M452.3 422.3h0M451 422h0M449.3 422.7h0M447 423.5h0M445.1 424.7h0M444.9 425.7h0M452.9 423h0M452.8 424.7h0M450.2 424.7h0M448.4 425.7h0M446.2 427.3h0M445.4 426.5h0M455.1 425.8h0M454.5 424.8h0M452.3 426.5h0M450.9 427.8h0M449.1 428h0M446.4 428.7h0M446.4 429.2h0M455.5 427.3h0M455.8 427.5h0M453.3 428.4h0M451.2 428.4h0M449.6 430.6h0M448.3 430.7h0M446.8 430.7h0M456.8 429.8h0M454.8 429.6h0M452 430.6h0M450.9 431.6h0M448.7 432.2h0M448.8 432.3h0M458.3 429.7h0M457 429.9h0M455.6 431.5h0M453.1 431.7h0M450.7 432.7h0M450 433.8h0M457.2 430.1h0M456.8 430.7h0M455.8 431.3h0M454 432.6h0M450.9 433.8h0M449.3 434.3h0M449.3 434.3h0M457.6 432.1h0M458 433.2h0M456.4 434h0M453.9 434h0M452.3 434.2h0M450.7 435.9h0M450.2 434.8h0M458.6 434.3h0M458.2 434.3h0M456.5 435.4h0M454 436.5h0M452.6 437.6h0M450.4 437.1h0M459 437.4h0M457.4 437.5h0M454.7 438h0M453.9 439.3h0M451.7 439.8h0M460 438.9h0M458.1 439.2h0M456.4 440.7h0M454.4 441.1h0M451.4 441.1h0M451.1 441.3h0M460.7 440h0M460.6 441.1h0M458.8 442h0M456.6 442.3h0M454.5 442.1h0M453.4 444h0M461.3 442.2h0M462 443.1h0M459.6 443.4h0M457.8 443.8h0M455.9 445.4h0M453.8 445.9h0M461.5 444.6h0M459.8 444.8h0M457.2 444.8h0M455.6 445.4h0M453.7 446.3h0"/>
<path stroke="#ff7f0e" d="M666.3 412.3h0M666.5 413.4h0M666.1 413.7h0M665.1 415.8h0M664.8 415.1h0M665.2 417.5h0M665.2 417.5h0M664.8 417.4h0M664 418.7h0M663.6 418.6h0M664.2 418.9h0M664.3 419.8h0M663.1 419.1h0M663 422.8h0M662.9 424h0M661.9 424.1h0M660.9 423.6h0M662.1 425.9h0M661.1 425.8h0M662 426.6h0M661.7 427.1h0M660.5 425.4h0M662.6 426.8h0M661.9 426.4h0M660.4 429.2h0M659.7 428.4h0M659 429.9h0M658.4 428.8h0M656.5 430.9h0M656.1 433.4h0M655.8 433.1h0M655.4 431.7h0M656.7 433h0M655.8 433.6h0M655.2 431.7h0M655.2 432.8h0M654.1 434.9h0M654.1 433.9h0M652 435.4h0M651.1 435.2h0M650.4 437.4h0M650.5 436h0M650 435.2h0M648.5 437.2h0M647.8 436.3h0M648.8 437.7h0M648.8 436.9h0M646.7 439.2h0M646.7 438.2h0M646.6 436.8h0M644.4 438.3h0M643.1 440h0M643 438.9h0M642.4 438h0M641 440.3h0M638.8 436.9h0M638.2 438.6h0M640.2 438.6h0M639.5 439.6h0M642.4 438.9h0M641.5 439.9h0M667.7 411h0M666.4 410.7h0M664.3 411.1h0M665.8 412.9h0M665.7 413.7h0M629.2 439.1h0M630.2 439.9h0M589.8 410h0M588.6 412.5h0M590.6 414.1h0M595.6 408.8h0M600.6 415h0M608.4 415.3h0M602.3 421.6h0M584.3 422.9h0M599 428.6h0M599.3 434.4h0M610.9 430.3h0M625.3 420.8h0M624.8 426.3h0M621.9 432.9h0M592.3 449.6h0M590.3 463.2h0M584.3 469h0M574 483.2h0M514.3 420.8h0M506.4 446.1h0M503.9 473.2h0M553.9 408.6h0M563.9 419.9h0M554.2 428.3h0M583 422.4h0M573.5 483.2h0M583 469h0M508.6 508.3h0M528.6 508.6h0M528.1 511.1h0M503.9 473.1h0M549.4 500.6h0M536.9 506.9h0M545.6 513.6h0M540.6 518.6h0M539.2 521.6h0M545.2 532.7h0M573.8 483.1h0M575.8 493.3h0M583 468.6h0M590.6 463.6h0M584.5 469.1h0M573.7 483.1h0M575.7 493.3h0M636.6 438.3h0M637.4 439.7h0M637.6 441h0M638.5 438.8h0M639.9 441.1h0M640.3 436.8h0M640.4 438.3h0M641.1 440.7h0M640.8 441.3h0M641.7 436.6h0M643.4 438.4h0M643.8 439.9h0M644.6 435.5h0M644.4 435.7h0M645 437.3h0M644.9 440h0M646.1 440.1h0M646.7 434.7h0M647.2 435.1h0M647.8 437.3h0M647.2 439.8h0M647.9 435.1h0M648 437h0M648.7 438.6h0"/>
</g>
<rect x="371.7" y="330.5" width="309.1" height="218.9" fill="none" stroke="#1a1a1a" stroke-width="0.7"/>
<path d="M377.5 549.4v2.6M412.2 549.4v2.6M446.9 549.4v2.6M481.6 549.4v2.6M516.3 549.4v2.6M551 549.4v2.6M585.7 549.4v2.6M620.4 549.4v2.6M655.1 549.4v2.6M371.7 362.2h-2.6M371.7 402.4h-2.6M371.7 442.6h-2.6M371.7 482.9h-2.6M371.7 523.1h-2.6" stroke="#1a1a1a" stroke-width="0.7" fill="none"/>
<g font-size="7.5">
<text transform="translate(377.5 561) scale(0.94 1)" text-anchor="middle">−100</text>
<text transform="translate(412.2 561) scale(0.94 1)" text-anchor="middle">−75</text>
<text transform="translate(446.9 561) scale(0.94 1)" text-anchor="middle">−50</text>
<text transform="translate(481.6 561) scale(0.94 1)" text-anchor="middle">−25</text>
<text transform="translate(516.3 561) scale(0.94 1)" text-anchor="middle">0</text>
<text transform="translate(551 561) scale(0.94 1)" text-anchor="middle">25</text>
<text transform="translate(585.7 561) scale(0.94 1)" text-anchor="middle">50</text>
<text transform="translate(620.4 561) scale(0.94 1)" text-anchor="middle">75</text>
<text transform="translate(655.1 561) scale(0.94 1)" text-anchor="middle">100</text>
<text transform="translate(365.8 365.3) scale(0.94 1)" text-anchor="end">40</text>
<text transform="translate(365.8 405.5) scale(0.94 1)" text-anchor="end">20</text>
<text transform="translate(365.8 445.7) scale(0.94 1)" text-anchor="end">0</text>
<text transform="translate(365.8 486) scale(0.94 1)" text-anchor="end">−20</text>
<text transform="translate(365.8 526.2) scale(0.94 1)" text-anchor="end">−40</text>
</g>
<g font-size="9.3"><text transform="translate(526.2 326.1) scale(0.97 1)" text-anchor="middle">t-SNE (17 sec)</text></g>
<rect x="645.2" y="333.7" width="32.1" height="25" rx="1.3" fill="#fff" fill-opacity="0.8" stroke="#cccccc" stroke-width="0.6"/>
<circle cx="656.1" cy="341" r="2.6" fill="#1f77b4" stroke="none"/><circle cx="656.1" cy="352.2" r="2.6" fill="#ff7f0e" stroke="none"/>
<g font-size="7.5" text-anchor="middle"><text x="671.7" y="343.1">0</text><text x="671.7" y="354.3">1</text></g>
</g>
<text class="cap" x="162.35" y="289.1" text-anchor="middle"><tspan font-size="24.6">(</tspan><tspan font-size="22" dx="1.4" dy="-1.3">a</tspan><tspan font-size="24.6" dx="1.4" dy="1.3">)</tspan></text>
<text class="cap" x="517.8" y="289.1" text-anchor="middle"><tspan font-size="24.6">(</tspan><tspan font-size="22" dx="1.4" dy="-1.3">b</tspan><tspan font-size="24.6" dx="1.4" dy="1.3">)</tspan></text>
<text class="cap" x="181.0" y="602.0999999999999" text-anchor="middle"><tspan font-size="24.6">(</tspan><tspan font-size="22" dx="1.4" dy="-1.3">c</tspan><tspan font-size="24.6" dx="1.4" dy="1.3">)</tspan></text>
<text class="cap" x="524.9" y="602.0999999999999" text-anchor="middle"><tspan font-size="24.6">(</tspan><tspan font-size="22" dx="1.4" dy="-1.3">d</tspan><tspan font-size="24.6" dx="1.4" dy="1.3">)</tspan></text>
</svg></body></html>
